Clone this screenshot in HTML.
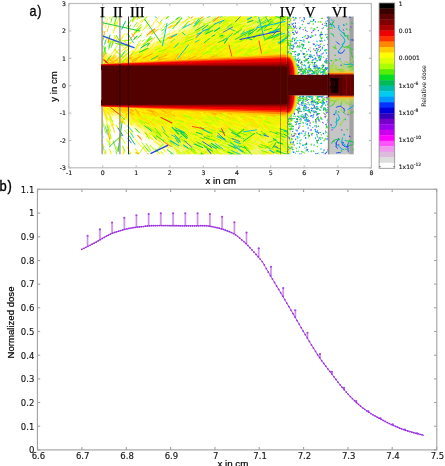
<!DOCTYPE html><html><head><meta charset="utf-8"><title>Dose figure</title><style>html,body{margin:0;padding:0;background:#fff;width:445px;height:466px;overflow:hidden}</style></head><body><svg width="445" height="466" viewBox="0 0 445 466" style="display:block">
<rect width="445" height="466" fill="#fff"/>
<defs>
<clipPath id="cA"><rect x="101.6" y="16.5" width="185.79999999999998" height="137.8"/></clipPath>
<clipPath id="cV"><rect x="287.4" y="16.5" width="40.5" height="137.8"/></clipPath>
<clipPath id="cVI"><rect x="327.9" y="16.5" width="25.80000000000001" height="137.8"/></clipPath>
<linearGradient id="gUp" gradientUnits="userSpaceOnUse" x1="0" y1="66" x2="0" y2="16.5"><stop offset="0" stop-color="#ffdc00"/><stop offset="0.25" stop-color="#ffea00"/><stop offset="0.55" stop-color="#f8f010" stop-opacity="0.9"/><stop offset="1" stop-color="#e4f040" stop-opacity="0.65"/></linearGradient><linearGradient id="gDn" gradientUnits="userSpaceOnUse" x1="0" y1="105.4" x2="0" y2="154.3"><stop offset="0" stop-color="#ffdc00"/><stop offset="0.25" stop-color="#ffea00"/><stop offset="0.55" stop-color="#f8f010" stop-opacity="0.9"/><stop offset="1" stop-color="#e4f040" stop-opacity="0.65"/></linearGradient>
<linearGradient id="g6t" x1="0" y1="0" x2="0" y2="1"><stop offset="0" stop-color="#99dd44" stop-opacity="0"/><stop offset="0.55" stop-color="#bbdd44" stop-opacity="0.6"/><stop offset="0.8" stop-color="#eecc22" stop-opacity="0.9"/><stop offset="0.9" stop-color="#ff6600"/><stop offset="1" stop-color="#dd1100"/></linearGradient><linearGradient id="g6b" x1="0" y1="1" x2="0" y2="0"><stop offset="0" stop-color="#99dd44" stop-opacity="0"/><stop offset="0.55" stop-color="#bbdd44" stop-opacity="0.6"/><stop offset="0.8" stop-color="#eecc22" stop-opacity="0.9"/><stop offset="0.9" stop-color="#ff6600"/><stop offset="1" stop-color="#dd1100"/></linearGradient>
<filter id="blur5" x="-20%" y="-20%" width="140%" height="140%"><feGaussianBlur stdDeviation="4"/></filter>
</defs>
<g clip-path="url(#cA)">
<polygon points="91.6,70.0 91.6,59.0 128,58.0 229,6.5 297.4,6.5 297.4,70.0" fill="url(#gUp)" filter="url(#blur5)"/>
<polygon points="91.6,101.4 91.6,112.4 118,113.4 194,164.3 297.4,164.3 297.4,101.4" fill="url(#gDn)" filter="url(#blur5)"/>
</g>
<g clip-path="url(#cA)">
<path d="M121.8 50.9L129.9 44.5M277.8 65.6L281.0 63.8M205.2 52.0L207.4 50.0M275.2 121.7L279.0 123.4M137.3 125.1L140.5 127.2M235.2 112.5L241.2 116.4M225.5 121.8L230.2 124.3M268.5 56.6L277.0 52.9M220.0 109.2L226.2 112.6M172.0 106.4L182.3 110.3M221.6 54.7L224.6 53.5M182.4 58.0L185.9 56.7M256.3 66.5L262.5 65.4M205.3 121.3L209.4 117.1M227.4 47.0L233.2 44.9M223.4 124.6L229.7 127.7M114.4 104.6L121.6 106.7M240.1 113.1L243.5 116.3M279.0 43.9L283.5 42.6M267.6 108.5L276.3 111.0M195.1 117.1L201.1 119.1M104.4 60.3L105.5 56.2M212.0 123.9L216.7 131.1M191.6 64.7L197.7 61.6M222.2 104.8L227.6 106.2M279.2 108.5L287.1 111.9M222.8 123.9L229.9 127.0M206.4 59.6L209.9 58.6M224.4 58.3L233.3 53.9M275.1 63.6L278.0 62.8M204.0 125.3L209.2 128.7M249.3 124.3L254.0 125.6M115.9 52.9L119.3 49.1M252.0 109.4L255.7 112.8M214.8 64.7L216.9 62.1M267.5 63.0L272.0 61.5M252.6 47.6L259.3 42.2M274.6 106.4L277.7 109.6M214.0 62.9L217.6 59.5M226.8 116.5L231.3 118.3M277.0 108.5L284.3 111.4M275.1 112.4L280.4 115.3M210.9 59.6L219.7 55.5M129.1 111.4L138.6 116.2M246.9 60.5L255.1 56.1M239.8 108.3L245.1 110.2M243.5 120.0L251.8 126.4M199.1 45.0L208.0 41.7" stroke="#ffdd00" stroke-width="0.9" fill="none" stroke-linecap="round"/>
<path d="M170.7 153.5L176.2 158.6M191.4 133.0L198.6 136.1M254.0 38.1L256.6 34.2M231.2 27.2L233.6 24.8M219.3 23.9L225.8 19.1M264.0 146.6L272.0 149.1M228.2 149.1L231.2 150.1M239.1 38.6L244.2 30.7M288.0 148.1L291.8 153.6M207.7 17.4L215.2 13.5M258.1 133.7L261.8 136.2M265.1 17.6L270.9 13.5" stroke="#33dd11" stroke-width="0.9" fill="none" stroke-linecap="round"/>
<path d="M203.4 25.0L211.2 21.7M223.1 136.4L229.0 142.1M179.8 133.1L188.0 136.1M229.3 140.0L234.2 142.3M222.1 25.7L229.6 20.5M190.1 145.1L193.0 146.8M219.3 27.8L228.9 23.3M228.7 35.6L232.1 32.0M207.5 39.1L210.7 37.7M237.6 23.4L243.2 20.9M259.8 30.6L268.9 24.6M243.2 151.3L245.8 154.8M239.1 128.2L245.0 131.8M284.8 142.4L294.2 145.1M283.4 134.7L289.8 136.6M269.9 152.9L277.3 150.8M213.1 139.4L218.9 142.4M230.0 142.1L236.9 148.6M261.9 153.8L264.3 156.5M225.2 136.8L229.4 138.5M245.1 129.1L251.5 131.4M276.1 133.5L280.7 135.7" stroke="#bbff00" stroke-width="1.1" fill="none" stroke-linecap="round"/>
<path d="M184.2 150.6L189.5 156.1M263.6 64.2L267.2 62.7M286.3 105.8L292.4 108.9M191.2 47.4L197.1 45.7M208.9 145.9L215.1 148.5M246.7 105.4L250.4 108.1M128.0 118.8L132.9 124.1M144.0 55.2L148.9 49.4M216.9 64.6L225.1 60.5M139.8 58.2L143.3 55.1M192.1 114.1L196.8 120.3M226.5 16.1L234.2 12.2M271.4 45.9L280.5 51.9M133.9 34.5L138.5 29.7M269.4 106.1L273.8 107.4M141.0 111.5L143.8 113.9M141.6 107.2L149.6 113.9M119.1 105.7L124.0 107.4M280.7 24.9L290.1 21.3M136.2 108.0L145.3 112.3M198.5 137.7L201.1 139.4M222.8 150.1L231.5 155.1M284.2 132.5L294.6 136.1M247.8 45.3L254.8 41.0M157.8 116.8L160.9 118.8M245.0 46.7L250.9 48.4M287.0 40.1L292.4 31.8M204.0 51.8L209.2 47.5M190.1 133.7L198.2 138.9M183.6 66.6L193.1 62.9M100.3 65.8L101.6 60.9M222.7 51.2L225.9 50.3M241.3 109.6L251.4 112.9M160.8 49.5L164.6 46.2M133.9 57.8L142.1 52.4M261.4 113.4L269.8 117.8M280.0 51.9L290.0 47.8M240.9 66.1L248.0 63.3M217.4 151.8L226.2 157.9M169.4 126.0L178.5 122.2M285.9 115.8L293.5 118.1M242.3 28.4L251.8 24.1M191.0 61.8L199.8 56.2M180.3 46.1L184.9 44.3M259.6 105.1L268.0 109.3M132.0 50.7L134.6 52.5M157.1 43.6L161.9 40.5M206.0 133.8L213.5 131.7M254.3 44.3L256.7 42.1M157.8 27.5L161.7 22.4M206.1 114.0L214.8 116.5M231.4 149.5L234.2 150.8M228.6 153.4L236.8 157.6M119.5 123.8L122.8 119.1M274.7 16.8L278.6 13.7M181.3 65.9L189.9 60.6M185.7 50.4L194.9 46.3M260.9 62.1L265.7 55.0M206.6 29.1L214.2 25.8M160.5 103.7L166.0 111.5M185.5 110.2L188.6 111.7M118.6 42.2L124.6 33.7M105.7 108.6L110.2 114.9M225.3 48.0L230.7 43.1M208.7 136.0L212.2 140.4M194.2 34.1L197.7 32.9M104.8 110.2L108.1 106.4M207.1 38.0L211.8 36.5M207.8 145.7L215.2 148.8M138.9 57.2L143.2 55.2M215.4 134.8L219.3 136.7M173.8 129.2L176.1 131.4M281.8 109.6L285.5 110.7M240.0 27.6L247.1 22.7M269.8 36.7L278.3 33.5M109.3 139.6L110.3 143.4M100.7 68.1L103.3 58.5M283.7 118.6L288.8 120.2M253.7 65.6L256.9 64.6M170.1 43.9L173.4 41.6M255.7 123.4L265.0 126.5M165.4 40.4L171.3 36.4M195.8 117.9L204.7 123.2M250.2 113.4L255.0 115.0M166.1 18.4L172.7 11.8M137.9 32.6L141.7 26.8M104.1 64.8L109.6 58.1M124.4 107.6L128.4 109.5M202.2 142.8L208.7 148.2M172.0 46.7L177.6 42.7" stroke="#ffff00" stroke-width="1.1" fill="none" stroke-linecap="round"/>
<path d="M235.4 119.1L240.5 121.6M113.3 33.0L116.2 22.4M154.3 58.2L159.9 54.3M145.0 51.8L148.9 48.7M262.6 36.2L272.6 32.4M186.1 113.6L192.9 119.9M121.5 119.5L124.6 122.5M204.4 150.0L211.6 157.7M256.6 143.8L260.7 149.3M144.5 65.6L153.9 61.9M217.2 21.7L219.9 19.8M280.1 120.8L285.7 124.2M120.3 119.9L125.3 124.2M215.5 147.4L219.0 149.0M148.4 56.5L156.4 51.2M141.0 68.0L146.3 61.0M260.3 140.9L262.9 144.1M261.7 141.2L266.8 146.1M238.0 32.1L244.5 23.3M229.7 32.0L233.1 33.5M128.1 113.7L131.5 112.6M208.0 150.2L212.6 152.4M262.3 125.2L269.5 128.1M152.3 129.7L160.2 134.5M176.2 37.1L185.0 30.7M219.4 137.9L225.1 141.0M185.8 109.4L189.2 110.6M191.6 139.6L197.6 142.8M264.6 109.9L267.2 112.7M207.1 107.9L213.0 113.6M222.9 37.0L229.9 33.2M269.5 62.8L275.6 65.9M228.5 56.1L231.7 55.1M204.7 67.0L208.6 61.7M109.7 18.0L110.8 13.8M231.8 60.4L240.4 54.6M238.0 107.8L243.5 113.9M203.0 63.2L207.3 61.4M128.5 60.5L135.6 58.4M266.0 55.1L271.0 53.4M140.1 59.0L148.4 56.7M174.5 109.9L181.5 114.4M248.7 136.2L256.3 138.3M202.9 59.3L207.6 52.9M285.2 121.8L288.0 124.6M178.6 131.0L182.1 133.0M234.1 41.2L237.7 37.9M99.0 51.2L100.3 56.0M208.6 131.2L215.3 134.7M173.8 64.3L179.7 62.2M276.4 146.3L283.8 149.8M274.2 104.7L282.5 109.9M169.8 131.2L180.0 135.2M99.3 62.9L102.0 52.8M203.1 153.4L209.9 157.2M224.0 143.0L228.0 144.4M112.8 107.9L118.2 110.0M183.0 65.5L190.3 63.4M169.8 28.0L178.5 22.4M275.6 44.2L281.4 42.6M168.9 137.0L172.6 142.8M265.9 108.1L269.5 112.0M125.9 60.9L133.9 57.4M213.6 24.5L222.4 21.1M224.1 62.5L228.4 58.2M275.8 150.9L282.5 155.3M259.1 27.2L267.4 24.2M213.6 111.6L217.7 113.0M218.1 38.1L225.9 35.4M135.3 148.9L141.6 157.5M100.8 61.7L103.0 53.4M262.5 132.9L267.8 135.6M269.2 153.4L274.3 151.7M268.7 62.1L274.0 58.8M235.1 54.4L240.6 50.1M255.2 154.8L261.7 157.1M180.0 139.6L183.3 141.7M278.4 62.1L283.4 58.8M206.4 105.0L214.5 111.3M280.7 64.0L285.0 61.2M231.6 152.2L238.4 155.2M168.8 104.7L174.3 108.5M233.7 28.7L239.8 23.0M162.8 63.7L168.1 61.3M188.9 42.8L193.9 41.2M231.7 107.8L238.4 113.1M236.7 51.9L240.0 55.5M154.1 141.1L160.0 145.3M222.8 31.1L226.6 28.2M133.6 51.8L140.5 43.5M142.6 147.2L146.3 152.0M162.8 103.0L168.5 110.4M198.2 49.3L202.6 47.5M262.1 12.4L267.5 15.5M266.7 152.3L272.2 155.6M266.4 143.8L271.2 145.7M278.5 17.8L287.0 15.3M173.6 108.3L178.8 111.4M215.4 147.4L220.1 153.8M145.1 132.2L152.7 139.5M183.4 40.5L192.7 35.7M277.2 108.8L280.3 110.0M164.8 57.0L171.6 54.0M162.9 148.2L165.2 151.7M275.8 31.6L279.6 30.5M206.4 134.8L211.1 136.3M131.9 59.2L140.3 53.4M238.8 22.8L245.0 14.1M222.1 108.9L231.0 113.0M174.6 147.2L179.9 155.2M219.9 35.4L227.4 33.3M245.0 51.3L247.3 48.7M258.5 105.5L261.3 107.6M109.8 149.3L111.5 155.4M266.7 145.1L276.7 148.1M197.9 40.4L207.2 35.8M186.5 150.7L190.9 153.3M159.7 105.6L163.9 112.4M280.9 33.6L284.3 29.4M122.6 155.4L124.1 150.3M207.9 118.6L210.8 120.4M261.8 145.0L265.9 148.9M233.2 134.7L237.3 137.4M178.4 46.7L186.7 43.5M248.4 141.5L256.6 144.7M197.7 64.9L205.8 62.6M284.1 115.6L288.7 116.9" stroke="#ffee00" stroke-width="1.1" fill="none" stroke-linecap="round"/>
<path d="M279.8 18.8L286.3 16.3M108.8 141.3L110.0 146.0M273.0 54.0L279.3 50.5M223.0 24.0L229.2 17.7M281.4 44.2L285.0 42.9M179.8 137.6L184.9 142.5M239.9 28.0L245.3 25.6M134.4 32.7L141.1 24.5M175.9 132.5L182.7 137.6M144.3 20.1L146.9 15.9M235.8 52.9L245.3 49.2M149.5 54.9L152.9 53.2M121.4 55.3L124.5 52.7M263.3 114.2L269.3 118.5M250.0 50.4L256.7 46.5M263.7 53.6L269.2 49.5M271.5 21.9L277.6 16.1M199.3 155.3L208.8 150.8M165.7 52.3L170.6 50.8M214.6 116.7L220.2 118.5M227.9 36.3L235.5 34.2M213.0 117.1L219.8 119.0M275.2 138.3L278.5 136.8M267.7 26.2L272.9 22.6M100.1 43.2L101.0 39.8M255.3 116.6L265.2 120.0M156.5 150.8L163.1 144.0M285.5 19.2L288.3 15.6M235.4 139.3L239.6 141.3M202.7 151.5L205.2 153.2M109.8 117.3L112.7 121.6M281.0 130.9L288.3 134.7M194.6 138.3L197.6 140.1M227.4 46.9L231.2 45.7M137.9 119.9L145.4 124.0M271.2 154.6L279.8 158.3M199.1 139.7L205.6 146.4M108.7 129.6L111.1 138.5M287.1 18.3L291.7 13.1M155.4 49.9L159.9 47.9M193.7 26.2L200.5 22.7M252.6 22.9L262.1 19.2M211.1 53.3L219.2 58.6M281.3 144.6L289.8 151.0M267.6 46.6L270.6 48.3M253.6 115.6L256.3 117.6M255.7 49.2L264.5 44.5M210.2 129.3L215.5 131.0M115.2 50.1L123.1 57.6M242.1 142.5L246.9 148.4M197.4 41.7L203.4 38.2M208.2 54.4L215.3 51.9M247.5 30.4L254.3 28.4M275.0 135.4L284.1 140.0M146.2 143.8L150.9 151.0" stroke="#aaff00" stroke-width="1.1" fill="none" stroke-linecap="round"/>
<path d="M168.1 49.9L174.6 47.3M149.3 125.1L151.8 128.8M96.9 116.5L98.3 121.7M238.4 131.5L246.6 138.3M268.1 129.9L272.6 131.3M268.1 31.1L272.6 24.8M271.0 126.6L278.3 130.6M260.6 116.1L265.3 117.4M252.4 124.7L257.0 117.7M170.0 120.8L177.8 126.9M99.6 23.3L101.7 15.3M102.4 35.5L103.5 31.4M283.5 127.1L289.7 129.1M126.6 35.2L130.6 29.6M186.7 133.1L190.6 134.5M218.8 129.6L227.7 134.4M277.7 47.0L286.2 43.4M187.2 131.1L192.3 134.7M154.3 132.5L160.2 137.3M242.1 138.4L249.7 140.8M218.7 38.9L224.3 33.7M215.7 48.8L220.6 44.6M165.7 145.7L168.7 147.9M208.8 116.6L216.3 119.2M271.3 38.0L279.3 35.1M262.2 46.3L267.7 37.7M216.9 116.5L221.3 119.0M248.3 53.7L252.7 52.1M160.2 38.9L169.2 33.6M232.1 140.9L240.7 147.2M175.0 125.4L183.4 129.1M266.1 145.3L269.9 146.7M237.2 42.5L245.0 38.8M232.8 119.7L238.9 126.5M275.6 52.7L281.5 49.7M196.8 51.9L202.5 49.6M245.4 123.5L252.4 125.7M146.2 27.8L148.9 23.8M242.5 134.3L250.9 141.2M145.8 36.9L152.1 31.9M182.5 48.1L190.9 44.5M209.8 53.9L215.6 52.3M131.1 115.5L134.1 118.4M251.2 53.9L254.2 52.9M157.4 154.2L161.3 159.4M212.4 44.3L218.8 40.0M243.8 131.8L249.2 139.7M267.9 154.8L277.6 157.7M235.0 138.5L241.8 143.7M252.0 49.9L255.3 48.4M177.6 149.2L183.3 156.7M112.9 42.2L114.5 37.6M121.3 46.1L125.8 39.9M272.8 123.8L277.5 126.2M210.2 133.6L216.0 136.7M226.4 40.3L232.5 37.2M212.9 117.4L221.8 120.1M244.4 132.7L247.7 137.7M186.6 118.3L189.5 120.1M204.7 40.7L210.2 33.2M221.2 148.2L228.0 152.6M272.8 146.9L277.2 149.0M151.7 122.2L155.4 123.5M244.9 49.8L249.0 46.9M235.5 21.7L242.8 18.7M207.4 52.5L216.6 48.8M259.9 17.6L264.9 10.0" stroke="#ddff00" stroke-width="0.9" fill="none" stroke-linecap="round"/>
<path d="M196.9 47.7L203.5 43.3M162.2 114.9L172.3 118.8M272.1 49.0L277.7 45.8M238.9 126.1L243.1 133.0M128.5 105.5L131.1 108.7M240.3 63.0L247.4 59.6M280.5 141.0L290.6 144.9M266.9 144.9L272.8 147.8M224.5 38.9L227.2 36.2M175.5 117.5L185.2 120.4M163.9 116.9L171.9 119.4M155.2 124.1L158.5 127.2M159.9 123.0L165.7 125.5M224.9 21.0L231.5 18.1M184.4 55.6L191.1 52.0M262.4 129.3L269.4 131.4M96.0 64.1L98.3 55.4M156.3 60.2L160.4 58.8M277.1 145.7L282.6 142.0M238.0 19.3L247.7 15.5M264.2 48.8L271.2 44.8M148.2 117.4L151.9 119.5M213.2 110.5L220.8 118.3M111.4 26.4L112.3 23.2M163.9 132.0L167.3 136.3M167.0 111.4L175.4 108.8M244.0 39.6L248.6 38.1M260.8 56.8L267.3 54.7M173.3 39.6L175.3 36.9M286.1 18.9L291.3 17.3M268.4 151.3L272.9 152.6M170.5 135.6L175.6 139.2M283.4 62.8L290.5 55.8M191.1 107.4L197.6 109.2M182.9 146.1L189.2 149.6M234.5 57.4L239.1 54.9M269.9 62.6L276.4 59.3M161.0 125.2L169.8 128.6M268.4 64.1L272.7 61.4M253.8 133.1L262.1 137.1M247.1 123.1L252.7 126.1M225.7 121.2L232.9 125.8M268.8 60.1L273.6 64.2M122.2 146.4L124.8 153.4M228.6 134.0L234.3 136.6M234.4 20.5L240.8 16.9M210.0 116.0L216.6 118.2M142.1 106.2L149.7 109.3M103.8 110.8L106.5 117.2M260.1 24.9L262.9 21.5M229.7 140.6L235.1 142.8M136.2 105.6L139.6 109.4M222.6 153.2L231.5 159.2M108.0 134.0L109.5 139.4M186.0 113.9L189.9 119.4M267.1 124.3L276.6 127.3M272.0 113.9L277.7 112.1M210.9 104.2L218.8 109.1M241.0 119.5L250.7 122.9M266.0 107.9L275.0 113.0M201.3 38.9L209.5 32.8M242.4 120.1L248.7 122.0M143.2 115.6L151.9 118.1M213.0 123.5L218.6 126.6M177.9 43.7L185.0 41.2M180.1 125.4L186.9 132.4M258.7 64.8L261.9 63.8M252.5 104.1L259.0 107.2M252.8 47.6L259.7 39.3M238.5 153.9L246.0 156.8M251.4 141.5L256.3 143.7M258.7 128.9L265.2 131.0M102.8 64.1L108.0 55.7M124.5 116.0L128.8 118.2M108.4 131.3L110.3 138.5M285.5 31.2L293.7 36.5M142.2 59.8L147.3 65.0M259.5 50.4L268.0 47.9M204.0 67.2L212.9 62.5M275.9 150.3L282.9 154.7M154.0 54.6L162.9 51.3M253.3 118.6L257.1 124.2M287.4 25.1L292.5 22.8M204.5 113.4L209.7 115.4M261.3 63.6L269.8 61.2M204.2 117.8L208.2 119.1M271.3 134.0L277.5 141.8M262.6 53.3L269.9 59.4M262.2 47.1L265.0 45.5M183.5 59.1L189.1 56.5M236.1 62.0L239.9 60.2M245.4 62.7L249.3 59.4M281.9 141.9L290.8 145.1M271.9 17.4L276.3 15.6M161.0 68.0L169.4 61.1M145.2 112.3L151.1 114.8" stroke="#ffff00" stroke-width="0.8" fill="none" stroke-linecap="round"/>
<path d="M264.0 48.5L268.1 43.0M197.5 41.4L203.7 39.6M215.8 118.8L222.3 121.0M207.0 44.1L217.3 48.0M219.2 114.4L226.6 117.5M222.3 25.2L225.9 22.3M254.9 55.9L257.2 53.6M162.2 117.2L167.1 119.1M220.8 33.4L223.3 31.0M232.6 38.4L235.7 34.9M244.8 37.7L248.4 35.4M198.2 42.3L203.9 39.3M241.8 47.0L245.6 42.1M253.2 57.1L259.8 52.2M102.4 118.6L104.4 126.0M263.9 52.5L267.7 53.6M261.1 114.5L266.4 117.4M149.4 132.8L156.0 137.6M276.7 142.6L286.9 145.5M235.8 139.0L238.9 140.9M163.9 40.7L170.6 37.8M152.4 116.3L156.3 119.2M223.6 149.3L231.8 153.1M194.4 51.0L202.7 48.5M231.4 39.5L240.9 36.7M233.4 115.2L243.3 119.8M283.8 44.7L293.0 40.5M277.1 141.6L286.9 146.1M208.3 160.2L216.0 154.1M166.8 57.2L172.6 51.3M162.1 42.1L169.3 36.6M262.0 54.4L265.8 52.8M160.1 122.7L164.8 117.7M281.6 23.2L286.6 27.8M202.7 144.8L210.8 149.0M229.5 129.1L236.3 126.5M256.2 57.1L264.8 54.4M237.0 121.2L244.5 124.8M212.8 50.8L221.2 47.4M212.0 155.8L217.3 158.7M277.7 145.6L287.3 150.5M232.6 131.3L236.5 137.3M193.4 52.5L198.9 48.8M232.0 56.0L240.1 53.1M256.9 39.5L263.7 35.6M134.2 115.8L138.4 121.4M222.5 53.4L226.9 51.3M219.8 141.9L224.5 144.4M191.5 143.0L194.3 144.9M239.7 142.8L243.0 146.1M209.7 42.5L215.4 40.5M193.7 39.8L199.5 38.0M215.6 25.2L224.5 19.1M179.1 49.6L184.6 45.1" stroke="#eeff00" stroke-width="0.8" fill="none" stroke-linecap="round"/>
<path d="M286.3 127.6L291.8 131.6M241.1 119.2L246.0 122.5M161.9 132.0L167.1 135.8M238.3 28.8L242.0 25.0M279.8 30.9L287.7 28.6M217.8 107.4L224.6 111.5M233.1 122.0L238.5 126.4M270.0 144.6L277.3 150.8M262.9 154.4L272.7 159.0M186.7 57.0L190.5 56.0M259.7 136.7L265.6 138.6M210.2 131.4L216.2 133.1M181.6 61.6L190.7 58.4M286.7 153.1L291.8 157.5M208.8 32.9L215.9 30.3M141.7 22.8L143.9 19.2M277.0 117.4L282.0 123.1M180.7 108.5L185.9 111.2M206.3 49.5L208.6 46.7M160.4 61.5L162.9 59.4M242.6 147.0L248.8 143.7M269.3 142.2L276.0 144.0M237.9 108.8L244.3 116.0M248.9 58.1L253.8 56.8M228.0 129.2L231.0 131.0M260.3 34.2L265.1 27.0M200.3 149.4L205.1 153.2M163.6 139.8L169.8 144.3M196.9 146.5L202.9 153.1M208.4 126.6L212.1 127.9M267.7 117.5L274.6 120.7M249.5 61.1L256.7 57.5M252.8 104.7L261.9 106.3M169.7 129.2L174.9 136.0M246.8 143.6L252.4 149.4M258.8 63.3L264.6 59.5M218.7 20.7L227.6 14.7M162.2 63.1L169.0 61.1M247.4 120.8L255.3 124.9M242.3 43.4L245.2 42.2M218.6 57.2L221.4 55.7M275.2 111.7L283.2 114.5M184.5 51.4L188.2 49.9M234.7 142.0L238.7 143.4M202.3 129.3L209.2 137.0M137.2 110.4L141.5 111.7M248.4 108.7L257.6 114.0M181.2 23.0L188.9 18.8M240.5 124.1L242.5 126.5M139.2 55.4L144.1 53.8M265.3 47.9L269.1 46.5M273.4 31.6L276.3 27.8M213.9 29.6L222.2 24.2M122.2 61.3L130.1 58.0M157.2 153.5L164.3 160.3M185.0 37.7L188.8 36.3M165.0 119.6L171.9 121.7M231.2 105.8L237.7 108.6M174.7 133.7L181.2 138.3M234.3 146.9L241.6 150.7M190.8 58.5L193.9 57.5M286.4 57.7L289.4 59.3M233.5 19.3L236.6 16.8M140.7 58.2L149.6 53.8M120.2 41.1L122.9 36.8M260.9 149.2L264.2 154.3M187.8 38.8L191.7 36.6M141.0 109.3L147.8 117.5M151.1 64.6L156.5 62.7M147.1 120.2L155.1 123.0M179.5 107.2L189.4 110.9M257.1 117.3L260.9 119.3M230.2 64.0L239.0 60.7M205.7 109.4L210.1 111.1M128.8 58.2L135.9 55.1M160.1 109.1L168.8 114.9M209.3 27.1L215.3 22.5M189.8 63.7L193.0 62.7M215.4 63.3L220.6 61.6M201.5 36.1L205.7 31.3M149.3 28.7L155.7 20.6M228.2 124.0L235.8 121.5M252.1 67.0L261.4 62.9M143.5 107.2L145.6 110.6M104.9 110.0L108.2 120.2M224.9 118.2L228.4 120.5M148.5 116.9L153.7 118.3M187.5 50.0L190.4 48.4M237.2 35.8L240.3 35.0M256.6 143.4L264.8 147.0M267.3 19.7L274.6 16.0M193.5 53.4L202.5 50.5M286.7 53.5L290.8 50.4M96.9 113.3L99.7 102.9M152.7 120.7L160.2 118.6M242.8 57.6L248.4 56.1M220.6 112.4L226.9 114.4M186.2 59.0L194.9 56.2M100.0 26.9L102.4 18.0M201.1 128.4L209.5 131.1M279.4 22.4L286.7 16.5M234.1 47.7L239.3 40.3M164.7 52.3L167.2 50.6M95.2 103.5L98.2 109.2M202.1 46.7L207.5 41.5M109.4 109.9L112.9 115.4M254.4 108.4L262.6 112.2M170.8 137.5L178.8 143.9M166.4 63.5L171.0 61.2M233.2 107.5L237.1 110.7M286.3 110.1L289.2 112.4M156.2 19.7L159.2 23.5M138.4 62.8L145.5 56.5M279.5 104.9L285.5 111.5M125.2 108.8L130.4 111.1M136.4 65.8L140.3 64.4M203.7 60.7L210.8 63.0M274.1 113.6L276.6 116.5M100.8 104.4L108.9 110.6M284.2 145.1L287.5 150.5" stroke="#ffee00" stroke-width="0.9" fill="none" stroke-linecap="round"/>
<path d="M246.5 142.7L252.3 146.9M146.1 63.8L152.5 58.3M239.9 59.1L244.3 56.1M149.6 107.1L154.6 108.8M153.3 63.5L156.3 62.5M213.0 36.4L222.6 33.1M172.2 64.2L178.0 61.7M154.1 104.9L160.3 106.1M121.1 44.2L125.7 50.4M212.5 137.6L218.6 139.4M280.9 21.0L286.9 18.2M202.4 112.3L205.3 113.5M148.1 51.0L154.3 43.1M187.3 142.7L195.2 149.5M169.0 109.1L177.8 113.6M272.0 27.7L277.0 21.1M244.2 17.0L248.6 12.8M279.9 54.0L284.0 52.7M269.2 106.5L274.3 111.6M205.2 128.3L208.3 130.4M138.6 11.9L141.2 15.9M193.4 114.9L201.3 119.9M219.7 122.5L227.9 120.0M181.1 125.4L191.2 128.9M227.0 61.1L231.2 59.6M208.7 60.4L216.7 58.1M114.3 35.4L118.8 44.3M280.5 19.3L285.5 17.3M234.4 58.1L238.7 55.6M97.9 66.3L99.1 62.8M166.6 116.2L175.0 121.3M286.7 66.2L291.4 64.8M258.1 113.3L262.0 115.3M269.0 49.2L272.7 44.7M177.3 138.6L181.4 140.5M154.9 119.7L161.3 122.3M235.3 56.7L243.4 53.7M228.9 118.4L237.2 121.6M239.9 140.7L248.5 146.3M147.2 114.2L152.9 116.0M255.2 153.7L259.5 157.3M268.0 60.5L274.4 54.1M284.4 115.0L294.9 118.2M198.0 108.6L201.6 114.2M270.8 151.6L275.0 152.9M131.6 106.8L138.1 110.7M143.2 109.2L152.3 113.8M151.8 106.1L158.2 111.0M106.0 63.6L109.5 59.2M155.5 135.4L162.0 143.2M287.0 23.6L291.4 20.8M250.8 66.1L259.7 60.1M214.4 150.1L218.2 152.0M158.9 55.4L166.3 49.9M226.4 57.0L229.4 55.5M190.3 57.6L192.9 55.8M173.9 59.5L180.6 53.8M253.2 109.3L262.3 114.2M229.4 109.7L234.1 116.3M226.7 23.1L231.4 18.7M162.8 67.3L171.3 62.1M230.2 138.1L234.2 139.3M269.1 105.3L273.8 107.7M215.3 21.6L218.8 19.4M234.1 16.8L243.1 12.4M191.0 44.7L200.3 40.9M165.9 57.6L170.0 55.9M223.7 32.8L227.5 31.4M193.4 131.4L197.9 134.2M215.4 128.7L222.8 135.2M182.6 65.4L191.2 62.2M189.9 141.6L193.7 144.0M160.2 129.0L163.5 130.8M163.6 131.0L167.3 135.5M234.6 148.0L239.8 155.9M246.1 40.6L248.9 37.3M279.9 29.6L289.9 26.3M213.0 121.2L218.5 130.0M264.2 35.8L266.8 37.3M111.0 110.7L113.8 112.3M228.2 153.7L234.2 157.7M241.5 61.6L246.4 59.0M206.0 140.4L210.3 143.8M192.6 40.2L198.7 38.3M213.2 52.4L220.7 48.5M245.0 105.2L250.8 108.1M193.5 39.7L199.6 36.7M268.0 60.1L274.3 58.0M134.3 111.6L139.4 119.2M243.8 21.5L249.3 19.6M274.5 110.9L278.9 112.8M219.5 120.1L225.6 122.3M191.4 110.1L196.4 107.5M224.0 156.0L230.9 152.9M236.1 132.2L241.3 127.1M200.0 132.1L210.1 136.2M248.6 36.0L256.1 33.7M214.3 31.7L216.8 29.2M239.6 21.3L244.7 19.3M195.6 117.1L202.1 121.7M283.0 67.6L291.2 61.1M273.2 149.1L278.0 152.3M136.8 56.0L145.1 50.9M181.2 106.6L189.6 113.0M256.7 112.6L259.5 115.5M255.4 16.9L262.3 11.9M210.3 134.0L213.8 136.5M228.7 33.8L233.3 30.6M271.2 143.2L275.4 146.2M117.7 111.6L120.9 114.4M214.8 107.2L219.0 109.3M244.6 149.8L246.7 152.8M270.7 149.0L280.1 154.5M163.7 108.5L172.0 111.3M276.3 128.2L282.0 130.9M220.2 30.2L226.5 23.0M168.7 51.6L176.1 46.0M248.0 20.6L251.8 19.2M264.3 59.8L272.8 56.7M197.1 127.5L199.8 129.2M214.4 145.4L220.9 149.6M247.7 65.9L258.2 62.8M229.1 46.2L233.7 40.7M126.9 146.9L131.0 153.7M241.6 128.6L246.1 132.2M246.3 129.9L251.5 131.7M284.4 52.1L289.6 47.5M269.6 18.0L273.6 16.9M243.4 22.9L245.8 19.6M229.8 43.0L232.9 41.3M268.8 133.9L271.4 135.6M283.2 107.7L293.4 111.0M173.1 65.3L177.5 63.5M244.0 29.9L252.6 27.3M107.2 111.8L111.3 117.7M263.0 109.6L270.7 112.1M118.3 140.8L120.4 133.4M228.8 60.5L235.4 54.9M98.3 151.9L100.4 159.7M99.9 47.1L102.4 37.7M252.3 117.9L261.6 122.8M165.9 121.2L169.7 124.2M199.4 20.3L202.8 16.6M216.4 64.0L223.5 60.0M278.2 120.6L284.9 122.5" stroke="#ffee00" stroke-width="1.0" fill="none" stroke-linecap="round"/>
<path d="M285.3 142.2L291.5 150.6M173.3 125.7L179.9 128.1M203.5 122.4L213.5 125.8M160.7 29.5L165.0 23.9M220.3 113.3L225.0 118.3M156.7 19.6L162.8 11.7M161.3 152.4L165.3 156.4M118.9 118.4L121.7 114.5M206.0 48.9L209.2 46.2M194.4 32.4L198.9 30.3M156.0 149.9L163.6 157.2M194.1 20.2L198.5 17.8M165.4 55.1L168.2 51.8M276.0 29.2L285.9 25.3M170.9 37.8L178.6 33.0M285.7 49.4L292.8 46.7M280.7 118.8L285.5 121.1M127.6 129.7L130.4 132.6M252.7 119.7L260.0 125.3M227.4 47.9L234.7 45.7M237.4 130.2L243.0 125.4M233.1 48.6L236.6 44.0M254.5 39.7L261.5 35.1M267.2 55.5L276.2 52.8M282.9 26.1L290.9 23.7M187.3 133.6L191.0 139.0M196.5 136.0L201.5 138.4M165.8 122.1L169.1 123.3M181.7 133.1L186.8 137.7M263.2 136.3L266.0 134.0M142.6 30.7L147.1 25.1M280.9 20.3L289.6 14.1M211.7 152.6L219.4 157.1M230.8 129.1L241.1 132.9M268.9 15.1L273.9 13.4M220.1 120.2L226.2 122.1M199.3 46.5L206.7 42.2M231.7 51.0L239.8 54.7M176.3 51.2L185.6 45.6M279.2 128.0L285.0 130.3M232.8 38.7L241.3 33.9M197.2 146.3L200.8 150.8M245.4 34.7L250.6 32.4M127.6 160.0L130.8 152.7M209.7 135.0L213.4 137.9M282.1 55.5L286.8 54.1M251.2 144.2L254.4 147.6M162.3 52.8L165.2 49.8M280.3 26.8L283.7 25.8" stroke="#ddff00" stroke-width="1.0" fill="none" stroke-linecap="round"/>
<path d="M219.0 56.8L227.3 54.2M284.5 17.4L288.0 15.6M230.3 47.3L237.2 41.4M225.3 149.8L228.3 152.7M179.2 126.5L185.5 128.4M213.5 21.6L218.3 17.2M146.0 122.9L149.4 124.7M135.6 48.1L140.5 40.3M192.7 152.2L200.3 159.6M247.2 18.9L256.1 15.2M267.4 128.0L274.2 131.5M274.2 24.9L279.3 22.9M139.5 122.0L146.0 128.4M244.7 52.0L249.9 48.0M117.2 113.6L121.9 119.0M229.2 156.0L231.6 158.5M283.7 26.8L288.3 25.4M158.7 50.4L164.1 44.5M195.6 121.9L202.1 124.7M158.4 116.2L162.5 119.7M149.2 128.3L154.8 135.9M222.8 122.5L227.7 124.6M126.1 54.3L129.4 52.2M278.2 142.9L281.7 144.2M274.7 22.3L280.4 19.1M226.9 122.4L232.1 124.7M142.6 116.2L149.3 119.5M273.8 54.6L280.1 48.4M231.4 37.1L235.1 34.9M189.7 48.3L194.4 46.7M215.6 48.6L221.9 46.2M270.4 135.8L276.7 140.8M119.8 134.8L125.2 143.7M272.5 129.4L277.6 134.6M163.0 137.7L166.6 141.7M271.2 135.4L274.6 136.4M182.9 42.3L185.4 44.2M255.4 52.8L259.0 50.6M99.7 134.7L102.3 144.4M268.1 46.8L277.4 40.9M241.3 54.8L248.6 52.3M176.3 120.0L184.4 123.6M199.1 120.0L203.3 118.4M190.6 43.1L197.8 37.2M178.8 114.9L187.3 117.5M167.9 142.0L171.4 136.7M136.1 115.8L139.7 117.3M268.5 127.0L275.9 129.1M181.8 152.5L186.6 157.5" stroke="#ccff00" stroke-width="0.9" fill="none" stroke-linecap="round"/>
<path d="M129.3 57.7L133.1 52.2M105.3 18.8L107.6 10.1M203.5 53.9L211.7 51.5M224.8 112.6L230.6 119.6M212.3 53.5L215.8 51.0M236.5 142.4L244.7 148.7M171.4 48.6L179.7 42.6M185.3 152.3L190.8 148.8M212.9 120.5L218.8 122.8M271.5 41.6L274.5 43.3M209.4 128.9L213.2 131.0M178.8 123.6L187.4 129.4M114.5 49.6L118.8 43.4M141.7 41.9L144.6 39.6M161.8 34.7L166.0 28.7M124.5 130.2L130.2 136.5M156.7 56.7L162.3 53.7M223.8 153.8L228.9 156.5M273.1 53.7L277.0 56.4M277.4 114.8L283.7 121.4M172.3 122.1L179.1 124.4M192.0 141.4L200.2 146.5M162.2 42.4L168.7 37.7M267.1 118.9L270.0 120.2M265.3 53.9L272.1 50.6M275.5 150.4L280.8 153.2M193.6 150.1L199.9 154.7M167.4 138.3L173.0 147.4M239.3 42.3L248.8 38.3M282.6 43.1L286.5 37.0M208.8 118.7L211.8 120.7M188.7 138.8L195.3 143.3M220.2 48.7L224.4 46.6M108.6 49.6L111.3 39.6M193.8 127.7L200.7 129.8M230.0 121.2L232.0 124.4M210.8 49.0L217.3 44.8M249.1 121.1L255.9 126.9M267.6 25.4L275.6 22.8M204.0 129.0L211.9 134.9M219.6 30.9L229.2 27.9M280.2 33.9L288.0 27.4M205.1 46.9L212.8 43.8M141.7 142.2L147.7 151.0M167.0 119.4L171.6 121.3M134.9 152.1L137.8 156.5M152.1 118.9L154.9 120.1M180.2 135.5L185.8 139.5M269.1 55.5L272.6 53.3" stroke="#aaff00" stroke-width="0.8" fill="none" stroke-linecap="round"/>
<path d="M125.9 108.9L133.2 115.1M279.3 105.8L284.4 107.7M147.9 108.7L154.3 111.5M201.1 64.6L210.5 60.6M132.8 113.7L141.2 116.5M151.5 34.2L158.2 29.4M227.2 105.5L232.2 108.6M232.1 58.7L234.3 56.5M167.1 62.8L173.3 61.0M212.6 112.7L216.9 113.9M152.2 60.3L158.2 57.8M199.5 65.3L203.1 63.5M109.8 60.0L113.3 57.3M258.6 108.5L266.1 110.6M190.6 24.7L195.3 21.0M204.7 104.1L210.1 110.5M279.6 58.9L283.9 56.9M264.0 106.9L270.7 109.0M285.9 65.6L291.5 64.0M191.6 65.3L196.0 63.3M222.8 109.9L231.9 113.8M201.5 104.9L204.1 107.9M216.9 58.0L221.7 55.2M282.4 109.1L291.4 112.0M168.0 28.1L171.9 25.4M275.3 106.6L283.5 108.9M219.2 62.7L222.2 61.2M206.4 111.5L215.6 114.4M163.4 15.7L168.3 11.5M278.4 65.7L282.1 63.4M236.3 104.9L245.6 107.6M101.1 68.8L103.8 58.4M192.1 110.8L200.7 113.2M108.6 67.5L113.1 60.9M247.0 106.4L255.4 109.5" stroke="#ffcc00" stroke-width="1.1" fill="none" stroke-linecap="round"/>
<path d="M134.8 116.0L140.2 120.9M236.8 62.0L243.2 59.3M204.0 34.0L208.9 32.2M274.2 61.1L278.9 59.8M186.5 66.4L196.6 63.0M209.5 119.9L216.7 122.9M271.4 56.5L276.0 55.1M196.1 107.0L204.2 111.2M203.2 139.6L211.0 145.9M220.8 119.1L223.4 116.9M167.0 57.2L173.8 50.1M203.1 40.7L205.4 38.0M247.1 116.6L250.7 118.4M232.2 34.5L235.5 32.5M202.7 107.5L213.3 104.4M269.6 113.3L273.7 114.7M268.1 133.0L273.0 135.9M129.0 105.0L137.2 107.9M255.5 138.3L260.8 142.2M182.4 143.7L190.7 148.7M220.5 118.0L225.3 120.1M221.9 112.0L230.8 116.4M170.9 45.1L178.6 42.7M276.9 125.7L284.6 129.5M201.5 61.1L204.8 59.5M152.8 104.8L158.1 113.0M281.2 114.3L291.1 118.0M262.8 129.2L265.5 131.2M248.1 120.2L250.5 124.1M270.5 116.0L277.2 118.8M279.3 21.5L284.6 23.3M171.4 33.8L174.9 31.1M186.7 58.1L193.3 55.4M220.6 135.6L228.6 140.5M265.1 44.2L268.6 41.6M204.4 64.1L207.2 62.1M183.9 113.6L191.7 119.4M179.4 137.8L184.8 141.6M162.2 111.7L171.1 114.7M172.1 63.7L174.5 60.6M251.5 49.4L254.7 47.9M226.1 63.7L233.9 60.4M286.1 109.9L294.1 113.4M238.3 130.4L240.0 133.2M179.4 146.3L188.9 141.3M276.8 112.9L282.1 114.5M222.1 131.9L229.0 134.6M286.5 124.6L293.9 128.5M262.4 24.3L271.9 20.3M265.8 107.0L274.4 109.5M225.2 19.3L234.8 15.0M226.4 109.9L229.3 113.5M173.9 142.8L176.7 139.4M196.5 110.9L205.5 114.3M205.5 31.6L208.2 30.0M269.1 120.4L275.7 123.4M145.5 63.2L151.8 60.6M207.8 146.3L212.2 150.3M196.1 123.6L203.2 126.9M108.3 40.8L109.2 37.4M279.2 136.3L287.7 138.9M136.2 26.8L142.3 19.4M287.2 45.6L293.2 43.6M247.6 45.2L251.6 44.1M220.1 47.4L224.4 45.5M279.7 122.4L284.1 120.4M162.1 107.5L168.7 110.7M141.9 120.3L147.2 125.1M269.4 29.5L273.5 26.9M230.0 129.2L232.9 130.7M234.9 120.7L240.9 128.3M204.0 140.1L209.2 144.9M282.3 111.7L285.4 112.6M202.0 114.2L205.9 115.8M209.4 37.3L213.0 36.1M191.9 148.8L197.5 151.7M255.0 108.0L260.1 109.9M223.2 146.9L226.8 148.4M163.3 18.9L169.0 11.0M160.2 126.9L165.3 130.9M212.9 105.9L221.3 112.5M173.8 123.1L176.8 127.1M179.3 107.1L182.8 108.9M239.2 119.8L245.8 117.8M156.8 104.7L165.2 107.2" stroke="#ffff00" stroke-width="0.9" fill="none" stroke-linecap="round"/>
<path d="M99.2 124.4L101.3 132.1M112.3 45.2L113.8 39.9M97.5 114.9L98.9 120.1M102.4 41.1L105.0 31.4M154.2 16.1L156.8 12.2M125.1 41.7L129.3 46.2M167.6 38.1L176.5 33.9" stroke="#ff9900" stroke-width="0.8" fill="none" stroke-linecap="round"/>
<path d="M158.4 134.1L161.2 130.5M272.0 46.8L276.0 45.4M276.0 55.1L281.0 52.5M204.1 119.0L208.8 122.2M258.5 33.8L264.1 32.2M215.5 34.3L217.5 31.9M216.0 43.6L221.4 46.8M106.9 124.5L108.7 131.3M206.9 32.8L210.3 31.3M108.7 125.1L111.0 132.0M265.6 56.4L273.7 54.0M234.8 27.7L240.0 26.2M247.8 21.9L254.2 18.2M181.3 133.5L190.7 137.0M248.0 150.6L251.3 154.8M200.4 16.1L204.1 13.6M258.9 42.3L264.2 40.8M161.1 121.0L165.5 123.6M225.9 122.0L230.5 123.7M106.7 138.5L107.5 141.5M288.9 49.4L291.6 46.5M262.2 122.6L271.5 118.7M168.4 140.5L172.5 144.1M202.4 32.2L205.5 29.9M283.0 30.3L286.5 28.2M264.5 22.5L272.7 19.8M152.3 54.3L156.8 52.7M176.0 126.8L180.4 130.1M210.8 28.0L218.7 25.1M204.5 145.7L210.8 149.3M271.2 33.6L280.1 29.4M160.5 121.0L163.5 121.8M183.7 130.8L187.8 134.1M150.8 115.9L160.1 119.0M249.1 45.5L256.5 39.5M199.4 124.3L206.3 126.3M276.1 33.3L278.4 30.4M231.3 43.5L239.8 39.8M101.2 18.2L103.2 10.8M232.1 151.6L241.7 156.3M222.4 145.2L225.6 147.4M243.8 37.8L250.5 35.1M268.7 118.4L274.3 127.0M174.6 148.5L181.8 153.3M273.1 20.5L277.8 13.3M143.8 16.1L147.5 11.1M185.6 130.0L192.6 134.3M282.9 143.2L288.1 147.6M169.2 115.2L174.3 116.7M212.4 138.4L218.8 140.3M159.0 116.7L168.7 119.5M164.8 127.2L171.3 130.0M241.5 145.7L249.4 148.6M262.7 16.3L271.0 12.5M176.7 130.3L184.3 135.4M252.5 51.8L258.9 49.7M231.6 149.8L234.0 151.7M258.4 32.7L266.9 28.5M233.0 31.8L242.0 28.0M166.8 116.9L174.6 124.4M238.6 39.3L244.4 33.3M161.0 42.2L170.6 46.8" stroke="#ccff00" stroke-width="0.8" fill="none" stroke-linecap="round"/>
<path d="M179.7 130.5L188.8 135.7M182.5 32.6L185.0 34.9M118.6 65.3L121.9 63.6M100.4 31.0L101.5 27.2M281.1 130.8L286.4 132.5M257.5 22.6L260.6 21.3M204.1 136.8L208.4 138.1M273.8 30.5L280.8 28.0M101.3 45.6L103.2 38.4M197.0 141.9L200.5 143.8M245.0 35.0L252.4 32.2M247.3 37.4L253.1 32.8M228.4 137.8L234.6 140.1M269.7 131.3L278.1 134.2M256.5 132.9L265.4 135.9M235.8 136.2L243.9 138.8M180.8 131.7L187.7 137.5" stroke="#00cc55" stroke-width="0.9" fill="none" stroke-linecap="round"/>
<path d="M121.2 110.4L125.1 113.0M103.6 109.9L107.1 120.1M260.3 56.7L267.5 53.9M282.5 45.2L291.1 42.2M148.5 113.2L150.5 116.0M258.0 110.6L265.2 112.7M198.4 105.0L203.0 108.9M182.0 120.5L190.0 126.5M233.6 107.6L241.2 110.0M207.7 63.8L211.1 59.3M265.1 56.2L271.6 52.6M192.2 48.8L198.4 50.5M255.7 43.8L259.7 41.7M272.5 113.4L278.6 118.3M103.1 62.9L106.7 53.7M244.8 110.5L251.8 114.9M143.6 112.2L151.7 114.6M188.1 122.0L192.2 124.7M136.9 113.5L140.1 110.7M235.7 112.2L239.2 108.2M225.8 116.6L229.3 119.2M249.1 59.9L252.5 58.9M167.9 63.0L172.9 60.2M244.1 67.2L252.1 63.3M153.5 104.2L157.9 107.9M228.9 117.2L234.7 119.7M153.1 111.1L156.6 112.3M255.2 126.4L260.1 127.8M257.7 122.2L261.4 123.4M201.8 121.5L207.6 124.2M258.3 115.3L261.1 116.5M233.6 53.4L241.2 45.8M235.8 53.1L240.6 51.4M136.8 59.6L140.3 54.0M159.5 56.1L168.0 52.9M189.7 53.8L194.4 52.1M170.0 42.1L174.1 44.2M110.5 63.9L113.4 62.3M243.0 119.4L251.9 123.1M112.6 52.9L115.8 48.9M101.9 61.9L106.9 66.8M107.8 112.1L111.1 117.5M280.8 111.7L285.2 109.8M153.4 109.1L156.4 110.0M229.7 123.1L237.4 128.0M276.1 58.0L283.0 55.0M193.7 111.6L197.8 113.4M221.9 45.8L225.2 41.4M250.6 51.5L257.5 48.7M153.3 113.7L156.8 114.8M132.3 118.4L138.2 121.8M264.4 119.2L270.8 122.8" stroke="#ffdd00" stroke-width="1.0" fill="none" stroke-linecap="round"/>
<path d="M268.5 112.7L272.3 114.2M278.6 61.1L285.7 55.4M199.3 108.1L205.9 105.7M118.7 60.4L125.0 63.4M204.3 65.8L207.1 64.7M128.8 63.7L132.4 62.5M247.5 102.8L255.6 109.0M209.0 110.0L215.7 115.1M112.0 66.7L119.0 59.8M218.1 106.7L221.1 108.2M150.9 110.0L155.7 115.9M194.4 59.2L201.4 56.8M155.0 61.4L162.1 58.5M273.8 60.4L278.0 58.9M157.8 107.7L165.0 111.7M214.9 68.5L219.5 61.8M259.0 111.6L262.7 113.3M231.2 109.0L238.3 111.2M284.6 113.0L291.2 115.7M285.2 109.6L293.9 114.5M127.9 64.3L136.6 59.7M135.1 108.8L139.5 115.1M170.9 111.7L174.3 112.9M108.3 58.0L115.6 64.8" stroke="#ffaa00" stroke-width="1.1" fill="none" stroke-linecap="round"/>
<path d="M277.8 35.5L284.6 33.3M241.3 38.6L248.2 33.1M217.5 135.6L225.5 139.2M219.3 147.7L224.9 151.4" stroke="#00ccbb" stroke-width="1.0" fill="none" stroke-linecap="round"/>
<path d="M230.6 34.4L235.2 33.0M140.3 113.2L147.5 115.7M220.6 43.3L225.5 38.8M170.5 67.3L176.2 63.9M249.1 43.6L252.4 40.9M170.8 107.9L177.6 109.9M217.7 147.2L223.3 149.6M258.7 113.9L265.6 116.2M160.9 115.0L165.9 116.9M264.5 151.5L273.7 154.1M166.2 103.1L173.6 110.6M198.4 105.1L203.1 107.8M261.0 53.0L269.3 49.3M207.0 112.3L210.6 113.5M216.3 112.0L219.7 113.5M244.4 18.6L249.7 14.5M183.2 67.0L188.1 63.5M230.6 111.6L237.7 113.9M161.5 53.8L166.6 52.0M213.9 134.5L219.6 138.0M198.1 110.1L201.3 111.5M229.7 120.4L232.9 122.0M254.7 125.8L263.6 128.9M177.2 135.9L180.3 137.4M270.6 133.4L277.2 135.6M273.1 39.7L280.6 37.1M143.1 49.6L146.3 46.8M205.8 46.0L214.5 41.4M190.5 59.1L198.0 55.8M208.4 131.2L211.5 134.7M273.6 34.5L278.4 32.5M200.5 66.0L206.3 63.8M180.1 144.9L185.8 148.2M198.6 34.9L204.8 31.5M246.1 132.2L251.2 133.7M210.4 126.3L217.7 131.9M214.0 41.1L219.2 46.2M276.2 145.5L279.2 147.9M148.0 114.0L153.1 117.3M277.4 25.9L285.1 22.9M255.0 62.3L262.5 59.5M274.5 54.2L278.0 52.8M251.3 58.3L256.8 56.3M183.9 48.2L190.0 43.8M215.2 44.0L220.2 39.0M265.6 129.0L274.2 131.4M288.4 134.3L291.7 135.4M227.5 113.6L235.0 116.0M174.0 107.1L179.6 110.5M236.3 147.8L246.3 151.0M122.8 111.3L126.8 116.0M228.0 143.9L233.2 150.8M284.9 126.9L291.8 129.3M182.0 59.2L185.9 57.9M147.2 103.4L152.6 108.7M203.5 135.0L210.2 137.7M260.0 107.6L268.0 110.8M242.6 57.5L248.5 55.5M126.0 115.9L131.7 124.6M189.4 60.6L198.0 56.5M206.3 36.1L211.2 34.0M206.9 119.8L212.8 123.2M144.8 105.0L148.3 106.8M221.4 29.3L228.6 23.6M283.2 136.8L288.8 140.0M211.3 103.6L221.0 108.1M229.7 32.7L232.9 29.4M231.7 63.0L240.1 59.9M237.7 42.7L242.6 39.7M260.4 34.6L266.8 26.8M193.7 44.5L198.9 42.9M198.5 56.9L202.7 58.4M211.2 140.9L215.0 142.4M100.8 47.3L102.9 39.7M104.8 58.9L107.0 53.2M283.1 24.2L288.0 22.0M268.4 25.3L275.3 23.0M230.0 109.9L238.8 107.4M214.3 33.9L223.6 30.9M235.2 41.2L243.0 38.5M133.2 105.2L142.6 108.0M276.9 109.0L286.9 111.9M183.1 44.5L186.5 42.7M266.5 110.0L271.1 111.4M247.8 49.7L255.0 44.9M234.3 110.6L239.0 112.5M173.2 129.8L180.9 133.5M235.0 66.7L243.7 60.9M266.9 27.0L272.1 23.4M280.6 141.3L289.1 147.2M222.2 123.6L231.2 126.7M218.4 103.8L226.9 107.4M273.1 114.1L278.6 116.0M232.8 53.8L238.0 52.2M283.9 142.5L289.5 147.0M185.0 56.1L190.5 60.5M163.8 62.3L167.3 61.2M113.4 55.2L117.0 51.7M182.0 106.6L185.9 108.4M288.2 19.6L291.9 15.1M139.3 117.3L144.6 119.0M265.7 108.8L273.5 114.6M272.5 121.1L280.1 123.8M254.2 153.4L261.0 156.0M203.4 44.6L209.9 42.7M276.9 60.9L282.0 59.5M283.3 115.9L293.1 119.8M250.7 136.3L258.1 138.6M249.7 55.5L254.2 58.1M264.9 29.1L272.1 26.8M252.1 28.7L257.9 25.2M192.2 61.2L198.1 58.6M256.4 155.4L266.6 159.1M258.9 30.7L263.1 24.4M268.7 67.3L273.9 63.0M166.8 116.8L174.9 113.7M214.6 26.8L220.2 19.2M246.6 22.9L255.9 20.0M276.5 29.0L281.7 26.8M136.0 115.9L142.7 118.2M241.8 13.4L250.6 16.9M270.4 54.8L276.7 52.3M248.6 64.7L254.9 58.0M234.6 39.9L240.8 37.8M189.6 111.7L197.0 116.2M265.4 64.4L268.5 62.9M105.1 27.7L107.4 19.1M262.2 59.1L271.0 54.3M241.8 107.1L245.1 109.7M236.5 136.0L241.1 138.3M145.0 62.7L148.4 61.3M233.2 130.9L235.0 134.0M185.4 40.3L192.5 35.7M139.5 65.9L144.7 64.4M114.5 63.6L119.8 57.7M230.2 36.8L236.1 34.9M214.0 140.1L219.7 143.7M182.2 130.8L190.1 133.6M201.4 112.0L204.7 113.2M228.6 133.1L234.7 138.3M248.7 111.2L259.0 114.7" stroke="#ffee00" stroke-width="0.8" fill="none" stroke-linecap="round"/>
<path d="M275.2 47.3L279.3 45.7M239.1 20.8L245.0 11.9M186.2 133.3L191.7 138.6M275.4 57.6L282.6 51.0M184.4 44.3L189.6 38.7M155.7 65.7L160.8 64.0M255.0 133.6L258.1 135.2M216.3 135.3L222.2 141.4M219.3 118.0L223.0 123.7M142.9 113.6L149.8 121.9M121.7 54.3L123.9 51.8M109.3 118.4L112.2 127.4M184.5 109.6L191.9 112.9M256.1 156.1L261.5 157.9M259.5 110.1L266.3 112.1M226.7 25.3L235.7 19.4M238.7 130.0L242.6 133.1M236.3 108.0L240.4 106.6M135.4 63.3L142.0 57.5M200.3 152.3L203.1 153.9M238.4 143.1L242.5 149.1M190.8 132.7L194.1 134.1M261.1 48.1L267.3 45.3M255.1 30.6L261.4 27.8M169.9 111.7L173.9 112.9M255.5 122.0L258.7 123.5M175.2 52.1L180.9 50.0M260.8 141.3L268.0 144.3M248.4 59.5L255.4 57.2M263.5 153.5L268.5 155.3M157.3 107.7L162.1 111.4M238.8 61.0L242.0 55.8M280.9 66.3L286.0 63.7M278.7 126.1L288.2 129.1M174.3 63.1L180.4 66.3M107.2 65.0L113.7 61.1M186.7 45.9L193.5 43.0M176.6 47.3L182.1 44.9M103.0 64.2L106.3 54.0M202.4 52.7L212.3 49.4M280.6 116.5L283.4 120.3M196.8 22.5L199.1 18.5M281.4 45.5L288.2 43.5M137.8 108.2L143.9 111.5M227.0 61.6L236.3 58.3M236.9 117.1L240.5 118.1M204.4 130.5L213.5 133.4M102.9 143.7L103.9 147.1M114.5 64.5L119.7 58.8M182.6 49.6L192.1 45.9M284.3 21.1L288.2 18.3M221.0 136.0L230.7 139.2M150.4 56.5L158.5 49.4M199.5 134.2L205.4 140.9M286.2 119.5L289.9 122.4M174.5 122.7L177.5 125.2M250.8 17.1L254.5 11.2M195.1 151.4L204.0 156.1M214.0 61.7L217.7 58.4M239.1 126.0L245.4 131.2M223.7 128.0L233.3 130.8M278.9 127.8L288.0 132.7M146.1 137.3L151.9 131.5M211.5 124.6L217.5 127.3M200.7 104.7L207.2 108.3M242.8 151.0L247.3 149.2M220.5 149.4L227.3 153.8M283.0 45.3L286.6 40.6M281.5 134.5L290.6 137.9M152.5 60.8L158.3 59.0M234.9 31.0L236.5 28.4M134.6 138.6L141.4 146.5M286.6 145.6L290.2 146.7M259.4 113.5L264.1 118.6M286.8 45.5L292.5 43.8M172.5 122.7L179.5 126.4M226.1 149.3L229.8 151.1M163.2 127.1L168.6 129.2M158.7 62.6L164.9 59.5M187.0 45.2L195.4 42.3M248.4 109.3L251.4 111.3M136.4 66.2L141.4 62.4M159.6 125.1L162.0 127.3M132.4 111.7L137.5 115.7M197.7 108.6L203.3 111.8M282.4 55.8L287.8 52.0" stroke="#ffff00" stroke-width="1.0" fill="none" stroke-linecap="round"/>
<path d="M255.3 54.7L260.5 46.5M219.5 26.2L222.3 28.7M215.6 43.4L222.0 49.9M195.6 140.0L198.1 141.9M264.3 152.2L269.9 158.7M265.8 130.8L274.5 133.4M270.8 19.6L273.5 17.7M184.0 129.4L190.9 137.7M274.5 144.4L282.0 147.2M138.4 55.2L143.7 53.6M179.3 26.0L186.5 19.9M185.8 50.6L190.6 48.4M227.2 151.9L235.0 159.3M218.6 148.3L222.8 150.2M202.1 153.0L208.3 161.4M241.7 114.1L246.1 119.2M265.4 26.6L274.3 23.8M247.0 144.5L255.2 148.7M287.6 56.6L291.3 53.2M271.9 52.6L280.1 46.9M228.5 123.5L234.5 127.2M228.6 44.0L232.9 42.5M212.4 52.9L217.2 51.3M253.9 49.3L261.1 45.0M242.2 152.4L248.8 160.2M240.0 49.6L248.7 52.4M284.2 30.7L294.3 27.8M154.5 131.4L159.1 133.9M238.8 38.0L244.7 36.0M109.9 46.2L111.4 40.8M155.1 53.0L163.6 48.0M273.5 130.9L279.8 132.8M202.3 38.7L211.3 33.8M272.3 29.2L280.1 25.9M272.1 51.3L279.5 47.5M160.7 58.3L163.6 56.4M107.8 46.9L110.2 38.7M273.9 127.1L279.4 135.3M146.3 25.3L149.2 20.6M168.7 120.8L172.3 126.0M271.4 146.6L279.5 149.7M101.5 43.1L103.7 34.8M210.8 122.0L219.0 124.6M184.2 130.4L187.3 133.2M214.0 56.5L219.0 55.0M284.0 27.5L292.3 23.7M254.0 16.0L257.1 19.5M197.1 22.7L200.2 21.3M128.5 122.4L131.6 125.6M172.9 53.8L179.8 51.0M227.8 18.8L233.3 14.2M156.8 133.5L160.7 131.6M208.3 49.2L212.6 47.1M244.5 139.4L248.9 143.6M227.0 139.3L234.8 144.1M178.2 138.6L184.5 143.2M192.7 135.2L195.4 137.8M185.6 52.2L191.4 50.2M124.8 117.1L134.2 122.5M222.9 26.9L226.9 25.3M178.9 113.6L186.5 117.9M179.4 53.6L186.8 47.9M212.0 44.3L217.3 41.2M161.2 116.2L167.4 119.6" stroke="#ddff00" stroke-width="0.8" fill="none" stroke-linecap="round"/>
<path d="M234.3 49.1L239.6 45.4M283.5 19.6L286.4 18.8M157.5 120.5L162.8 123.5M171.1 51.8L176.6 49.9M245.2 56.7L251.5 54.5M222.2 132.3L229.9 138.5M139.7 121.6L142.4 124.2M188.6 51.9L193.5 49.8M201.3 53.1L205.3 50.9M201.1 22.2L204.3 18.3M241.0 57.6L249.3 50.6M207.1 30.4L213.2 25.5M264.6 120.9L270.1 122.8M246.2 143.2L250.3 138.2M221.1 112.1L227.1 119.0M139.1 153.5L145.0 145.4M236.8 143.6L244.9 146.6M250.2 51.7L253.8 47.4M273.1 52.1L279.7 50.2M216.9 36.4L222.2 32.9M264.5 121.0L270.9 124.7M196.6 120.5L201.9 123.1M199.7 117.0L208.7 119.6M263.9 41.0L268.6 34.2M208.0 46.7L216.0 41.2M217.7 32.6L225.9 36.4M229.1 128.1L236.2 131.2M286.2 126.6L291.5 128.4M196.2 55.1L201.3 46.9M247.6 37.1L253.8 35.2M169.1 141.6L178.2 147.2M246.0 131.2L255.0 134.0M213.9 39.5L216.9 38.4M193.4 28.4L198.8 22.8M150.1 154.0L153.0 157.6M230.0 27.9L234.1 24.0M248.0 153.8L258.0 157.2M209.4 115.6L217.8 120.5M213.9 47.4L217.3 46.4M102.0 120.6L103.4 125.7M103.6 125.4L105.8 133.4M199.3 129.9L208.8 126.4M185.6 38.1L188.6 36.9M96.1 46.1L97.4 51.0M216.2 54.6L223.7 50.1M258.1 55.7L265.1 52.8M262.3 54.8L268.7 51.7M261.9 138.4L266.5 132.2M237.3 57.4L247.4 54.2M215.4 117.9L223.0 120.3M272.7 20.3L278.0 17.3" stroke="#aaff00" stroke-width="0.9" fill="none" stroke-linecap="round"/>
<path d="M266.5 25.2L273.1 22.7M211.2 136.0L220.8 140.9M176.3 24.9L181.9 17.9M143.7 44.7L150.7 36.6M236.7 42.3L246.6 39.5M145.5 42.7L152.2 38.0M284.1 39.0L288.8 37.0M103.8 46.2L105.9 53.8M114.4 24.1L117.3 14.1M225.0 140.8L230.4 143.1" stroke="#66ee00" stroke-width="1.1" fill="none" stroke-linecap="round"/>
<path d="M167.3 149.8L175.8 156.1M183.6 10.3L189.7 18.0M104.2 52.3L105.5 47.5M172.8 28.7L178.4 22.0M135.9 32.3L140.5 27.8" stroke="#22dd11" stroke-width="0.9" fill="none" stroke-linecap="round"/>
<path d="M278.1 50.1L283.3 48.5M173.3 48.1L181.4 44.0M171.1 118.5L176.3 120.4M251.9 53.0L255.6 57.5M237.8 51.2L245.9 48.8M233.8 117.7L237.2 119.5M187.5 51.7L192.8 49.4M271.7 115.3L279.2 117.5M253.8 143.1L259.4 136.6M216.1 53.2L221.1 51.8M196.3 148.3L199.8 145.7M211.1 147.0L215.1 152.0M258.6 151.4L266.8 158.5M184.3 53.5L187.9 52.1M234.8 55.3L240.4 51.5M178.1 43.2L186.7 46.0M189.1 120.0L196.8 117.7M231.3 145.9L237.6 151.5M230.4 26.5L238.5 23.1M152.5 120.8L158.2 122.9M230.7 19.1L235.6 14.9M239.3 140.3L243.1 141.8M285.4 133.0L289.2 131.1M156.9 42.9L161.9 40.4M261.5 128.9L269.7 132.6M268.1 47.7L272.3 43.6M271.4 125.9L273.8 127.9M217.7 55.6L223.3 46.3M268.5 117.9L275.8 121.0M207.6 27.1L210.1 25.5M197.4 122.0L201.7 123.9M243.6 53.5L251.2 51.4M282.5 52.0L288.5 45.0M143.2 115.1L148.5 118.0M223.7 17.1L228.5 15.2M269.0 16.5L277.1 11.6M283.1 141.4L292.8 145.6M267.4 55.7L274.2 53.7M251.1 37.2L260.4 33.5M237.2 138.1L245.2 135.2M138.2 52.1L144.3 44.4M237.7 39.5L246.3 36.1M215.0 34.1L222.1 28.4" stroke="#ccff00" stroke-width="1.0" fill="none" stroke-linecap="round"/>
<path d="M170.1 60.7L174.3 57.6M147.0 104.7L156.0 106.3M284.7 111.6L287.8 114.2M119.3 67.0L128.0 61.9M109.8 64.1L112.9 62.4M132.7 60.0L139.2 57.3M251.7 107.9L254.9 109.1M162.8 110.3L170.4 112.9M215.1 63.9L222.2 59.8M248.5 105.3L255.0 108.2M163.4 113.9L169.9 111.6M171.2 66.5L176.2 61.1M199.4 104.3L207.0 107.4M107.2 31.5L109.4 23.2M155.7 138.9L159.4 141.3M214.6 108.4L220.0 111.1M256.2 65.7L262.0 63.4M151.1 113.2L160.0 116.1M159.6 108.9L166.7 106.4M181.8 27.7L188.0 22.6M157.3 113.6L160.0 116.0M231.2 68.5L236.3 60.5M119.4 60.7L126.8 54.8M188.4 38.0L195.4 35.3M108.0 62.3L109.7 59.5M169.3 142.3L172.3 144.4M152.1 33.0L155.5 29.4M146.1 64.6L149.6 60.4M195.8 61.0L199.3 59.7M225.1 104.5L235.3 106.5M258.3 107.6L263.7 110.0M129.5 55.5L135.0 53.4M197.6 27.5L202.0 20.5M159.8 113.1L169.4 117.0M224.8 61.0L232.8 57.5M103.9 150.7L105.4 156.1" stroke="#ffcc00" stroke-width="0.8" fill="none" stroke-linecap="round"/>
<path d="M216.0 151.6L221.8 154.0M246.7 37.2L248.6 34.5M192.9 146.6L200.7 150.8M178.2 143.5L181.9 145.9M202.7 144.5L208.0 149.4M220.8 130.3L223.4 132.2M226.4 140.7L229.3 142.5M245.3 19.1L249.8 16.8M248.3 132.8L251.3 135.3M271.8 136.6L278.9 143.6M222.9 129.5L228.4 131.4M168.7 128.5L172.5 133.0M266.9 36.9L274.0 32.3M257.8 22.9L263.3 19.5M286.2 140.8L293.4 148.0M169.5 137.1L171.8 139.3M207.7 130.6L217.3 133.5M204.3 136.3L211.5 139.2M279.3 19.5L286.8 17.4M207.4 133.7L211.4 138.0M225.8 134.6L235.6 137.6M222.5 21.6L226.1 20.0M217.7 130.9L226.4 128.0M262.1 154.8L269.8 157.9M171.7 128.8L180.2 131.8M203.5 34.2L213.0 29.8" stroke="#bbff00" stroke-width="0.9" fill="none" stroke-linecap="round"/>
<path d="M284.0 118.1L287.6 119.7M260.4 127.4L269.2 130.2M214.3 121.6L221.2 124.3M276.9 128.2L285.6 132.5M271.7 147.1L278.8 150.7M136.3 39.9L142.1 33.2M249.1 141.3L253.1 142.8M141.7 45.1L146.8 41.5M238.0 24.9L241.3 20.0M232.0 22.6L241.3 19.0M253.0 117.9L257.6 120.5M235.3 43.2L239.3 41.7M222.2 17.2L232.2 21.7M184.2 120.0L193.3 125.1M283.7 24.6L290.3 22.1M278.8 33.7L282.9 37.4M269.4 143.4L276.6 146.0M196.4 128.4L201.9 130.0M261.8 119.3L271.0 122.0M233.4 48.9L236.1 47.2M271.9 16.0L281.5 12.9M131.8 119.9L137.8 123.9M155.8 117.2L164.9 120.6M144.6 119.7L153.9 116.9M233.1 39.5L236.6 45.1M233.9 132.2L242.5 134.9M224.5 37.0L229.8 32.4M249.4 34.9L255.6 30.6M280.1 133.7L283.5 135.5M248.2 39.8L252.6 34.0M253.6 153.1L257.0 154.5M245.1 141.9L249.6 146.3M258.6 45.3L262.6 44.0M161.7 133.2L167.0 140.4M204.6 147.5L210.8 156.1M132.9 54.3L139.0 51.2M240.7 45.5L247.6 43.2M186.3 45.8L194.4 38.3M188.0 32.6L192.1 29.4M269.4 119.5L278.9 122.9M221.5 50.9L226.2 43.5M236.3 50.2L238.4 47.9M150.7 119.9L154.8 123.2M234.7 141.2L243.7 145.4M185.3 137.3L192.8 143.1M117.1 58.1L123.2 54.9M284.7 132.1L289.5 139.4M194.4 36.1L198.1 34.7M266.7 32.2L273.9 29.9M253.5 122.9L257.7 127.7M203.6 154.3L206.3 156.2M140.0 112.7L144.7 119.5M266.0 40.6L271.6 38.9M284.8 142.5L294.1 146.0M206.0 118.6L210.3 125.6M193.8 126.4L199.6 129.9M239.7 46.6L246.6 42.0M246.6 47.4L257.0 44.1M240.4 21.8L243.8 18.9M171.4 128.1L177.8 131.3M193.9 144.6L203.4 149.3M184.9 125.7L189.4 129.9M203.4 129.3L206.9 132.6M214.3 54.0L218.4 52.5M192.6 130.5L201.9 133.6M181.3 123.6L187.1 125.3M211.1 123.5L220.6 127.9M227.2 13.1L236.6 18.2M225.9 139.5L233.5 142.8M252.9 51.8L256.5 50.6M196.8 139.9L204.2 142.7M202.1 114.5L209.6 119.7M108.0 125.6L108.9 128.7" stroke="#eeff00" stroke-width="0.9" fill="none" stroke-linecap="round"/>
<path d="M191.4 58.6L195.8 53.6M171.4 63.8L173.6 60.6M100.0 66.5L102.8 64.9M173.7 26.3L176.3 24.8M184.1 58.3L190.1 56.3M162.3 58.8L166.4 54.0M262.1 109.1L266.2 114.6M111.0 62.0L116.2 56.1M182.6 65.7L191.6 60.7M119.6 107.2L124.1 108.9M101.2 31.8L103.9 21.6M181.4 103.8L186.9 108.1M262.9 63.0L271.8 57.8M232.0 110.1L234.9 111.4M117.0 106.6L122.7 112.9M185.6 104.5L194.8 108.0M207.8 111.3L215.5 117.7M132.5 22.2L135.7 17.3M139.4 60.6L145.6 56.9M227.8 109.7L238.1 113.4M112.0 123.0L114.5 132.3M114.1 111.3L123.5 115.9M246.8 65.8L254.0 63.7M147.1 112.8L157.5 116.0M236.0 106.2L240.3 112.4" stroke="#ffcc00" stroke-width="0.9" fill="none" stroke-linecap="round"/>
<path d="M133.0 54.8L137.9 52.6M143.3 115.2L152.4 119.9M125.6 48.0L131.4 42.0M152.1 134.3L156.9 137.9M202.2 140.8L204.0 143.3M116.2 63.3L121.3 61.8M253.8 156.0L257.7 157.7M183.6 138.6L186.7 140.0M181.8 153.8L187.2 159.6M279.7 143.4L285.2 145.8M176.1 53.3L182.5 47.9M240.0 126.8L246.5 134.1M264.8 51.6L273.8 45.8M223.9 31.6L228.4 29.6M96.7 36.3L98.0 31.4M229.7 21.4L233.2 19.6M266.4 35.4L270.7 32.5M212.2 32.3L219.4 29.2M116.2 125.2L122.1 134.4M270.0 116.8L277.3 118.9M225.6 123.7L236.1 126.9M242.0 146.4L251.9 149.4M216.8 55.8L220.6 54.4M227.9 149.4L233.0 154.8M173.1 123.9L178.4 126.1M259.6 46.4L269.6 42.5M281.6 127.3L287.6 129.7M161.0 151.5L164.9 156.7M210.6 32.4L213.4 31.5M245.0 131.8L250.6 134.0M230.6 21.6L237.2 17.7M270.0 19.5L275.4 10.9M211.6 154.6L215.1 151.5M186.2 116.6L189.8 117.9M208.9 54.3L211.6 52.6M262.1 130.1L265.9 131.5M184.0 154.9L187.2 158.7M132.4 21.4L136.2 15.7M105.2 43.3L107.0 36.7M140.8 54.2L145.1 49.0M261.9 122.0L269.6 126.5M236.5 142.2L242.1 140.2M244.7 140.4L253.2 143.1M229.1 142.1L235.2 146.5M277.0 149.2L286.9 152.0M186.4 56.1L195.5 50.0M199.5 44.3L208.4 38.6M259.6 122.4L269.6 126.7M203.5 119.7L211.9 123.4M263.5 121.2L267.1 126.6M193.1 13.8L195.2 16.1M199.8 116.4L206.9 119.2M238.2 16.6L247.0 11.6M267.5 33.6L272.4 28.0" stroke="#ddff00" stroke-width="1.1" fill="none" stroke-linecap="round"/>
<path d="M230.1 26.4L238.3 19.9M202.5 54.4L208.7 52.1M286.0 56.7L293.3 50.1M183.3 115.1L190.3 117.1M273.2 149.6L275.6 151.6M264.1 38.9L266.7 35.7M247.9 49.5L254.3 47.2M185.7 115.3L192.2 118.5M144.4 19.7L147.2 16.7M248.7 51.5L258.9 48.3M122.9 56.8L129.3 52.5M245.7 152.1L249.5 157.5M269.0 146.4L273.4 143.1M183.3 151.7L188.3 159.4M178.6 120.3L188.2 123.9M256.7 32.2L265.4 26.9M240.7 116.9L244.6 118.2M102.8 55.8L104.0 51.2M272.6 50.1L276.9 48.9M259.0 20.6L268.4 16.0M192.5 133.8L196.5 135.1M178.9 31.4L185.6 25.8M137.3 19.4L142.7 11.2M284.6 151.1L293.9 154.0M248.9 132.9L253.3 134.3M232.4 43.7L236.8 42.1M273.4 24.9L278.5 23.2M264.2 120.8L270.5 123.3M280.3 25.9L288.5 22.7M216.4 49.1L223.0 46.6M260.4 125.1L262.2 128.0M285.3 46.9L290.4 49.6M158.7 59.3L163.9 51.1M186.9 35.7L189.6 34.1M206.8 115.1L213.3 121.8M235.7 52.4L242.8 48.6M187.7 152.7L196.5 159.2M281.4 139.5L289.5 146.7M185.5 39.9L193.3 36.2M211.4 144.0L220.1 149.1M217.3 49.3L226.2 45.2M234.0 26.7L240.8 24.4M258.1 145.7L265.3 148.3M250.3 11.6L255.4 16.5M205.6 52.4L213.1 49.0M181.3 44.4L185.9 42.7M203.7 121.6L211.5 124.1M152.9 131.7L159.7 136.0M100.1 126.6L101.9 133.3M138.6 119.6L148.5 123.6" stroke="#aaff00" stroke-width="1.0" fill="none" stroke-linecap="round"/>
<path d="M147.1 34.9L154.6 29.0M163.8 141.9L171.2 146.5M103.6 56.8L104.4 53.8M136.7 152.6L139.5 156.4M169.7 38.4L174.7 35.5M147.6 153.6L154.4 160.7M137.6 135.5L140.8 138.4M213.3 21.4L220.0 15.8M191.3 17.9L197.0 12.2M108.1 42.5L109.7 36.6" stroke="#ff9900" stroke-width="1.1" fill="none" stroke-linecap="round"/>
<path d="M231.8 24.4L234.8 23.1M154.9 117.7L157.8 119.0M236.9 120.0L245.5 124.8M227.4 155.1L232.3 157.7M216.2 150.2L225.0 156.3M284.7 148.2L292.3 154.8M124.1 53.1L129.5 48.0M235.8 18.0L241.7 15.8M172.9 23.8L179.2 18.2M193.9 119.5L201.8 122.7M223.5 56.6L230.0 49.5M212.2 136.8L219.7 141.1M238.9 37.0L247.6 33.3M215.8 131.1L222.2 133.3M243.4 149.7L246.8 150.8M225.1 151.9L233.9 147.8M199.5 121.1L204.1 127.0M199.0 124.2L207.8 126.7M126.5 58.2L134.8 53.0M276.1 55.0L281.8 53.2M266.7 57.0L273.9 54.3M165.3 130.1L169.7 136.6M176.7 153.9L179.9 158.8M171.6 50.9L176.5 49.4M269.9 138.1L276.9 142.7M251.4 19.0L260.9 14.9M210.6 45.9L215.8 42.6M276.1 46.1L279.8 47.6M235.8 28.0L241.6 25.5M196.2 155.8L201.4 158.5M263.6 132.9L266.6 133.9M227.7 25.1L231.9 23.6M130.6 114.8L138.1 118.4M231.6 122.3L237.3 127.5M155.0 48.1L160.0 45.9M285.5 49.1L291.6 45.7M188.5 134.2L191.3 135.2M283.9 29.6L290.9 31.9M203.8 138.4L212.2 141.7M257.6 46.0L263.0 41.3M253.0 137.2L255.8 139.9M124.1 114.5L129.5 117.2M251.9 50.1L257.4 46.6M281.6 130.0L290.3 132.8M239.7 43.5L245.7 39.2M266.8 123.5L273.5 125.9M190.8 44.9L194.7 39.0M283.0 127.1L288.4 128.8M287.8 55.5L291.0 52.2M220.9 18.0L223.6 15.6M281.6 51.9L285.0 46.5M197.6 146.1L205.9 141.8M212.2 53.7L215.0 52.5M258.9 27.7L265.3 25.8M219.4 44.2L227.4 41.5M268.0 30.9L275.8 28.2M214.7 37.6L221.3 35.1M228.5 45.3L233.6 43.5M191.5 138.6L199.7 134.9M263.3 14.8L266.8 12.8M232.6 26.3L239.7 23.5M217.2 148.6L225.3 152.0" stroke="#eeff00" stroke-width="1.1" fill="none" stroke-linecap="round"/>
<path d="M159.4 65.1L163.7 62.1M99.3 62.6L101.5 54.6M176.3 64.5L179.2 63.3M128.8 111.0L132.3 114.0M258.9 105.7L262.9 110.7M251.7 65.4L255.2 64.2M127.6 60.0L132.4 53.3M209.5 58.2L217.3 55.8M210.6 108.5L220.0 111.3M104.8 65.3L108.7 63.9M167.9 107.8L171.6 110.9M169.9 114.0L175.2 116.1M164.9 61.2L168.6 60.1M217.8 108.0L227.4 111.2M210.8 57.2L214.6 56.0M148.5 109.2L158.1 113.5M158.5 60.9L166.2 58.4M111.6 63.0L120.3 56.6M242.7 112.2L248.7 114.5M213.8 61.0L217.7 58.8M126.0 114.8L132.0 111.7M106.7 61.8L108.7 59.2M135.8 63.8L142.8 61.2M161.1 110.2L169.1 114.7M193.3 62.0L200.9 59.1M254.0 109.5L262.3 112.0M167.7 66.1L176.8 62.0M117.7 108.0L127.9 111.0M141.9 112.1L144.5 113.7M199.8 105.4L209.7 108.8M248.4 64.4L256.2 61.6" stroke="#ffaa00" stroke-width="0.8" fill="none" stroke-linecap="round"/>
<path d="M255.3 113.7L258.8 117.3M278.6 63.1L282.5 59.6M148.8 112.5L152.0 115.1M205.3 124.2L214.6 128.1M245.2 59.0L253.0 61.4M223.4 56.3L231.7 50.1M231.2 118.6L237.5 120.5M177.3 110.2L182.1 117.8M194.5 117.1L199.3 119.5M264.5 55.6L274.5 51.7M221.8 127.0L226.0 128.5M227.1 110.4L234.1 112.9M260.3 53.7L265.7 55.3M142.0 117.9L148.1 121.1M254.6 63.6L258.2 61.9M233.0 60.3L236.9 58.8M162.2 116.7L167.3 118.2M225.5 45.0L229.1 43.4M243.7 48.5L247.2 44.4M268.8 51.4L272.7 49.6M146.9 123.4L153.5 120.3M208.4 106.0L210.5 108.5M233.0 123.2L240.2 125.6M191.7 58.6L196.4 65.3M244.3 115.7L249.8 120.6M117.0 109.8L123.6 111.9M262.1 49.3L267.0 41.6M160.6 121.8L167.2 128.5M158.0 104.5L168.6 106.5M171.8 106.2L179.8 109.5M186.4 44.7L194.3 42.3M155.6 120.8L159.8 123.6M151.3 105.0L156.5 105.9M189.8 110.5L195.6 119.4M106.6 60.6L111.3 53.8M174.0 61.9L177.8 57.8M259.2 45.5L262.4 44.2M280.5 59.0L283.8 57.3M189.0 122.9L196.3 125.0M111.7 66.7L119.6 61.5M135.3 63.0L141.1 59.3M277.8 106.5L280.6 107.7M98.9 61.1L101.0 53.5M285.1 63.4L293.5 59.7M284.3 117.9L290.1 120.0M152.7 58.6L160.1 55.1M267.1 120.5L276.2 123.1M248.1 47.5L256.8 44.5M161.2 125.7L165.4 128.5M196.6 104.9L205.2 111.7M272.9 116.8L279.1 118.9" stroke="#ffdd00" stroke-width="0.8" fill="none" stroke-linecap="round"/>
<path d="M148.3 44.3L154.7 37.4M164.9 59.4L168.5 58.3M136.3 65.3L144.6 62.6M267.3 109.5L274.2 114.9M283.3 59.0L290.2 63.5M195.9 63.5L203.5 61.1M112.2 59.5L114.7 56.9M260.9 108.3L267.9 110.6M255.0 63.7L261.3 61.9M190.0 106.6L193.1 107.6M244.5 61.0L248.2 56.6M124.4 108.9L133.6 111.7M199.1 105.3L204.2 110.1M209.9 107.2L217.0 115.0M281.9 113.7L288.5 115.8M125.9 63.0L131.8 58.0M283.7 106.0L291.9 109.6M278.0 108.1L283.4 111.1M163.6 65.7L167.2 62.5M235.0 62.7L243.9 58.9M162.7 108.3L171.3 112.4M261.9 111.7L270.9 115.6M276.6 113.5L281.8 111.8M212.5 60.4L216.2 54.6M287.6 57.8L292.0 54.9M162.9 107.4L170.3 112.5M255.7 58.4L258.5 56.9M286.7 114.7L289.9 112.9M197.2 58.8L200.6 57.3M182.6 63.5L186.3 62.0M117.6 108.4L125.6 111.8M137.2 107.3L143.9 111.1M246.5 113.9L254.9 116.4M205.9 68.0L214.6 63.5M103.1 64.9L108.2 60.1" stroke="#ffcc00" stroke-width="1.0" fill="none" stroke-linecap="round"/>
<path d="M266.2 117.2L274.0 111.1M193.9 116.2L201.5 118.5M150.1 122.2L154.8 125.2M197.8 52.0L205.2 48.1M144.2 117.9L148.1 120.4M214.5 59.9L221.0 55.9M175.4 105.9L180.9 108.0M157.8 114.2L165.2 116.5M138.1 114.3L142.0 118.4M126.7 107.7L129.3 110.7M181.1 65.3L186.6 60.0M178.8 126.3L183.5 128.6M241.1 63.7L247.4 60.5M193.7 64.1L199.3 60.9M168.8 58.6L177.1 55.1M282.4 62.6L289.2 58.3M217.6 114.2L225.0 117.2M221.9 129.6L227.7 127.9M225.7 111.2L228.8 116.3M201.3 44.4L206.6 42.8M263.7 123.9L266.7 127.7M243.8 116.0L251.5 119.7M180.1 115.4L185.8 117.4M252.5 119.4L258.6 126.4M257.8 65.1L267.8 62.1M126.5 113.6L132.9 116.3M249.4 125.0L259.5 127.8M252.2 121.3L255.9 125.0M154.4 62.5L158.1 59.9M203.5 46.5L213.4 43.4M242.7 126.0L247.1 128.2M170.0 66.0L172.4 63.8M119.1 123.6L126.7 116.3M196.1 60.3L199.3 58.8M163.4 50.6L171.9 45.2M178.5 47.8L183.1 46.4M178.3 58.5L185.6 51.8M275.9 55.3L282.6 59.4M243.0 116.6L245.8 119.5M154.9 57.8L164.0 54.4M223.4 108.3L229.8 113.0M165.0 113.9L173.2 118.0M203.6 113.6L211.4 116.2M136.7 105.8L142.8 107.8M273.0 64.1L276.0 63.2M111.6 57.9L115.1 55.0M219.8 53.1L226.1 47.8M264.8 114.8L274.4 117.8" stroke="#ffdd00" stroke-width="1.1" fill="none" stroke-linecap="round"/>
<path d="M207.1 148.9L210.9 153.5M204.4 136.7L208.1 138.9" stroke="#2266ee" stroke-width="1.1" fill="none" stroke-linecap="round"/>
<path d="M119.5 114.8L124.8 119.6M229.6 140.7L234.3 145.7M187.1 147.6L196.4 153.3M275.2 24.5L279.6 21.9M183.7 27.5L188.3 21.3M228.7 128.9L237.7 133.6M238.8 132.3L247.0 135.1M223.6 39.3L227.5 37.9M111.1 47.6L113.2 40.6M102.1 52.2L103.0 48.8M116.0 151.7L118.4 160.6M260.7 144.6L269.9 147.2M209.0 144.2L211.9 148.4M164.8 27.0L174.0 21.4M259.0 146.6L262.7 147.7M218.8 136.8L222.6 138.0M170.1 140.9L174.2 143.8M269.6 32.7L278.8 29.1M181.8 139.5L186.8 141.7M113.3 141.0L116.4 150.8" stroke="#66ee00" stroke-width="0.9" fill="none" stroke-linecap="round"/>
<path d="M269.5 20.2L277.0 17.8M120.3 63.2L127.4 57.3M195.9 31.2L202.1 28.5M247.5 30.4L251.0 27.9M246.9 125.4L252.1 122.5M216.6 38.4L222.7 35.4M176.4 151.4L182.4 156.3M258.9 23.7L262.1 21.9M232.1 119.7L239.7 122.3M280.1 133.5L285.4 130.8M174.7 50.5L178.1 49.0M149.9 145.2L156.6 151.9M278.0 136.1L283.0 137.7M207.9 132.2L211.8 133.4M264.9 37.6L273.6 33.6M250.5 156.0L252.9 158.0M227.4 18.1L233.6 14.6M286.4 48.6L292.1 42.9M287.5 123.3L291.0 125.2M150.3 133.4L156.2 138.3M215.7 148.9L217.9 151.9M139.1 18.4L144.8 10.4M211.8 120.6L218.1 125.5M209.3 39.3L212.5 37.5M188.0 53.3L192.1 52.0M198.0 128.5L202.9 135.5M206.6 116.6L216.7 119.4M281.0 56.6L286.9 50.0M204.6 43.5L212.5 41.1M223.3 141.7L231.8 147.7M265.7 17.1L273.5 10.6M263.4 24.8L267.6 22.7M267.2 37.4L272.4 32.6M252.4 35.7L260.6 33.2M216.5 50.6L224.9 45.6M231.9 133.4L239.3 135.7M231.9 49.3L235.0 47.2M252.5 39.8L262.2 36.7M274.1 115.4L278.8 122.1M263.5 38.0L270.5 33.7" stroke="#ccff00" stroke-width="1.1" fill="none" stroke-linecap="round"/>
<path d="M197.7 15.4L201.2 12.3M228.5 37.5L232.5 33.4M230.4 143.0L240.1 147.5" stroke="#00ccbb" stroke-width="0.8" fill="none" stroke-linecap="round"/>
<path d="M280.2 43.4L283.0 39.7M175.5 20.0L177.6 17.8M281.2 135.8L285.4 137.4M109.2 38.1L110.0 34.8M204.3 42.6L209.6 38.5M263.0 23.6L271.3 19.1M231.6 130.7L239.4 137.0M264.2 15.1L268.6 21.6M252.0 38.2L256.1 35.9M274.2 146.8L280.4 149.0M263.5 15.8L272.7 11.5M151.1 59.6L158.0 55.9M154.1 136.7L156.3 139.3M238.2 145.6L245.6 148.3M128.1 34.1L133.4 42.7M285.8 131.2L294.8 135.0M261.5 131.6L266.3 134.7M278.6 43.9L287.2 37.4M281.9 20.5L285.2 19.2M257.5 26.5L261.0 24.1M275.5 30.1L282.1 21.3M275.4 16.9L284.0 11.5M130.8 133.0L133.7 137.6M228.6 28.0L238.2 32.6M178.4 139.2L181.6 136.3" stroke="#00cc55" stroke-width="0.8" fill="none" stroke-linecap="round"/>
<path d="M247.8 46.4L252.4 48.4M216.6 44.8L223.6 51.5M270.8 24.3L280.6 19.7M215.7 115.4L220.5 118.7M183.8 122.2L186.8 123.4M256.5 134.5L266.2 131.1M235.8 143.8L239.6 145.4M134.2 53.0L138.2 50.4M188.8 142.1L191.5 144.6M216.1 139.8L223.3 143.0M231.4 22.5L238.2 15.1M234.7 31.9L237.9 30.2M248.2 57.0L254.7 53.8M276.3 125.8L279.0 130.2M234.8 153.7L238.2 156.2M186.9 23.1L195.9 17.8M115.9 28.0L118.8 18.2M226.2 56.3L230.7 52.9M140.4 53.6L147.0 56.5M168.9 128.3L173.8 130.6M198.8 40.4L208.5 37.6M275.3 23.2L281.5 19.7M178.8 43.2L182.2 42.2M231.0 43.6L235.9 45.7M264.5 28.3L270.3 25.9M166.4 124.2L173.8 131.6M226.3 134.9L235.5 139.9M222.5 116.0L231.3 121.9M235.8 23.3L241.3 17.0M254.1 45.2L263.9 40.4M248.1 146.8L253.2 148.9M190.9 121.5L194.7 122.7M163.5 50.7L171.9 48.2M285.0 143.6L286.6 146.2M234.9 31.9L241.4 24.7M182.9 138.7L185.7 140.9M190.3 150.7L198.0 158.0M286.6 150.6L290.7 152.8M247.4 145.2L252.3 147.2M199.5 36.9L205.2 34.7M256.5 130.7L263.1 135.3M177.6 138.0L180.1 135.4M247.6 20.6L255.4 23.5M257.8 112.9L263.5 118.5M267.9 34.7L271.9 33.4M104.8 115.1L107.4 124.1M243.8 42.1L252.8 38.4M216.5 37.9L219.7 35.9M227.7 138.4L236.8 141.8M110.1 119.0L113.9 125.3M199.8 123.8L205.4 126.6M130.3 129.6L132.6 133.4M242.8 55.5L248.5 46.2M265.3 57.0L270.9 54.6M183.2 22.9L189.7 16.7M198.3 154.7L207.2 159.3M275.4 114.7L284.2 119.0" stroke="#eeff00" stroke-width="1.0" fill="none" stroke-linecap="round"/>
<path d="M170.6 60.9L175.5 59.5M158.3 58.4L166.6 55.1M218.2 112.9L221.8 114.0M134.7 65.2L143.7 62.6M278.6 105.7L281.7 106.6M98.8 66.5L102.2 65.0M157.1 103.8L162.7 107.9M213.7 114.3L219.2 111.0M189.8 61.7L195.4 59.6M220.5 61.5L229.9 58.8M185.4 62.6L192.4 58.6M192.8 60.7L198.9 58.1M204.3 112.5L208.1 110.6M255.3 59.2L263.4 56.4M121.0 105.1L126.8 106.9M175.6 66.5L179.6 65.2M238.3 111.3L241.7 112.4M249.5 65.0L257.3 58.8M108.7 63.5L117.4 60.1M271.6 108.9L276.2 105.6M204.2 63.2L209.5 65.4M174.4 60.0L178.8 53.3M129.0 57.2L133.4 62.1M284.4 66.9L288.0 62.4M204.5 105.8L212.9 110.8M147.3 103.7L156.4 107.5M126.8 60.4L131.9 57.1" stroke="#ffaa00" stroke-width="0.9" fill="none" stroke-linecap="round"/>
<path d="M265.6 27.5L270.2 24.0M235.0 26.1L239.0 24.1M153.2 127.6L160.6 132.6M212.1 132.8L214.4 136.0M205.0 137.0L209.3 139.5M271.9 40.8L279.6 38.6M190.9 151.0L199.5 155.6M190.3 34.4L195.8 31.7M223.8 22.4L229.0 20.4M239.3 134.4L245.8 142.6M216.3 152.8L224.2 156.5M210.8 149.2L215.5 155.9M232.9 132.7L235.9 134.9M273.7 18.3L279.3 14.2M262.3 150.8L266.3 157.1M276.1 39.1L285.7 35.0M232.4 151.9L240.5 156.0M271.0 26.6L279.2 24.1M214.5 147.9L223.4 143.6M220.5 144.8L229.7 148.0M243.1 33.1L251.7 36.4" stroke="#bbff00" stroke-width="1.0" fill="none" stroke-linecap="round"/>
<path d="M264.8 40.1L271.5 35.6M266.4 39.3L272.3 37.5M219.7 131.0L224.8 132.7M257.1 31.6L265.6 25.3M283.8 17.6L291.9 12.2M204.4 146.6L212.5 150.9M156.5 135.9L163.8 141.1M276.6 151.3L286.9 154.2M272.6 147.9L275.9 142.8M237.2 134.5L243.9 129.3" stroke="#33dd11" stroke-width="1.1" fill="none" stroke-linecap="round"/>
<path d="M122.7 146.1L124.9 151.0M170.8 42.2L174.8 39.2M195.2 23.7L199.8 18.6M275.1 152.2L282.7 157.5M101.4 140.4L104.0 149.9M276.6 141.7L278.9 143.9M142.8 46.7L145.2 43.6M279.1 39.4L285.9 34.6M229.7 129.1L233.5 131.9M245.9 146.4L251.7 154.4M261.8 150.6L267.6 152.6M212.6 20.2L215.6 18.2M261.9 132.9L264.5 134.6M273.5 37.8L278.1 36.4M126.5 27.6L131.1 20.1M185.0 41.8L193.2 39.0" stroke="#66ee00" stroke-width="0.8" fill="none" stroke-linecap="round"/>
<path d="M220.1 144.8L228.1 147.9M279.2 131.0L286.3 133.3M281.2 144.0L283.9 147.3M280.5 21.5L285.0 15.2M202.6 22.7L211.6 27.7M224.9 150.2L233.5 156.8M239.2 153.2L243.3 156.4M204.1 136.3L207.1 137.7M239.0 13.0L245.6 15.6M192.8 26.6L200.5 22.8M247.2 144.1L251.3 146.0M282.9 133.9L287.1 135.6M246.6 26.8L255.9 22.1M246.1 131.6L251.6 139.4M279.7 141.0L285.9 146.0M249.0 155.0L258.4 159.3M200.1 130.7L203.3 132.3M254.6 33.9L259.5 28.6M284.3 146.8L287.1 149.5M229.4 151.4L235.3 144.2M285.2 43.9L289.5 38.9M263.0 16.9L269.7 24.8M258.1 139.1L264.6 144.0" stroke="#bbff00" stroke-width="0.8" fill="none" stroke-linecap="round"/>
<path d="M194.7 23.9L198.9 18.7M223.2 40.8L226.6 38.0M195.2 42.2L199.1 40.1M215.2 143.6L222.8 148.7M282.0 39.9L289.7 37.1" stroke="#00bbdd" stroke-width="0.8" fill="none" stroke-linecap="round"/>
<path d="M245.2 147.9L250.0 153.0M273.2 39.4L278.1 33.7M227.0 27.4L231.9 23.9M242.3 150.0L244.9 153.4M267.6 155.9L271.9 158.7M207.0 32.8L211.0 27.1M284.2 154.9L288.7 157.1M260.4 24.1L266.2 19.9M204.7 32.7L209.8 27.8M205.4 137.7L215.0 140.8M276.4 132.1L282.8 134.4" stroke="#33dd11" stroke-width="0.8" fill="none" stroke-linecap="round"/>
<path d="M228.4 12.9L232.5 14.5M248.5 34.9L257.0 28.8M276.8 150.5L280.3 151.5M196.4 132.4L202.4 134.4M211.9 36.4L214.8 35.0M205.5 34.1L212.6 30.6M202.0 29.7L207.9 25.1M121.8 29.1L125.4 21.4M129.6 136.4L134.8 144.3M280.0 128.8L287.9 131.4M100.7 128.8L102.9 137.2M283.9 134.1L291.7 139.3M278.7 17.1L285.8 14.8M231.5 132.4L240.2 136.5M140.9 47.9L148.3 43.2M175.1 138.1L180.1 142.1M274.4 15.3L282.5 19.2M144.8 125.9L151.7 131.2M277.2 142.1L282.8 144.0M264.6 28.3L271.6 21.8M228.7 144.9L235.7 148.3M99.2 25.5L101.8 15.6" stroke="#00cc55" stroke-width="1.0" fill="none" stroke-linecap="round"/>
<path d="M249.1 112.2L256.1 115.1M163.3 65.5L172.5 62.5M97.5 66.9L99.2 60.5M263.7 110.1L268.0 103.4M256.9 64.7L266.6 60.8M228.5 113.4L231.6 114.3M109.6 67.8L118.5 62.5M279.4 111.7L283.5 113.4M253.8 60.4L256.8 59.5M263.8 111.4L272.4 113.9M187.4 59.2L195.8 56.5M156.9 61.2L160.5 57.7M142.7 58.2L152.2 54.0M189.0 64.1L191.9 63.1M269.9 114.7L274.5 116.1M175.5 61.2L181.1 58.5M125.9 108.1L133.3 110.8M146.7 110.2L153.0 112.1M133.1 59.9L141.7 55.8" stroke="#ffaa00" stroke-width="1.0" fill="none" stroke-linecap="round"/>
<path d="M264.0 135.1L268.4 136.5M202.7 141.6L211.4 147.4" stroke="#2266ee" stroke-width="1.0" fill="none" stroke-linecap="round"/>
<path d="M216.5 146.9L220.2 149.0M259.4 155.4L266.5 158.0M256.7 35.4L262.4 33.3M190.0 147.7L192.0 150.0M116.0 35.3L121.4 43.7M236.1 146.9L243.8 152.0M161.7 30.7L164.2 28.9M206.8 135.8L209.7 136.8M199.9 137.4L204.4 139.2M138.2 37.5L141.1 35.1M155.3 128.5L161.4 136.6M269.0 22.3L273.1 21.0M132.1 20.6L135.0 15.8M281.6 42.7L287.1 40.1M268.4 142.5L275.6 139.9M191.8 148.4L195.0 150.7M197.8 143.0L207.0 146.8M220.9 38.2L224.1 36.4M145.0 146.8L149.4 151.9" stroke="#66ee00" stroke-width="1.0" fill="none" stroke-linecap="round"/>
<path d="M217.9 133.1L225.2 140.0M235.2 21.7L242.7 14.5M223.2 32.2L232.7 27.1M232.1 138.4L239.5 141.5M274.6 145.8L277.6 147.5M184.4 140.8L191.8 147.3M196.0 37.3L201.7 32.4" stroke="#2266ee" stroke-width="0.8" fill="none" stroke-linecap="round"/>
<path d="M284.1 130.9L294.1 134.9M217.2 136.8L224.8 139.9M175.2 127.8L184.5 132.4M231.8 150.7L241.2 154.9M240.9 34.2L248.9 31.1M176.1 140.5L178.8 142.7M183.8 145.8L188.0 148.1M171.5 135.0L178.0 138.5M235.8 155.4L238.7 156.8" stroke="#00ccbb" stroke-width="0.9" fill="none" stroke-linecap="round"/>
<path d="M108.9 48.0L110.4 42.3M105.4 126.8L107.4 134.2M104.5 44.4L105.6 40.4M161.9 126.5L165.0 131.7M127.4 125.7L133.0 131.7M120.8 57.2L125.1 51.0" stroke="#00ccdd" stroke-width="0.8" fill="none" stroke-linecap="round"/>
<path d="M207.0 29.9L215.7 23.7M218.2 42.4L223.8 40.1M210.5 145.1L214.5 147.8M284.7 38.1L289.0 33.6M202.3 129.5L212.1 133.4M264.4 30.5L271.7 28.3M200.8 155.0L206.7 158.4M233.9 34.5L241.5 29.4M254.8 16.8L259.2 14.6M244.2 146.0L247.3 150.7M163.4 132.3L168.8 137.3" stroke="#33dd11" stroke-width="1.0" fill="none" stroke-linecap="round"/>
<path d="M149.7 32.0L153.0 29.7M200.5 18.5L203.9 16.0" stroke="#ff9900" stroke-width="1.0" fill="none" stroke-linecap="round"/>
<path d="M170.6 140.7L178.8 145.6M233.9 145.9L242.3 151.8M269.7 150.0L274.0 152.7M202.3 31.3L208.0 29.0M247.6 19.6L251.7 17.3" stroke="#00bbdd" stroke-width="1.1" fill="none" stroke-linecap="round"/>
<path d="M251.4 154.5L257.9 158.6M268.9 32.6L279.4 29.4M278.2 42.6L283.8 40.6M234.3 141.4L240.3 143.6" stroke="#00ccbb" stroke-width="1.1" fill="none" stroke-linecap="round"/>
<path d="M110.9 22.2L112.6 15.7M128.5 28.3L130.7 25.1M145.4 132.9L149.2 138.9M107.2 125.3L108.6 130.5" stroke="#88ee00" stroke-width="1.0" fill="none" stroke-linecap="round"/>
<path d="M195.6 25.2L203.1 18.9M116.7 147.0L118.3 151.3M147.4 126.7L154.7 131.2M133.7 27.0L137.1 22.5M159.0 51.7L165.9 49.5" stroke="#88ee00" stroke-width="0.9" fill="none" stroke-linecap="round"/>
<path d="M174.6 47.4L178.3 43.1M155.6 149.2L157.9 151.5M209.2 16.8L211.7 14.0" stroke="#00ccdd" stroke-width="0.9" fill="none" stroke-linecap="round"/>
<path d="M159.7 23.0L162.1 19.6M173.4 16.5L179.9 11.5M196.8 32.6L200.0 30.1M119.3 66.4L125.9 58.4" stroke="#88ee00" stroke-width="0.8" fill="none" stroke-linecap="round"/>
<path d="M105.2 63.0L111.0 55.8M166.0 18.7L173.2 13.3" stroke="#22dd11" stroke-width="0.8" fill="none" stroke-linecap="round"/>
<path d="M107.2 129.5L109.9 139.6M131.9 33.9L135.0 37.7M129.8 39.7L134.7 33.2M138.9 137.2L141.9 140.2" stroke="#ff9900" stroke-width="0.9" fill="none" stroke-linecap="round"/>
<path d="M129.5 153.7L131.6 160.1M153.9 14.8L156.2 17.7M220.1 17.3L226.5 13.5M182.9 27.9L190.2 24.3M166.0 155.1L168.0 157.8M193.9 26.3L199.9 20.3" stroke="#00ccdd" stroke-width="1.0" fill="none" stroke-linecap="round"/>
<path d="M230.3 154.5L236.0 157.7M247.4 38.1L251.7 39.8M172.2 127.4L178.7 134.2M224.6 43.1L227.4 38.8M271.1 37.4L281.0 32.9M211.4 143.4L217.6 147.5M180.6 132.9L186.8 138.4M201.0 153.0L204.4 156.1M174.8 129.7L183.7 132.7M249.3 31.2L252.2 30.0M214.6 31.3L219.8 27.8M247.7 22.3L253.0 20.6M273.3 138.8L276.2 140.2M257.8 12.0L267.3 15.1M98.9 32.6L100.5 38.4M194.3 144.1L202.6 147.5M227.9 151.9L236.0 155.3M219.8 36.2L222.8 35.2M133.9 39.5L137.0 36.1" stroke="#00cc55" stroke-width="1.1" fill="none" stroke-linecap="round"/>
<path d="M272.5 35.7L276.9 30.9M127.9 138.5L131.2 142.9M118.0 128.1L122.9 135.8" stroke="#2266ee" stroke-width="0.9" fill="none" stroke-linecap="round"/>
<path d="M183.6 144.9L187.9 148.0M214.5 24.0L223.8 20.4M213.2 147.0L216.3 148.7" stroke="#00bbdd" stroke-width="1.0" fill="none" stroke-linecap="round"/>
<path d="M135.4 128.6L139.1 132.5M176.8 19.1L182.9 14.5" stroke="#22dd11" stroke-width="1.0" fill="none" stroke-linecap="round"/>
<path d="M147.5 45.9L149.3 43.2M139.5 52.3L147.9 48.3M167.8 16.7L170.2 14.2" stroke="#22dd11" stroke-width="1.1" fill="none" stroke-linecap="round"/>
<path d="M200.4 127.5L209.3 132.9M174.9 134.9L180.3 141.2" stroke="#00bbdd" stroke-width="0.9" fill="none" stroke-linecap="round"/>
<path d="M156.1 131.9L160.6 134.2M99.8 66.7L103.8 64.8" stroke="#88ee00" stroke-width="1.1" fill="none" stroke-linecap="round"/>
<path d="M197.1 34.3L200.8 32.8M171.7 36.8L176.8 34.4" stroke="#00ccdd" stroke-width="1.1" fill="none" stroke-linecap="round"/>
<path d="M121.6 135.3L109.5 146.7M254.2 29.2L235.2 39.4M122.1 122.0L118.0 151.3M204.3 25.6L195.6 30.5M144.7 19.3L160.8 42.4" stroke="#33cc33" stroke-width="1" fill="none" stroke-linecap="round"/>
<path d="M105.7 150.4L106.4 160.5M130.3 40.2L108.8 42.2" stroke="#aaff00" stroke-width="1" fill="none" stroke-linecap="round"/>
<path d="M256.4 129.9L243.5 131.8M237.7 153.8L246.7 158.3M258.7 17.2L264.5 38.8M167.0 23.4L162.4 45.9M188.5 44.8L177.6 58.5" stroke="#00ccdd" stroke-width="1" fill="none" stroke-linecap="round"/>
<path d="M115.5 43.3L130.8 46.7" stroke="#66ee00" stroke-width="1" fill="none" stroke-linecap="round"/>
<path d="M254.6 133.4L243.4 141.2" stroke="#00dd22" stroke-width="1" fill="none" stroke-linecap="round"/>
<path d="M101.6 35.6L134.0 47.7" stroke="#2255ee" stroke-width="1.3" fill="none" stroke-linecap="round"/>
<path d="M101.6 22.5L140.0 31.0" stroke="#22cc44" stroke-width="1.1" fill="none" stroke-linecap="round"/>
<path d="M240.0 39.5L280.0 31.0" stroke="#2244dd" stroke-width="1.2" fill="none" stroke-linecap="round"/>
<path d="M256.0 28.0L285.0 21.5" stroke="#00bbdd" stroke-width="1.1" fill="none" stroke-linecap="round"/>
<path d="M151.0 153.4L167.7 145.3" stroke="#2244dd" stroke-width="1.3" fill="none" stroke-linecap="round"/>
<path d="M161.0 117.5L172.0 123.0" stroke="#ee3300" stroke-width="1.1" fill="none" stroke-linecap="round"/>
<path d="M192.4 126.5L203.6 128.7M229.0 45.0L232.0 57.0M259.0 41.0L261.5 53.0" stroke="#ff5500" stroke-width="1.0" fill="none" stroke-linecap="round"/>
<path d="M221.6 128.7L224.7 135.5" stroke="#ee3300" stroke-width="1.0" fill="none" stroke-linecap="round"/>
<path d="M110.6 107.6L120.5 115.2" stroke="#ff4400" stroke-width="1.0" fill="none" stroke-linecap="round"/>
<path d="M104.0 60.0L108.0 63.5" stroke="#ee2200" stroke-width="1.2" fill="none" stroke-linecap="round"/>
</g>
<polygon points="101.3,63.9 287.4,53.5 287.4,70 101.3,70" fill="#ffcc00"/>
<polygon points="101.3,64.1 287.4,55.0 287.4,70 101.3,70" fill="#ff8800"/>
<polygon points="101.3,64.3 287.4,57.0 287.4,70 101.3,70" fill="#ff3300"/>
<polygon points="101.3,64.5 287.4,58.5 287.4,70 101.3,70" fill="#ee0000"/>
<polygon points="101.3,65.0 287.4,62.0 287.4,70 101.3,70" fill="#bb0000"/>
<polygon points="101.3,65.4 287.4,64.5 287.4,70 101.3,70" fill="#8a0000"/>
<polygon points="101.3,65.7 287.4,66.3 287.4,70 101.3,70" fill="#600000"/>
<polygon points="101.3,106.8 287.4,116.5 287.4,100 101.3,100" fill="#ffcc00"/>
<polygon points="101.3,106.6 287.4,114.5 287.4,100 101.3,100" fill="#ff8800"/>
<polygon points="101.3,106.4 287.4,112.3 287.4,100 101.3,100" fill="#ff3300"/>
<polygon points="101.3,106.2 287.4,110.5 287.4,100 101.3,100" fill="#ee0000"/>
<polygon points="101.3,105.7 287.4,107.8 287.4,100 101.3,100" fill="#bb0000"/>
<polygon points="101.3,105.3 287.4,105.8 287.4,100 101.3,100" fill="#8a0000"/>
<polygon points="101.3,105.1 287.4,104.4 287.4,100 101.3,100" fill="#600000"/>
<polygon points="101.3,65.9 287.4,67.3 287.4,103.6 101.3,104.9" fill="#520000"/>
<g clip-path="url(#cV)">
<rect x="287.4" y="16.5" width="4" height="137.8" fill="#bbee44" opacity="0.5"/>
<path d="M322.8 96.3L323.2 96.8M312.7 100.7L311.9 101.0M288.8 67.0L288.6 67.5M289.5 98.0L289.1 98.0M288.0 114.8L287.7 115.4M311.8 99.2L311.4 100.3M291.8 128.7L292.4 129.2M290.4 106.9L290.0 107.0M316.0 69.7L315.9 70.1M288.3 104.8L288.1 105.0M289.6 36.4L290.0 36.4M290.9 118.7L290.3 119.1M291.3 63.9L291.6 63.9M288.3 133.1L288.1 133.2M324.1 70.0L323.5 70.5M291.0 100.6L290.8 100.8M292.1 28.6L292.6 29.1M290.7 107.9L290.5 108.9M320.0 101.3L320.5 101.7M290.0 119.7L290.8 120.0M317.5 101.2L318.0 101.6M288.6 65.0L288.3 65.1M303.0 96.8L302.9 97.0M324.3 99.1L323.8 99.5M326.0 72.7L327.2 73.0M287.4 33.6L287.5 33.8M292.3 96.9L292.6 97.8M315.7 96.0L315.9 96.8M289.2 64.9L289.6 65.2M292.0 72.1L292.4 72.5M298.6 73.8L298.2 73.9M290.4 141.6L290.1 141.6M287.6 136.0L287.9 136.1M319.3 70.4L318.3 70.9M287.9 17.2L287.0 17.8M312.1 72.4L312.0 72.7M299.7 72.4L300.2 73.0M288.6 18.0L288.4 18.1M295.9 99.4L296.1 100.1M288.2 126.1L288.0 127.0M322.6 96.3L322.8 97.2M292.0 120.0L291.6 121.0M290.0 96.3L289.2 96.9M291.7 139.1L291.5 140.2M287.8 116.9L287.1 117.8M289.5 98.0L289.3 98.6" stroke="#aaff00" stroke-width="1.05" fill="none" stroke-linecap="round"/>
<path d="M317.2 142.5L317.8 143.1M306.3 118.1L306.2 119.0M293.5 58.0L293.4 58.5M325.2 74.3L325.7 74.4M298.3 111.9L298.1 112.0M289.5 67.8L289.2 67.8M293.3 149.3L292.3 149.6M301.9 111.3L301.2 111.4M290.4 74.0L290.9 74.2M291.2 72.0L290.5 72.5M315.0 70.9L315.3 71.0M298.0 72.5L298.2 72.5M296.6 151.2L297.1 151.7M303.6 122.9L303.4 123.0M313.8 107.8L313.6 108.2M307.6 59.8L307.1 60.5M310.7 56.5L310.9 57.4M308.1 62.9L308.4 63.1M292.6 142.9L292.7 144.0M318.5 139.8L318.3 140.5M308.9 42.1L309.1 42.4M305.1 48.5L305.6 48.5M301.6 40.6L302.2 40.9M325.7 104.9L326.0 105.4M300.0 59.7L300.2 60.0M321.4 118.1L320.7 118.8M309.1 22.9L309.8 23.1M316.7 134.2L317.0 134.5M325.4 109.5L326.2 109.7M320.3 58.6L320.9 58.8M326.6 127.1L327.3 127.7M305.1 135.3L304.8 135.4M292.1 100.7L293.0 101.2M327.3 60.7L327.5 60.8M323.3 152.0L323.7 152.3M297.0 59.0L296.9 59.5M301.2 66.8L301.8 67.3M299.9 27.0L300.8 27.4M327.7 61.1L326.9 61.3M297.7 110.3L297.3 110.3M290.1 110.0L289.9 110.1M295.6 56.8L295.2 56.9M316.6 140.2L317.2 140.6M316.7 103.5L317.4 104.0M325.4 69.1L325.1 69.5M309.9 36.7L310.5 37.5M302.9 98.6L303.8 99.4M320.0 137.6L320.6 138.0M299.0 66.2L299.1 66.9M297.9 102.1L297.8 102.4M298.5 108.1L299.3 108.7M324.9 50.7L325.4 50.9M308.5 61.8L309.1 62.7M314.4 63.5L314.9 64.4M298.1 101.7L297.7 102.5M321.7 106.1L322.0 106.6M319.7 110.3L320.7 110.3M303.7 57.0L304.8 57.1M309.7 111.1L309.7 111.8M293.8 100.2L294.0 100.3M326.4 126.5L327.1 127.4M290.2 128.4L291.0 128.8M290.6 60.8L291.3 61.2M294.0 74.0L294.2 74.3M300.7 116.1L301.1 116.2M295.1 99.5L294.6 99.6M317.6 136.7L317.4 136.9M291.6 53.6L290.9 54.5M315.5 72.1L316.4 72.6M294.4 118.6L293.3 118.7M295.4 96.8L295.1 96.8M326.0 34.3L325.7 34.9M322.3 69.0L322.5 69.1M301.6 61.5L301.9 62.5M306.6 117.3L307.1 117.3M327.2 98.5L327.0 99.3" stroke="#00cc44" stroke-width="1.05" fill="none" stroke-linecap="round"/>
<path d="M303.3 115.7L302.7 116.7M293.9 110.8L293.7 111.3M327.4 55.9L328.5 56.0M295.2 104.8L295.3 105.2M299.3 109.0L300.4 109.1M304.0 109.3L303.3 109.3M289.9 100.5L290.1 101.1M305.0 133.3L305.4 134.2M296.3 63.8L296.4 64.9M327.7 98.3L328.1 99.0M322.1 119.3L321.9 119.6M293.7 69.7L294.3 69.8M317.2 141.1L317.0 142.1M327.5 119.2L328.3 119.4M300.5 50.8L301.4 51.1M327.0 36.8L326.6 37.6M305.4 27.7L304.7 27.9M311.3 110.2L311.9 111.0M299.5 54.4L299.2 54.4M308.8 99.5L308.3 99.5M288.9 153.9L290.0 154.4M322.6 47.0L322.1 48.0M292.3 48.8L292.8 49.2M326.8 25.3L326.9 25.8M303.6 71.2L303.4 71.6M297.3 65.5L297.8 66.3M317.5 113.4L317.7 114.5M321.6 143.1L321.3 143.6M312.3 101.5L313.2 101.5M327.1 26.0L326.4 26.4M293.0 125.9L293.5 126.8M303.4 54.1L303.8 54.2M297.1 60.8L296.3 61.1M316.7 98.0L317.5 98.8M288.9 118.5L288.4 119.5M322.6 100.0L322.2 100.5M324.0 71.4L323.8 71.9M295.9 129.7L296.1 130.4M306.8 144.1L306.2 144.6M302.1 24.5L302.5 24.8M288.3 120.8L288.8 121.9M324.4 40.2L324.9 40.2M308.6 42.1L308.4 42.1M327.9 112.1L328.0 112.6M288.3 42.5L287.5 42.6M297.0 143.2L297.3 143.6M326.4 132.4L325.6 132.9M321.8 40.2L320.9 40.2M320.2 71.9L320.5 72.2M320.1 132.3L320.7 132.6M317.0 52.3L316.5 52.5M324.9 68.8L324.4 69.9M310.0 104.4L309.6 105.0M293.8 115.9L293.8 116.2M295.2 42.3L295.1 42.9M324.4 99.8L323.4 100.2M299.6 143.0L300.3 143.9M303.8 110.9L304.3 111.1M302.1 47.0L302.6 47.9M288.1 124.6L288.7 124.6M304.9 109.7L305.7 110.4M304.1 103.7L303.9 103.9M316.7 153.7L316.5 154.3M290.4 118.4L290.0 119.3M310.5 51.1L310.3 51.8M323.5 27.7L323.1 28.3M296.4 37.6L296.0 38.1M295.9 63.7L295.5 64.7M302.1 44.1L302.1 45.3M300.9 139.8L301.3 139.8M310.2 64.7L309.3 65.4M310.6 21.1L311.3 21.5M325.9 67.4L325.4 67.6M311.9 35.1L312.0 35.5M293.3 111.2L293.0 111.6M315.9 45.5L315.7 46.2M327.9 111.5L328.3 112.2M305.7 66.0L305.4 66.0M288.3 147.5L288.4 147.9M292.6 104.9L292.3 105.4" stroke="#00cc66" stroke-width="1.05" fill="none" stroke-linecap="round"/>
<path d="M296.3 65.6L297.2 65.7M320.8 34.6L320.0 34.8M291.4 134.8L291.7 134.9M317.4 132.4L317.0 132.5M310.3 96.4L309.5 96.9M297.4 32.0L296.6 32.9M319.6 40.9L320.6 41.4M289.0 67.1L288.6 67.7M293.4 152.4L293.8 152.5M319.0 120.6L318.9 121.0M294.0 144.7L294.1 145.2M291.3 118.7L291.1 118.9M314.7 108.0L315.0 108.1M316.9 53.2L316.7 53.4M306.8 114.4L307.2 115.1M292.9 32.3L293.3 32.4M327.3 112.2L326.6 113.0M288.7 24.5L289.3 25.0M290.5 73.9L289.5 74.5M293.0 136.1L292.2 136.3M319.2 55.7L319.7 55.9M307.9 58.4L308.5 58.4M293.8 113.0L294.7 113.5M303.9 53.5L304.7 53.8M315.9 119.5L315.5 119.7M316.3 48.4L316.8 49.0M289.3 138.0L289.3 139.0M312.5 101.7L312.2 101.8M309.4 67.0L308.9 67.5M292.8 131.4L292.7 131.7M299.0 127.5L298.6 128.4M298.4 69.4L299.3 69.5M297.9 65.2L298.0 65.6M327.5 44.5L328.4 44.8M306.5 100.0L307.5 100.2M298.1 107.9L297.8 108.3M302.3 64.4L301.9 64.9M297.5 60.1L298.5 60.7M298.4 111.2L299.2 111.3M301.1 118.1L300.5 118.2M313.5 104.9L313.2 105.2M288.9 137.1L289.0 137.7M295.2 27.4L294.3 27.9M288.7 71.2L288.5 71.4M327.6 34.2L328.1 34.2M314.5 105.8L314.3 106.9M327.9 122.2L328.3 122.6M326.4 61.7L325.7 62.0M299.7 96.4L299.6 97.1M311.8 62.5L312.2 63.0M301.6 62.3L301.3 62.8M306.8 119.8L305.8 120.0M317.1 108.0L318.1 108.2M311.2 129.5L310.9 130.5M309.7 71.0L310.6 71.0M309.4 135.5L309.1 135.7M293.9 47.0L293.4 47.1M287.5 29.2L287.6 30.3M317.9 96.8L318.1 97.2M325.7 68.6L325.9 68.8M317.4 102.5L317.3 102.8M323.9 150.1L324.3 150.1M295.6 71.8L296.0 72.3M295.4 54.5L295.2 54.6M318.9 132.5L318.6 133.4M296.9 98.1L297.4 98.9M309.0 56.3L309.9 56.6M313.9 30.4L313.0 30.9M313.1 43.9L314.2 44.1M326.4 152.2L326.5 152.5M311.4 101.8L311.0 101.9M303.8 53.7L303.3 54.4M291.9 147.0L292.0 148.1M300.6 98.8L301.2 98.9M314.5 62.6L314.5 62.8M290.9 72.5L291.2 73.1M287.4 122.8L287.1 123.1M294.8 74.2L295.0 74.8M323.5 102.5L323.9 103.2M326.6 23.2L326.5 24.1M314.0 66.5L315.2 66.6M316.1 121.4L315.9 122.0" stroke="#3344ee" stroke-width="1.05" fill="none" stroke-linecap="round"/>
<path d="M317.7 130.7L317.6 131.2M303.2 96.2L303.7 96.5M295.2 26.3L295.3 26.8M317.6 50.4L317.6 51.0M313.2 20.0L313.7 20.7M322.7 67.4L322.4 67.7M327.8 138.6L327.4 139.2M293.6 25.8L293.4 26.9M294.1 63.6L294.0 64.4M298.8 67.6L298.5 67.8M313.4 19.5L314.1 19.7M307.6 23.3L308.2 23.4M306.8 96.2L307.1 96.4M304.3 18.4L304.3 19.5M309.2 74.1L309.5 75.1M311.9 101.4L312.0 102.1M299.2 154.0L299.7 154.1M304.3 65.0L303.9 65.7M306.0 113.4L305.3 113.7M316.3 70.6L316.5 71.0M310.6 115.9L311.0 116.3M294.7 40.3L294.4 40.6M295.1 105.7L294.9 105.8M318.4 117.0L317.5 117.6M293.0 142.1L293.0 143.2M320.9 107.2L321.3 107.7M287.9 51.8L288.7 52.0M307.8 149.5L307.4 150.3M305.8 116.8L305.9 117.1M299.4 28.6L300.2 28.9M318.1 153.1L317.7 153.5M305.0 115.5L305.4 115.6M303.0 53.1L303.2 53.7M291.0 142.1L290.7 143.1M325.7 138.9L326.3 139.1M327.8 109.5L327.4 110.0M289.8 111.8L289.2 111.9M291.3 118.4L292.2 118.8M303.6 108.9L303.4 109.0M322.0 41.1L322.2 41.2M307.9 107.7L308.5 107.7M297.1 130.0L297.0 131.1M299.2 53.5L298.9 54.0M318.4 30.4L318.2 30.6M326.0 21.1L326.1 21.3M314.2 44.5L313.7 44.6M291.4 107.6L291.0 108.7M292.0 23.7L292.4 24.7M289.6 96.5L289.4 96.7M305.5 137.6L305.9 138.5M291.1 114.8L291.7 115.0M326.5 101.3L327.1 101.6M322.5 34.4L322.1 34.7M292.6 32.4L292.9 32.7M306.3 59.6L306.2 60.7M319.4 68.4L318.2 68.4M310.2 37.1L311.0 37.5M323.2 74.1L322.5 74.5M297.3 121.1L296.7 121.4M327.2 68.3L326.5 69.2M308.7 96.3L309.2 97.4M322.3 101.1L323.4 101.4M326.1 62.2L326.0 63.1M304.4 105.1L305.2 105.8M308.2 127.8L308.0 128.3M308.4 132.8L308.5 133.5M293.3 23.3L293.5 23.5M323.4 53.1L322.7 53.2M304.7 57.1L304.4 57.1M321.0 96.4L320.9 96.8M305.7 107.7L306.5 108.1M287.8 18.5L287.6 19.5M288.1 150.9L287.5 151.7M294.7 43.7L295.3 43.8M323.2 66.0L323.3 66.7M310.9 69.8L310.3 70.2M299.7 67.8L299.5 67.9M327.1 58.3L326.8 58.6M309.3 109.6L308.8 110.3M287.6 100.5L288.0 101.0M319.0 59.9L319.7 60.1M318.9 138.0L319.6 138.1M294.3 114.4L294.5 114.5M320.1 59.3L320.4 59.9M303.0 116.9L303.1 117.5M311.7 98.5L312.4 99.0M293.0 37.8L292.9 38.3M303.7 45.1L303.6 46.2M324.0 45.2L324.1 45.5M300.9 153.9L301.6 153.9M318.4 99.5L318.9 100.1" stroke="#1166ff" stroke-width="1.05" fill="none" stroke-linecap="round"/>
<path d="M293.3 129.0L292.9 129.1M305.2 68.0L305.4 68.4M297.7 136.9L297.2 137.0M323.5 70.9L323.4 72.0M306.8 149.2L307.4 149.8M322.2 152.5L322.0 152.8M297.5 119.4L296.5 119.4M288.4 32.1L288.8 32.2M291.5 102.8L291.8 102.9M323.2 133.4L323.8 133.9M318.6 119.3L319.3 120.2M313.5 114.8L313.1 115.3M319.1 45.1L318.6 45.8M321.2 33.8L321.5 34.7M314.8 65.5L315.4 66.5M287.6 36.6L287.2 37.1M290.2 43.4L290.0 43.5M315.6 120.7L315.7 121.0M303.2 97.9L302.4 98.0M288.0 56.2L287.8 56.5M315.1 129.3L315.4 129.9M298.4 133.4L298.5 134.5M326.9 69.3L326.8 69.5M327.1 96.8L326.6 97.8M305.8 106.8L306.8 106.9M299.4 108.5L298.9 109.1M312.5 108.4L312.5 108.8M314.0 112.0L314.3 112.4M311.3 134.8L312.0 135.0M295.9 71.0L295.6 71.1M298.5 62.0L298.9 62.1M310.1 122.5L310.1 123.3M327.7 107.6L328.4 107.7M311.6 107.9L311.1 108.5M325.7 153.1L325.6 154.2M308.7 134.7L308.9 135.3M301.5 102.6L301.4 103.1M315.8 34.9L315.1 35.0M287.5 96.0L288.1 96.1M307.6 123.9L307.1 124.3M298.0 73.1L297.4 73.5M307.9 35.4L308.4 36.4M320.2 46.3L320.4 46.7M289.6 24.8L289.8 25.0M320.7 49.9L320.5 50.4M295.2 69.8L295.0 70.5M294.2 66.0L293.1 66.4M294.4 34.1L293.7 34.5M300.6 40.4L300.8 40.5M303.8 17.5L304.3 17.8M311.3 115.6L312.0 115.7M326.4 124.1L325.7 124.4M327.3 16.8L327.4 17.9M305.2 117.2L304.3 117.9M308.3 37.6L307.4 38.4M302.6 101.7L303.1 102.7M289.6 65.8L290.3 66.3M296.0 73.5L296.2 74.4M309.5 120.8L309.7 120.9M297.8 103.2L298.5 103.9M317.4 108.5L316.4 109.2M316.8 114.0L317.9 114.1M294.4 135.0L294.0 136.2M305.5 30.0L305.8 30.4M322.9 65.2L324.0 65.5M316.4 126.8L316.1 127.2M317.7 67.9L318.4 68.6M295.7 17.4L295.5 17.9M325.8 130.9L325.8 131.2M311.6 110.3L312.1 111.0M294.0 66.0L294.2 66.1M298.7 61.6L298.6 62.5M292.1 101.5L292.6 101.6M310.1 54.6L309.9 55.0M298.6 65.2L297.8 65.5M292.9 102.6L292.8 103.3M306.4 143.0L306.7 143.9M316.8 73.9L316.3 74.0M290.2 112.2L291.2 112.8M309.0 67.1L308.9 67.7M303.8 131.0L303.3 131.0M299.4 123.4L298.7 123.5M310.6 56.0L311.2 56.4M317.0 114.5L316.9 115.5M291.9 119.6L291.4 120.5M289.4 148.1L289.5 148.8M319.5 55.9L320.1 56.0M316.3 102.0L315.3 102.6M290.4 109.6L290.5 110.7M297.5 45.8L297.9 45.8M296.9 97.3L297.4 98.4M295.1 22.9L295.5 23.5" stroke="#2255ee" stroke-width="1.05" fill="none" stroke-linecap="round"/>
<path d="M299.1 126.0L300.1 126.0M310.7 68.5L310.1 69.0M302.5 131.1L303.4 131.6M308.5 49.4L309.0 50.1M315.6 50.7L316.2 50.9M325.7 116.3L325.0 116.6M311.2 74.2L310.5 74.6M294.8 65.8L293.9 66.0M327.1 97.5L327.4 97.6M307.2 31.6L306.7 31.7M322.0 28.6L322.2 28.8M312.1 36.4L311.9 36.4M327.6 149.6L327.6 149.9M301.6 71.0L300.5 71.1M306.5 97.8L307.1 98.2M295.5 25.8L295.4 26.0M295.2 70.4L295.0 70.8M317.2 66.1L317.2 67.0M322.5 122.3L323.3 123.1M313.4 59.4L312.6 60.2M314.1 71.5L314.6 72.1M293.2 135.4L293.2 135.9M293.6 19.9L294.7 19.9M303.5 117.7L303.5 118.3M294.4 100.6L294.5 100.8M317.1 55.0L318.2 55.3M324.6 116.7L325.5 117.3M313.8 48.7L313.5 49.1M297.0 33.1L296.7 33.1M311.6 70.4L311.4 70.8M326.0 59.1L326.3 60.1M302.7 68.4L302.1 69.1M301.1 104.4L301.1 105.3M327.1 101.6L326.2 101.9M289.1 118.0L290.0 118.3M300.8 74.0L301.8 74.3M321.6 96.5L322.1 97.3M303.0 29.5L303.4 29.8M315.6 111.9L316.3 112.6M322.5 24.0L322.3 24.7M300.2 17.6L299.7 18.0M317.3 140.6L316.8 140.7M299.7 111.1L300.6 111.3M312.0 32.2L311.4 32.7M308.8 23.3L308.9 23.9M322.1 96.4L321.8 97.5M288.5 149.2L288.4 149.5M299.7 104.8L299.4 104.8M296.6 28.2L296.3 28.3M307.0 104.3L306.8 104.5M317.6 54.9L316.7 55.0M292.9 17.3L293.6 17.7M301.2 70.3L301.4 70.8M315.5 58.0L316.1 58.8M295.7 133.5L295.9 134.1M296.4 42.6L296.7 43.4M295.0 69.3L295.6 69.4M295.5 31.6L295.4 32.3M326.3 112.7L326.1 112.8M307.3 121.0L308.3 121.5M322.5 71.8L322.8 72.7M325.0 114.2L325.3 114.7M288.8 18.2L288.8 18.8M301.4 73.9L301.7 74.4M296.6 66.7L296.2 66.8M324.6 153.9L323.7 154.2M306.2 38.2L307.3 38.7M322.0 53.6L322.0 54.2M298.4 112.0L298.5 112.8M327.5 37.0L328.7 37.3M290.8 113.6L290.9 113.9M293.2 48.7L292.0 48.8M325.3 97.7L324.6 97.8M295.6 122.5L296.6 122.9M308.5 120.5L309.0 120.9M319.5 47.2L318.8 47.7M303.5 21.4L303.7 21.6" stroke="#9955cc" stroke-width="1.05" fill="none" stroke-linecap="round"/>
<path d="M289.0 69.4L288.8 69.8M288.1 25.5L287.2 25.5M288.1 30.2L288.4 30.5M290.3 70.3L290.3 70.6M292.2 135.0L292.5 135.4M289.8 128.3L289.5 128.8M290.0 67.3L289.0 67.4M288.5 148.6L289.2 149.1M288.3 144.3L288.7 144.8M288.4 132.3L287.4 132.5M288.3 22.0L287.4 22.7M288.3 103.4L287.7 103.6M288.6 42.5L289.0 43.3M292.2 145.8L292.4 146.4M288.3 68.3L288.5 68.7M291.7 63.7L291.1 64.1M288.1 96.3L288.9 96.3M288.3 144.8L288.3 145.3M287.5 108.7L287.2 109.2M288.0 131.0L288.2 131.4M287.6 106.0L286.5 106.1M289.5 41.0L289.1 41.0M291.0 119.8L291.7 119.9M290.6 35.0L289.8 35.5M287.7 102.6L288.4 103.0M289.6 67.3L290.4 67.4M289.4 54.4L290.1 54.9M290.4 149.7L289.9 150.2M288.2 106.1L288.8 106.3M289.2 110.2L290.2 110.4M287.6 123.5L288.7 123.6M290.5 112.8L291.6 113.1M290.3 120.6L290.3 121.5M287.7 19.2L286.6 19.5M287.7 56.0L287.6 56.3M289.1 96.9L288.9 97.3M291.0 71.5L290.5 72.0M288.2 59.1L287.7 59.2M290.4 121.1L291.4 121.4" stroke="#ddff00" stroke-width="1.05" fill="none" stroke-linecap="round"/>
<path d="M327.2 67.5L326.5 67.9M292.7 108.0L292.5 109.1M302.3 20.1L301.7 20.8M315.5 21.6L315.1 22.1M315.8 153.5L315.6 154.0M325.5 25.3L324.9 25.4M289.4 100.5L290.0 100.7M296.3 71.9L296.8 72.3M294.7 133.4L294.6 133.6M290.3 123.9L289.7 124.2M296.7 103.3L296.3 103.8M302.2 103.4L301.9 103.9M313.8 111.9L314.2 112.1M288.8 96.3L289.2 96.6M316.9 44.8L317.4 44.9M296.1 17.9L295.8 18.9M306.2 119.2L307.1 119.6M313.0 66.0L313.5 66.2M317.4 60.6L317.3 60.8M327.5 68.2L327.2 68.5M305.6 116.2L304.9 116.2M292.9 151.8L293.9 151.9M324.9 109.2L324.7 109.5M322.8 104.1L323.2 104.3M317.2 135.0L316.9 135.0M305.0 71.3L305.5 72.3M312.8 127.3L312.8 127.5M305.0 105.3L305.7 105.5M311.8 104.4L312.2 105.1M301.1 119.2L301.0 120.1M316.4 131.4L315.4 131.5M318.6 103.6L317.4 103.7M319.4 67.5L319.1 67.5M314.2 55.2L314.0 55.5M322.3 105.6L321.7 105.8M314.0 68.0L314.0 68.7M322.4 48.8L322.2 48.9M321.9 103.2L322.6 104.2M320.0 57.6L319.7 57.6M306.7 147.2L306.4 147.3M318.1 68.1L318.6 68.4M305.7 144.5L304.9 145.0M306.7 110.1L306.5 110.3M291.5 110.4L292.2 111.3M294.6 103.6L294.4 104.2M327.6 38.8L327.9 39.3M302.9 37.5L302.4 37.6M316.6 64.9L316.7 66.0M319.3 96.6L320.4 96.6M312.4 56.9L312.8 57.4M327.6 20.5L327.8 21.1M289.3 60.7L289.8 61.2M291.5 74.2L291.7 74.7M293.1 66.0L293.3 66.3M303.1 105.3L302.5 105.4M315.6 58.2L315.0 59.2M314.3 67.7L314.9 68.1M313.1 116.5L312.9 117.7M289.6 55.6L290.1 56.2M294.0 46.2L293.3 47.0M303.2 145.0L302.4 145.2M295.8 138.9L295.5 139.8M306.0 123.1L305.7 123.2M303.4 44.7L302.9 45.0M326.3 52.6L326.4 53.5M296.5 124.1L295.9 124.6M324.6 102.6L323.7 102.8M293.2 45.3L293.0 45.7M307.6 71.8L308.6 72.5M291.6 45.2L292.0 45.9M320.2 35.7L320.8 36.0M325.5 108.6L325.7 109.1M291.6 48.3L291.6 48.6M287.9 52.5L287.0 52.6M300.0 133.0L299.2 133.5M307.8 110.6L308.3 111.1M310.7 56.8L310.3 56.8M293.7 141.5L293.3 142.5M294.4 51.7L294.6 52.3M309.3 66.2L308.8 67.1M315.7 108.2L315.8 108.4" stroke="#0099ff" stroke-width="1.05" fill="none" stroke-linecap="round"/>
<path d="M322.5 64.2L322.9 64.3M297.8 66.4L298.4 66.8M288.4 100.8L289.0 101.4M290.9 105.4L291.1 105.6M294.0 102.2L294.2 102.5M290.2 144.1L290.2 144.3M290.3 99.1L290.5 99.6M318.1 99.5L317.0 99.5M318.3 99.0L318.8 99.6M303.4 73.1L302.7 73.2M291.5 72.7L291.1 73.0M288.7 21.2L289.5 21.7M295.6 108.1L295.9 108.1M291.4 139.2L292.5 139.4M294.1 101.4L294.6 101.4M320.5 21.5L320.9 22.5M292.9 97.0L292.9 97.7M290.6 99.2L290.1 99.6M289.0 40.4L288.1 40.8M310.1 47.6L310.1 48.1M303.1 98.0L303.0 98.6M296.4 97.1L296.2 97.4M307.2 59.2L306.9 59.8M294.5 98.6L293.8 98.8M321.0 43.9L320.3 44.5M305.5 73.6L305.6 73.8M303.5 107.6L303.8 108.1M317.7 70.3L316.9 70.7M293.8 133.2L294.5 133.4M293.4 51.6L294.4 51.7M305.9 120.1L306.1 120.2M304.1 70.4L304.4 70.4M302.1 64.1L302.9 64.8M298.3 102.7L297.3 102.9M304.0 36.4L305.1 37.0M305.0 99.3L305.6 99.7M308.4 69.1L308.6 70.1M309.1 67.7L309.2 68.7M313.8 121.8L313.1 122.2M296.4 104.9L296.3 105.3M307.0 54.2L307.0 54.8M325.7 109.9L325.9 110.9M288.5 70.6L288.7 70.6M293.1 29.8L292.7 30.8M292.1 126.0L292.2 126.9M293.5 72.7L294.2 73.5M299.1 115.9L298.4 116.4M308.6 134.9L308.1 135.4M321.3 72.6L320.5 73.1M318.8 21.6L318.1 22.2M327.5 98.7L327.1 98.7M317.3 146.4L317.8 147.0M302.1 71.5L301.5 71.5M318.1 71.3L317.6 71.9M325.9 100.1L325.9 100.3M287.7 64.7L287.8 64.9M299.7 42.3L299.6 42.8M288.9 133.6L288.6 134.2M289.9 104.0L289.9 104.4M303.4 126.3L302.8 126.4M290.6 19.6L290.5 20.7M318.3 101.4L317.5 102.2M288.0 64.8L287.6 65.5M288.6 28.0L288.9 28.3M325.2 107.8L325.1 108.9M294.0 69.7L294.3 69.7M313.4 64.6L313.2 64.6M293.7 74.1L293.5 74.7M308.7 116.1L308.5 116.2M327.0 135.8L327.2 135.9M306.3 72.9L305.2 73.1M325.0 72.6L325.7 73.2M303.2 126.1L303.3 126.3M293.1 96.2L292.8 97.3M300.9 98.3L301.5 98.5M317.8 72.7L318.1 73.8M298.5 151.0L298.9 151.5M299.9 96.8L299.8 97.0M325.0 138.6L325.1 139.3M287.8 100.6L287.2 101.6M310.1 69.2L310.1 70.4M304.0 152.5L304.5 153.2M320.0 121.7L320.2 122.0M310.0 55.5L310.4 55.9M304.4 97.7L305.4 98.0M300.1 120.8L300.4 121.9M303.8 70.9L303.6 72.0M296.1 147.8L296.5 148.7M291.6 104.5L291.1 105.0M291.9 27.6L291.1 28.5M326.8 49.9L326.9 50.5M320.6 68.3L321.4 68.5M323.5 69.6L323.1 70.1M292.5 144.0L291.9 144.4M295.4 97.8L294.6 98.1M288.3 53.4L288.0 53.6M287.5 133.7L287.9 133.9M315.6 69.8L315.2 70.2M314.1 72.2L313.7 73.1M293.3 44.8L292.8 45.0M308.5 137.8L308.0 137.9M289.6 96.4L288.9 96.7M320.3 56.5L320.6 56.7M287.8 110.6L287.1 111.2M291.7 147.0L291.5 147.2M308.4 72.1L308.2 72.3M300.0 97.9L299.4 98.6M287.6 35.4L287.3 36.1M320.4 107.1L321.4 107.2M297.2 138.2L298.0 138.3M299.2 100.2L299.1 100.5M304.7 106.9L305.2 107.5M292.6 97.4L292.0 98.3M322.1 102.1L321.4 103.0M298.1 68.9L298.7 69.0M326.0 127.8L326.0 128.1M316.1 120.0L316.2 120.2M322.0 101.6L322.3 101.8M290.5 69.9L290.3 70.2M313.2 35.5L312.7 36.5M292.6 39.7L291.5 40.2M316.2 60.3L316.8 61.2M297.8 121.0L297.4 121.8M291.0 119.9L291.6 119.9M303.0 69.8L302.7 69.9M297.2 140.7L297.2 141.0M294.4 28.3L293.8 28.5M287.7 132.4L287.7 133.3M299.9 44.9L299.5 45.3M307.7 72.3L306.7 72.9M305.8 59.6L306.1 59.9M292.1 62.2L291.8 62.8M326.4 115.9L326.6 116.0M294.8 18.2L295.6 18.4M288.0 137.1L288.1 137.2M302.9 48.4L302.5 48.9M293.8 33.7L293.3 34.1M311.3 62.1L311.8 62.5M292.0 106.9L293.1 106.9" stroke="#66ee00" stroke-width="1.05" fill="none" stroke-linecap="round"/>
<path d="M287.8 18.8L288.3 19.1M287.6 69.2L288.3 69.7M291.6 18.5L291.7 18.7M288.5 140.0L289.4 140.2M290.5 66.9L290.4 67.4M287.8 129.1L288.7 129.5M288.9 43.9L289.0 44.2M290.2 54.0L289.4 54.5M291.7 69.3L291.9 69.5M289.5 44.1L289.6 44.7M287.7 70.2L288.3 71.1M289.8 60.9L289.7 61.7M289.4 152.3L289.5 153.1M287.7 66.4L287.7 67.1M288.0 34.2L288.2 34.4M291.8 39.6L291.1 39.8M288.4 55.1L287.8 55.1M289.3 99.3L289.9 99.5M290.9 144.0L290.6 144.2M290.5 18.1L291.4 18.5M291.6 102.5L291.3 103.0M292.2 142.9L292.3 143.8M291.7 116.8L291.5 117.3M289.7 151.6L289.2 151.6M291.5 30.9L291.4 31.1M288.2 71.2L288.4 71.4M290.0 148.5L290.1 148.8M291.2 63.9L290.6 64.5M291.9 25.9L292.3 25.9M288.8 48.9L288.5 49.8M287.8 58.9L286.8 59.1M289.2 62.8L288.0 63.1M288.0 151.7L288.6 152.3M287.8 55.9L288.7 56.1M290.4 69.9L290.3 70.6M288.7 103.5L288.7 103.8" stroke="#ffee00" stroke-width="1.05" fill="none" stroke-linecap="round"/>
<path d="M324.1 107.8L323.6 108.7M323.4 96.0L322.6 96.6M298.8 46.6L299.2 47.5M320.9 54.8L321.1 55.0M292.3 38.2L292.4 39.1M303.7 41.6L304.3 41.9M291.7 63.0L292.6 63.5M327.1 120.6L327.4 120.7M327.8 133.1L328.6 133.6M307.9 72.0L307.8 72.7M327.8 104.4L328.1 104.9M303.0 72.5L302.7 72.9M299.3 146.8L299.4 147.6M297.1 67.2L296.9 67.4M296.8 109.4L295.7 109.4M298.2 53.9L298.1 54.9M306.6 51.2L306.8 51.7M300.9 96.2L300.4 97.0M320.3 70.0L319.5 70.9M309.9 96.2L309.8 96.5M302.7 73.8L302.7 73.9M303.4 39.9L304.3 40.2M297.6 121.6L297.3 121.8M305.9 120.1L306.2 121.3M319.8 59.7L320.1 60.8M304.4 135.6L304.0 136.0M304.2 71.9L304.1 72.6M325.3 49.9L324.4 50.3M288.5 153.6L288.6 154.1M323.5 109.6L323.7 110.4M302.8 145.2L303.6 145.3M316.6 67.1L316.5 67.3M310.0 70.2L308.8 70.3M302.0 105.0L302.4 105.5M305.5 131.9L306.0 132.0M294.0 96.6L293.8 96.8M312.1 60.5L312.9 60.8M304.4 106.7L304.9 106.7M312.8 96.7L313.1 97.0M314.6 58.7L315.7 59.0M317.3 106.5L316.2 106.9M297.7 115.9L297.7 116.5M313.9 110.2L313.9 111.1M313.2 72.0L314.0 72.8M295.9 106.3L295.6 106.6M315.4 137.7L315.8 138.4M312.7 73.5L311.5 73.8M301.2 132.9L301.9 133.2M295.0 51.3L295.9 51.9M327.3 103.8L327.7 104.8M302.5 102.8L302.6 103.4M305.7 35.5L305.6 35.8M309.4 125.2L310.3 125.9M307.9 120.6L307.3 121.4M315.4 62.4L315.7 62.5M298.2 58.1L298.2 58.4M297.2 64.3L297.3 65.2M314.4 144.7L313.8 145.3M312.5 100.5L313.4 101.0M299.2 99.0L298.5 99.7M298.4 117.1L299.1 117.5M318.1 56.2L318.2 56.4M293.3 16.7L293.1 17.4M304.2 70.3L304.3 70.9M302.3 114.7L301.7 115.2M326.3 60.5L325.5 60.8M305.9 68.3L306.1 69.5" stroke="#00bbcc" stroke-width="1.05" fill="none" stroke-linecap="round"/>
<path d="M312.8 133.4L311.7 133.5M299.0 53.7L298.2 54.2M317.6 102.3L318.1 103.1M327.5 136.3L328.2 136.8M288.8 35.2L288.6 36.0M321.6 32.1L321.0 32.8M318.7 113.4L318.3 113.9M298.3 112.9L298.2 113.3M300.8 62.6L300.6 63.5M318.2 108.6L317.4 109.3M309.2 111.3L309.1 111.6M303.8 44.5L303.2 44.9M305.0 147.7L305.0 148.1M294.6 62.4L294.8 62.5M309.7 135.9L308.7 136.3M327.6 29.1L327.9 29.2M318.6 57.4L319.0 57.9M316.1 122.8L316.1 123.2M290.8 26.7L289.8 26.9M323.7 113.0L324.3 113.7M297.9 109.3L297.4 110.2M311.2 150.8L311.2 151.7M318.8 126.0L317.9 126.7M303.3 117.3L303.8 117.9M319.0 99.7L320.1 99.9M301.7 43.9L301.7 44.6M320.0 68.0L319.9 68.1M290.3 65.9L289.3 65.9M295.6 103.0L295.4 103.9M315.9 66.9L315.8 68.0M309.0 112.1L309.6 112.3M292.7 67.1L293.2 68.1M293.8 62.0L294.8 62.7M317.6 27.5L316.9 27.7M324.9 61.2L324.3 62.0M295.5 100.6L295.9 100.8M308.1 102.4L307.8 102.6M316.7 118.3L316.7 118.7M294.3 38.7L295.3 39.2M303.9 107.1L303.4 107.2M310.3 112.4L310.4 113.1M291.6 126.7L291.9 126.7M300.4 123.6L300.0 123.8M294.9 121.8L295.7 122.3M320.8 37.7L321.3 38.7M290.1 147.8L290.8 148.5M299.1 110.8L298.2 110.9M314.5 125.9L314.9 126.2M287.6 104.9L287.6 105.4M301.6 116.4L301.6 116.8M312.2 96.7L312.2 97.1M321.9 137.8L322.8 138.0M326.2 110.4L326.0 111.4M292.7 61.7L292.3 62.2M292.0 96.8L291.1 97.4M299.3 59.8L299.4 60.4M294.0 97.9L294.2 98.1M288.6 108.3L288.9 108.5M312.4 62.3L313.0 62.5M314.7 28.7L315.0 29.1M302.8 122.7L303.0 122.8M315.6 68.1L315.7 68.2M307.6 62.8L307.9 62.9M313.9 102.6L313.1 103.0M325.7 108.8L324.9 109.5M289.1 123.4L289.0 124.4M294.3 74.2L293.5 74.4M299.6 46.2L300.2 46.6M315.0 111.3L315.6 111.5M297.4 118.5L296.3 118.9M300.4 69.3L300.6 69.7M302.0 152.0L303.1 152.0M293.3 106.2L292.7 106.3M305.9 58.7L306.4 59.3M308.9 109.2L308.9 109.7M298.2 97.3L298.4 97.7M306.2 150.1L306.1 151.1M301.7 151.4L302.0 151.7M326.1 125.8L327.0 126.2M305.0 114.4L305.8 114.9M294.2 56.2L294.0 56.4M325.4 22.8L324.9 23.3M305.5 103.7L305.7 103.9M317.7 48.7L318.3 49.6M312.0 97.1L312.2 98.0" stroke="#22cc22" stroke-width="1.05" fill="none" stroke-linecap="round"/>
<path d="M326.3 62.2L327.1 62.9M311.0 98.1L311.3 98.6M292.5 41.4L291.7 41.7M292.4 69.7L292.4 70.3M304.0 48.0L304.2 48.9M289.3 114.1L289.3 114.4M316.4 106.3L316.8 106.7M295.5 153.1L295.3 153.2M298.9 123.9L298.8 124.1M305.2 60.8L304.7 61.8M310.4 57.6L310.1 57.9M322.4 102.6L322.6 102.7M299.5 70.8L300.0 70.8M321.4 148.9L320.3 148.9M316.2 131.7L316.2 132.2M309.2 16.6L309.8 17.5M311.9 102.8L311.6 103.1M296.5 64.1L297.0 64.8M322.1 71.5L322.7 72.1M322.9 73.8L322.6 74.4M289.2 17.9L289.3 18.7M325.7 49.5L326.7 49.7M304.4 64.8L305.2 65.5M296.9 136.3L297.5 137.0M304.4 106.2L304.5 106.8M323.3 71.8L323.5 72.5M315.2 130.2L315.7 130.3M297.4 55.6L298.5 55.6M299.7 140.7L300.4 140.9M307.1 67.5L307.1 67.8M307.1 124.4L307.3 125.1M308.4 151.7L308.3 151.8M324.1 107.5L324.1 108.1M320.6 143.4L321.2 143.6M299.2 40.1L299.3 40.3M299.3 106.7L299.7 107.3M306.2 96.6L306.4 97.2M295.0 58.1L295.5 59.1M297.9 59.7L297.9 60.1M316.8 41.0L317.3 41.7M316.3 125.4L315.9 125.5M304.5 119.7L304.9 120.5M295.6 17.7L295.8 18.0M324.2 103.5L323.5 103.8M311.5 96.4L310.6 97.1M292.5 107.1L292.8 107.8M297.9 40.5L296.9 40.9M319.5 109.2L319.2 109.4M320.3 139.6L320.9 139.7M311.0 55.1L311.8 55.3M321.1 56.3L321.4 57.1M287.5 30.9L288.1 31.4M288.3 59.2L289.2 60.0M316.8 111.6L316.0 112.2M315.9 103.9L316.0 104.4M289.1 34.0L288.5 34.2M308.3 110.4L307.3 110.6M308.3 119.4L308.3 119.6M297.6 100.1L297.0 100.1M327.7 151.3L327.0 152.0M299.2 137.1L298.8 137.3M289.8 126.1L290.0 126.5M292.5 59.5L291.8 59.9M287.7 105.9L287.6 106.2M294.7 58.7L294.7 59.5M307.3 70.5L307.7 71.3M294.9 59.8L295.2 60.4M297.9 54.4L298.3 54.5M294.9 73.8L294.4 74.3M288.3 16.8L289.1 17.1M295.1 30.5L295.1 30.9M304.9 107.8L305.0 108.7" stroke="#00ccee" stroke-width="1.05" fill="none" stroke-linecap="round"/>
<path d="M288.9 128.7L289.2 129.1M289.4 109.4L289.7 110.2M291.0 114.3L291.2 115.4M288.5 112.3L289.4 112.5M303.7 69.4L303.7 69.7M291.5 128.6L291.6 128.8M288.6 26.5L288.4 27.0M292.1 138.3L291.4 138.4M317.9 69.5L318.3 69.5M317.7 96.5L317.1 96.7M289.3 72.4L289.1 72.9M290.3 68.3L289.4 69.1M291.1 66.2L291.6 67.0M323.4 69.6L324.0 70.0M288.5 42.3L288.3 42.5M291.2 129.5L290.3 129.8M292.2 60.2L292.3 60.5M289.0 45.2L288.7 45.4M290.7 72.5L290.6 73.0M291.9 65.5L291.4 65.6M290.4 53.0L290.1 54.2M314.7 101.2L314.8 101.7M292.2 107.2L291.9 108.2M288.7 28.1L288.6 28.5M300.9 69.1L300.7 69.6M312.7 98.5L311.9 99.2M312.4 98.6L312.6 98.8M299.8 97.9L300.0 98.5M288.5 44.6L287.6 45.2M288.2 68.5L288.2 69.1M291.8 125.7L292.4 126.3M287.4 132.5L286.8 133.5M320.6 69.1L321.3 69.2M290.2 47.3L290.0 48.4M306.0 96.9L306.5 97.1M288.5 100.1L288.8 100.4M292.2 71.1L292.3 71.4M290.6 72.6L290.9 72.8M287.7 42.9L288.2 43.7M291.8 70.2L291.4 70.6M289.7 45.6L290.0 46.2M288.6 107.8L289.3 108.4M324.3 71.4L324.9 71.7M291.2 108.2L291.9 109.1M317.6 97.7L317.4 97.9M289.8 48.1L290.1 48.6M288.2 68.5L288.0 68.7M290.0 49.0L289.8 49.0M288.9 109.3L289.5 109.7M302.7 71.3L302.5 71.8M302.2 100.0L302.2 100.9M289.5 124.3L290.2 124.6M317.1 74.0L317.3 74.5M291.6 117.9L291.8 118.8M290.5 44.0L290.6 44.3M287.8 130.6L287.4 131.1M290.9 124.0L291.8 124.1M315.3 99.9L314.5 100.3M287.4 71.9L288.1 72.6M290.2 40.9L290.8 41.8M300.1 100.4L299.1 100.6M290.4 45.3L289.8 45.3M306.5 69.6L305.6 69.7M288.4 51.7L288.6 52.3M288.2 103.3L287.5 103.7M304.9 70.4L305.4 71.2M304.9 72.0L304.9 72.2M287.8 66.1L288.6 66.6M317.8 73.6L317.8 74.7M305.1 68.9L305.1 69.5M309.0 96.7L309.3 97.2M305.8 101.3L305.8 101.5" stroke="#33dd11" stroke-width="1.05" fill="none" stroke-linecap="round"/>
<path d="M318.0 96.3L318.7 97.2M308.4 73.9L307.4 74.2M303.8 100.1L303.7 101.2M299.4 100.2L299.3 100.4M315.0 73.6L314.0 73.7M303.3 73.0L303.2 73.8M314.1 101.3L314.4 101.9M320.9 72.1L321.9 72.3M293.1 69.6L292.7 70.6M305.3 99.1L305.5 99.8M292.9 98.0L293.6 98.1M312.2 70.9L312.3 71.5M298.6 101.1L298.8 101.6M325.4 70.5L324.3 71.1M324.2 72.6L324.1 73.7M300.9 68.8L301.7 69.4M293.7 96.5L293.3 97.4M313.3 73.8L312.5 74.1M289.3 98.6L289.4 99.3M302.9 73.6L303.9 73.7M289.3 99.2L288.8 100.2M312.4 70.5L313.0 71.3M296.2 71.8L296.2 72.9M327.9 71.3L328.0 71.6M302.5 96.3L302.2 96.9M326.6 74.1L326.8 74.9M318.4 71.8L318.3 72.3M313.2 72.0L314.1 72.6M293.3 72.8L292.9 73.4M292.6 100.7L292.5 100.9M298.2 72.4L299.1 72.5M300.3 69.5L300.9 69.8" stroke="#00cc55" stroke-width="1.05" fill="none" stroke-linecap="round"/>
<path d="M299.8 134.7L299.5 134.7M318.3 118.6L317.8 119.4M321.1 134.6L321.4 134.9M320.7 117.1L320.8 117.6M319.9 102.4L320.8 102.5M316.9 68.5L317.4 68.7M300.3 99.7L300.1 100.8M324.4 140.0L323.9 140.7M320.5 35.9L319.9 36.1M304.5 53.6L304.2 54.2M322.1 37.5L321.8 38.5M313.3 150.7L313.8 151.4M313.3 23.8L313.1 24.2M307.2 54.2L307.8 54.3M296.1 97.1L295.6 97.8M305.8 143.9L305.1 144.2M303.9 60.5L304.9 61.0M311.3 27.9L311.0 28.1M306.1 55.8L305.6 56.0M288.8 17.7L288.7 18.3M305.4 68.6L305.6 68.8M323.0 98.4L323.8 98.9M319.4 154.3L319.9 154.9M322.6 67.0L322.0 67.2M294.3 68.9L294.3 69.3M290.1 73.9L290.7 74.5M315.4 50.1L314.6 50.4M290.7 116.3L290.8 116.5M322.6 18.2L321.5 18.5M292.1 107.9L292.7 108.0M316.5 108.0L315.4 108.1M292.6 51.6L292.9 51.7M288.3 146.1L288.6 147.1M326.9 62.3L327.2 63.5M318.4 57.6L318.6 57.9M295.2 116.1L295.2 116.6M295.2 103.0L294.8 103.5M311.3 69.8L311.0 70.1M306.6 98.9L306.1 99.4M287.6 115.9L287.5 116.3M297.8 46.8L296.7 47.1M310.7 68.8L310.1 68.8M308.9 71.7L309.0 72.0M308.4 103.7L308.4 103.9M311.3 17.0L312.1 17.2M287.4 33.0L287.7 34.1M314.0 114.0L314.1 114.3M312.5 21.5L312.7 21.7M319.1 51.6L319.5 51.8M322.4 65.4L321.6 65.7M313.6 29.0L314.7 29.3M323.3 57.1L323.9 57.2M319.3 113.4L319.2 113.9M311.2 144.0L311.2 145.1M299.9 119.1L299.6 119.7" stroke="#33dd00" stroke-width="1.05" fill="none" stroke-linecap="round"/>
</g>
<path d="M286.4 53.0 L287.4 53.0 A10.5 21.799999999999997 0 0 1 297.9 74.8 L286.4 74.8 Z" fill="#ccee33"/>
<path d="M286.4 117.19999999999999 L287.4 117.19999999999999 A10.5 21.799999999999983 0 0 0 297.9 95.4 L286.4 95.4 Z" fill="#ccee33"/>
<path d="M286.4 54.5 L287.4 54.5 A9.3 20.299999999999997 0 0 1 296.7 74.8 L286.4 74.8 Z" fill="#ffdd00"/>
<path d="M286.4 115.69999999999999 L287.4 115.69999999999999 A9.3 20.299999999999983 0 0 0 296.7 95.4 L286.4 95.4 Z" fill="#ffdd00"/>
<path d="M286.4 55.8 L287.4 55.8 A8.3 19.0 0 0 1 295.7 74.8 L286.4 74.8 Z" fill="#ffaa00"/>
<path d="M286.4 114.39999999999999 L287.4 114.39999999999999 A8.3 18.999999999999986 0 0 0 295.7 95.4 L286.4 95.4 Z" fill="#ffaa00"/>
<path d="M286.4 57.0 L287.4 57.0 A7.4 17.799999999999997 0 0 1 294.79999999999995 74.8 L286.4 74.8 Z" fill="#ff4400"/>
<path d="M286.4 113.19999999999999 L287.4 113.19999999999999 A7.4 17.799999999999983 0 0 0 294.79999999999995 95.4 L286.4 95.4 Z" fill="#ff4400"/>
<path d="M286.4 58.2 L287.4 58.2 A6.6 16.599999999999994 0 0 1 294.0 74.8 L286.4 74.8 Z" fill="#e80000"/>
<path d="M286.4 111.99999999999999 L287.4 111.99999999999999 A6.6 16.59999999999998 0 0 0 294.0 95.4 L286.4 95.4 Z" fill="#e80000"/>
<path d="M286.4 61.0 L287.4 61.0 A4.6 13.799999999999997 0 0 1 292.0 74.8 L286.4 74.8 Z" fill="#b00000"/>
<path d="M286.4 109.19999999999999 L287.4 109.19999999999999 A4.6 13.799999999999983 0 0 0 292.0 95.4 L286.4 95.4 Z" fill="#b00000"/>
<path d="M286.4 64.0 L287.4 64.0 A2.4 10.799999999999997 0 0 1 289.79999999999995 74.8 L286.4 74.8 Z" fill="#700000"/>
<path d="M286.4 106.19999999999999 L287.4 106.19999999999999 A2.4 10.799999999999983 0 0 0 289.79999999999995 95.4 L286.4 95.4 Z" fill="#700000"/>
<rect x="285.9" y="67.3" width="2" height="36.3" fill="#520000"/>
<rect x="287.4" y="74.8" width="66.30000000000001" height="20.60000000000001" fill="#520000"/>
<rect x="327.9" y="16.5" width="21.30000000000001" height="137.8" fill="#c6c6c6"/>
<rect x="349.2" y="16.5" width="4.5" height="137.8" fill="#a2a2a2"/>
<g clip-path="url(#cVI)">
<path d="M335.2 143.0L336.9 144.6M336.9 144.6L338.6 145.8M338.6 145.8L340.1 147.5M340.1 147.5L341.7 149.0M341.7 149.0L343.8 149.5M344.9 35.9L344.4 33.8M344.4 33.8L342.5 32.7M342.5 32.7L341.0 31.1M341.0 31.1L339.3 29.7M339.3 29.7L338.6 27.6M338.6 27.6L338.9 25.4M347.7 109.8L349.5 108.5M349.5 108.5L351.4 107.5M351.4 107.5L353.0 106.0M353.0 106.0L354.4 104.3M334.5 27.6L333.7 25.5M333.7 25.5L331.7 24.6M331.7 24.6L329.9 23.3M329.9 23.3L328.8 21.4M328.8 21.4L328.7 19.2M328.7 19.2L330.0 17.5M339.0 53.3L338.3 51.2M338.3 51.2L339.6 49.5M339.6 49.5L341.0 47.8M341.0 47.8L342.2 46.0M342.2 46.0L343.2 44.0M343.2 44.0L344.8 42.5" stroke="#00aadd" stroke-width="0.9" fill="none" stroke-linecap="round"/>
<path d="M333.8 36.4L332.9 34.4M332.9 34.4L331.0 33.4M343.8 32.3L344.2 34.5M344.2 34.5L345.8 36.0M345.8 36.0L347.9 35.7M328.5 32.8L327.2 31.1M327.2 31.1L327.0 28.9M327.0 28.9L325.7 27.2M327.9 147.3L325.7 147.6M325.7 147.6L325.7 149.8M325.7 149.8L324.4 151.6M324.4 151.6L322.8 153.1M346.6 140.9L348.8 141.1M348.8 141.1L351.0 141.4M351.0 141.4L353.0 142.3M353.0 142.3L354.7 143.7M354.7 143.7L356.9 144.1M356.9 144.1L358.4 142.5" stroke="#00cc44" stroke-width="0.9" fill="none" stroke-linecap="round"/>
<path d="M350.3 113.9L351.6 112.1M351.6 112.1L353.8 112.1M353.8 112.1L356.0 111.6M350.1 50.5L351.2 52.4M351.2 52.4L351.7 54.6M351.7 54.6L352.3 56.7M352.3 56.7L352.8 58.8M342.4 46.1L344.3 47.3M344.3 47.3L346.4 46.9M346.4 46.9L348.6 46.9M348.6 46.9L350.4 48.2M341.8 101.5L341.2 103.4M341.2 103.4L341.1 105.4M343.0 71.5L342.0 69.8M342.0 69.8L340.0 69.6M340.0 69.6L338.0 70.0M345.2 161.5L343.2 161.7M343.2 161.7L341.2 161.8M341.5 69.4L343.4 69.9M343.4 69.9L344.6 71.5M342.5 72.6L340.7 71.7M340.7 71.7L339.7 69.9M339.7 69.9L337.8 69.5M337.8 69.5L335.8 69.0M353.2 49.4L351.2 49.2M351.2 49.2L349.3 48.7M350.2 66.4L351.5 68.0M351.5 68.0L353.5 68.5M353.5 68.5L355.5 68.7M355.5 68.7L356.8 70.2M335.6 100.6L334.4 102.2M334.4 102.2L333.7 104.1M333.7 104.1L332.0 105.2M332.0 105.2L330.4 106.3M338.4 97.8L337.5 99.6M337.5 99.6L336.0 100.9M336.0 100.9L334.0 101.0M334.0 101.0L332.1 100.4M332.1 100.4L330.2 100.9M333.0 46.7L334.7 47.8M334.7 47.8L336.4 48.8" stroke="#33cc33" stroke-width="0.9" fill="none" stroke-linecap="round"/>
<path d="M328.2 27.5L330.2 28.4M330.2 28.4L332.4 28.1M347.3 48.2L348.2 46.2M348.2 46.2L350.1 45.0" stroke="#33dd11" stroke-width="0.9" fill="none" stroke-linecap="round"/>
<path d="M350.7 39.9L352.9 40.0M352.9 40.0L355.1 40.5M355.1 40.5L357.3 40.7M357.3 40.7L359.4 41.3M359.4 41.3L361.6 41.1M348.5 146.4L346.4 146.9M346.4 146.9L344.3 146.2M344.3 146.2L342.6 144.8M342.6 144.8L341.8 142.8M338.7 138.4L337.8 140.4M337.8 140.4L336.5 142.2M336.5 142.2L336.3 144.4M336.3 144.4L336.1 146.6M336.1 146.6L337.4 148.4M344.3 111.0L344.1 108.9M344.1 108.9L342.3 107.5M342.3 107.5L340.5 106.2M340.5 106.2L338.4 106.4M338.4 106.4L336.3 107.3" stroke="#2244ee" stroke-width="0.9" fill="none" stroke-linecap="round"/>
<path d="M335.5 122.4L337.0 120.8M337.0 120.8L338.9 119.8M338.9 119.8L339.4 117.6M339.4 117.6L338.5 115.6M338.5 115.6L337.2 113.8M342.4 137.6L342.3 139.8M342.3 139.8L341.3 141.8M341.3 141.8L342.8 143.4M342.8 143.4L344.7 144.5M344.7 144.5L345.3 146.6M331.7 127.5L333.8 128.0M333.8 128.0L335.5 126.6M335.5 126.6L336.5 124.7M336.5 124.7L336.7 122.5M336.7 122.5L336.8 120.3M336.8 120.3L336.6 118.1M342.0 44.7L343.5 43.1M343.5 43.1L344.8 41.3M344.8 41.3L344.5 39.2M344.5 39.2L343.3 37.3M343.3 37.3L341.7 35.8M341.7 35.8L340.4 34.0" stroke="#00bbcc" stroke-width="0.9" fill="none" stroke-linecap="round"/>
<path d="M348.5 145.6L350.6 145.2M350.6 145.2L352.7 144.6M348.0 35.5L347.8 37.6M347.8 37.6L348.4 39.7M331.7 143.6L332.5 141.5M332.5 141.5L334.2 140.2M334.2 140.2L336.3 139.6M336.3 139.6L338.4 138.8M344.7 110.6L343.6 112.6M343.6 112.6L345.4 113.9" stroke="#22bb55" stroke-width="0.9" fill="none" stroke-linecap="round"/>
<path d="M332.3 71.6L331.8 73.5M331.8 73.5L332.3 75.5M332.3 75.5L333.4 77.1M345.6 101.2L346.6 102.9M346.6 102.9L348.3 103.9M348.3 103.9L349.9 105.1M334.5 49.2L335.4 47.4M335.4 47.4L335.6 45.4M329.0 112.3L328.2 114.1M328.2 114.1L326.6 115.3M326.6 115.3L325.0 116.5M325.0 116.5L323.8 118.1M330.3 97.5L330.1 99.5M330.1 99.5L329.1 101.2M329.1 101.2L329.0 103.2M329.0 103.2L327.5 104.5M327.5 104.5L325.5 104.9M333.8 71.8L331.8 71.8M331.8 71.8L329.8 71.7" stroke="#66dd22" stroke-width="0.9" fill="none" stroke-linecap="round"/>
<path d="M348.7 142.5L347.9 144.3M347.9 144.3L347.3 146.2M347.3 146.2L348.0 148.1M348.0 148.1L348.0 150.1M348.0 150.1L348.4 152.0M343.1 71.7L341.1 71.8M341.1 71.8L339.2 72.2M340.5 152.6L338.5 152.6M338.5 152.6L336.5 152.9M336.3 41.7L337.7 43.1M337.7 43.1L339.4 44.2M338.5 52.2L340.2 53.2M340.2 53.2L342.2 52.9M342.2 52.9L343.6 51.6M343.6 51.6L344.6 49.8" stroke="#2255ee" stroke-width="0.9" fill="none" stroke-linecap="round"/>
<path d="M351.3 68.8L350.2 67.2M350.2 67.2L349.7 65.3M349.7 65.3L348.5 63.6M348.5 63.6L347.3 62.1M347.3 62.1L345.3 61.8M352.4 63.0L351.5 61.2M351.5 61.2L352.2 59.4M352.2 59.4L351.6 57.5M339.2 98.7L340.9 99.6M340.9 99.6L342.9 100.2M342.9 100.2L344.5 101.3M335.5 61.6L336.7 60.0M336.7 60.0L338.7 60.2M338.7 60.2L340.1 61.6M332.0 67.3L333.0 65.5M333.0 65.5L333.2 63.5M333.2 63.5L333.4 61.5M333.4 61.5L334.2 59.7M343.7 66.6L343.6 64.6M343.6 64.6L342.1 63.2M342.1 63.2L341.3 61.4M330.7 72.4L330.4 70.4M330.4 70.4L330.7 68.4M330.7 68.4L330.9 66.4M330.9 66.4L332.1 64.8M340.5 72.7L339.8 74.6M339.8 74.6L339.3 76.5M339.3 76.5L339.3 78.5M339.3 78.5L339.0 80.5M339.0 80.5L339.4 82.4M340.7 126.1L340.6 124.1M340.6 124.1L341.8 122.6M341.8 122.6L343.1 121.0M343.1 121.0L343.8 119.2M343.8 119.2L345.6 118.2M342.1 108.0L341.5 109.9M341.5 109.9L342.0 111.9M335.8 65.0L336.0 67.0M336.0 67.0L335.3 68.8M335.3 68.8L333.4 69.6M333.4 69.6L331.4 69.8M331.4 69.8L330.2 68.3M353.2 67.3L355.1 66.6M355.1 66.6L357.1 66.7M357.1 66.7L359.0 67.3M348.3 114.6L348.4 112.6M348.4 112.6L349.1 110.7" stroke="#99dd22" stroke-width="0.9" fill="none" stroke-linecap="round"/>
<path d="M347.4 67.1L349.4 66.8M349.4 66.8L351.3 66.4M351.3 66.4L353.2 65.7M328.1 25.1L330.0 24.5M330.0 24.5L332.0 24.3M332.0 24.3L332.9 22.5M332.9 22.5L333.9 20.7" stroke="#00bb55" stroke-width="0.9" fill="none" stroke-linecap="round"/>
<path d="M351.1 69.8L353.1 70.0M353.1 70.0L354.6 68.7M354.6 68.7L355.6 67.0M355.6 67.0L357.3 65.9M344.2 64.1L346.1 64.6M346.1 64.6L348.1 64.4M348.1 64.4L350.1 64.2M350.1 64.2L352.1 64.2M352.1 64.2L353.9 65.0M334.9 114.1L335.9 112.4M335.9 112.4L336.1 110.4M328.9 66.4L327.2 65.4M327.2 65.4L325.5 66.5M325.5 66.5L324.2 68.0M324.2 68.0L323.9 70.0M323.9 70.0L324.4 71.9" stroke="#00aacc" stroke-width="0.9" fill="none" stroke-linecap="round"/>
<path d="M340.9 65.0L341.5 65.4M349.4 136.2L350.0 136.6M342.7 142.2L343.3 142.6M333.9 114.3L334.5 114.7M330.8 124.7L331.4 125.1M349.6 17.1L350.2 17.5" stroke="#2244ee" stroke-width="1.1" fill="none" stroke-linecap="round"/>
<path d="M346.4 28.9L347.0 29.3M345.6 149.0L346.2 149.4M351.7 23.1L352.3 23.5M335.7 59.8L336.3 60.2M349.8 140.9L350.4 141.3M346.2 23.9L346.8 24.3M338.3 111.7L338.9 112.1M338.9 139.4L339.5 139.8M331.0 60.4L331.6 60.8M341.2 150.8L341.8 151.2" stroke="#00cc44" stroke-width="1.1" fill="none" stroke-linecap="round"/>
<path d="M343.1 29.8L343.7 30.2M343.3 24.8L343.9 25.2M331.8 129.6L332.4 130.0M353.5 61.8L354.1 62.2M350.7 26.9L351.3 27.3M338.4 144.6L339.0 145.0M341.4 129.8L342.0 130.2M347.6 114.4L348.2 114.8M328.7 63.2L329.3 63.6" stroke="#8855cc" stroke-width="1.1" fill="none" stroke-linecap="round"/>
<path d="M343.7 25.0L344.3 25.4M339.8 58.7L340.4 59.1M331.4 19.8L332.0 20.2M343.7 134.7L344.3 135.1M344.0 134.2L344.6 134.6M331.1 25.8L331.7 26.2M345.1 119.4L345.7 119.8M345.1 140.1L345.7 140.5" stroke="#00bbcc" stroke-width="1.1" fill="none" stroke-linecap="round"/>
<path d="M349.9 64.6L350.5 65.0M349.7 29.7L350.3 30.1M333.5 141.3L334.1 141.7M334.8 55.1L335.4 55.5M352.4 149.3L353.0 149.7M347.0 129.5L347.6 129.9" stroke="#33cc33" stroke-width="1.1" fill="none" stroke-linecap="round"/>
</g>
<rect x="327.9" y="63" width="25.80000000000001" height="11.799999999999997" fill="url(#g6t)"/>
<rect x="327.9" y="95.4" width="25.80000000000001" height="11.799999999999997" fill="url(#g6b)"/>
<rect x="327.9" y="74.8" width="25.80000000000001" height="20.60000000000001" fill="#520000"/>
<rect x="327.9" y="74.8" width="25.80000000000001" height="20.60000000000001" fill="#620000"/>
<rect x="330.2" y="78.0" width="8.6" height="3.2" fill="#100000"/>
<rect x="331.0" y="81.5" width="3.5" height="4.0" fill="#100000"/>
<rect x="335.0" y="81.0" width="3.6" height="5.5" fill="#100000"/>
<rect x="330.4" y="85.8" width="8.2" height="3.0" fill="#100000"/>
<rect x="331.2" y="89.0" width="7.4" height="3.8" fill="#100000"/>
<rect x="340.5" y="74.8" width="1" height="20.60000000000001" fill="#4a0000"/>
<rect x="345.8" y="74.8" width="1.4" height="20.60000000000001" fill="#8a0000"/>
<rect x="350.0" y="74.8" width="1.2" height="20.60000000000001" fill="#7a0000"/>
<rect x="101.3" y="16.5" width="1.7" height="47.5" fill="#a8a8a8"/>
<rect x="101.3" y="106.6" width="1.7" height="47.70000000000002" fill="#a8a8a8"/>
<rect x="119.3" y="16.5" width="1.2" height="47.5" fill="#8a8a8a"/>
<rect x="119.3" y="106.6" width="1.2" height="47.70000000000002" fill="#8a8a8a"/>
<rect x="119.3" y="64.0" width="1.2" height="42.599999999999994" fill="#2a0000"/>
<rect x="128.0" y="16.5" width="0.9" height="47.5" fill="#222222"/>
<rect x="128.0" y="106.6" width="0.9" height="47.70000000000002" fill="#222222"/>
<rect x="128.0" y="64.0" width="0.9" height="42.599999999999994" fill="#380000"/>
<rect x="280.15" y="16.5" width="0.7" height="137.8" fill="#3a2a00" opacity="0.6"/>
<rect x="287.04999999999995" y="16.5" width="0.7" height="137.8" fill="#3a2a00" opacity="0.6"/>
<rect x="327.9" y="16.5" width="1.5" height="56.8" fill="#8c8c8c"/>
<rect x="327.9" y="96.9" width="1.5" height="57.400000000000006" fill="#8c8c8c"/>
<rect x="327.9" y="73.3" width="1.2" height="23.60000000000001" fill="#300000"/>
<text x="102.3" y="16.6" font-family="'Liberation Serif', serif" font-size="14.5" text-anchor="middle" fill="#000" stroke="#000" stroke-width="0.25">I</text>
<text x="117.8" y="16.6" font-family="'Liberation Serif', serif" font-size="14.5" text-anchor="middle" fill="#000" stroke="#000" stroke-width="0.25">II</text>
<text x="137.3" y="16.6" font-family="'Liberation Serif', serif" font-size="14.5" text-anchor="middle" fill="#000" stroke="#000" stroke-width="0.25">III</text>
<text x="287.5" y="16.6" font-family="'Liberation Serif', serif" font-size="14.5" text-anchor="middle" fill="#000" stroke="#000" stroke-width="0.25">IV</text>
<text x="310.2" y="16.6" font-family="'Liberation Serif', serif" font-size="14.5" text-anchor="middle" fill="#000" stroke="#000" stroke-width="0.25">V</text>
<text x="339.5" y="16.6" font-family="'Liberation Serif', serif" font-size="14.5" text-anchor="middle" fill="#000" stroke="#000" stroke-width="0.25">VI</text>
<g stroke="#bdbdbd" stroke-width="1.2" fill="none">
<rect x="68.8" y="3.5" width="302.6" height="164.3"/>
<line x1="69.0" y1="167.8" x2="69.0" y2="165.5"/>
<line x1="69.0" y1="3.5" x2="69.0" y2="5.8"/>
<line x1="102.6" y1="167.8" x2="102.6" y2="165.5"/>
<line x1="102.6" y1="3.5" x2="102.6" y2="5.8"/>
<line x1="136.2" y1="167.8" x2="136.2" y2="165.5"/>
<line x1="136.2" y1="3.5" x2="136.2" y2="5.8"/>
<line x1="169.8" y1="167.8" x2="169.8" y2="165.5"/>
<line x1="169.8" y1="3.5" x2="169.8" y2="5.8"/>
<line x1="203.4" y1="167.8" x2="203.4" y2="165.5"/>
<line x1="203.4" y1="3.5" x2="203.4" y2="5.8"/>
<line x1="237.0" y1="167.8" x2="237.0" y2="165.5"/>
<line x1="237.0" y1="3.5" x2="237.0" y2="5.8"/>
<line x1="270.6" y1="167.8" x2="270.6" y2="165.5"/>
<line x1="270.6" y1="3.5" x2="270.6" y2="5.8"/>
<line x1="304.2" y1="167.8" x2="304.2" y2="165.5"/>
<line x1="304.2" y1="3.5" x2="304.2" y2="5.8"/>
<line x1="337.8" y1="167.8" x2="337.8" y2="165.5"/>
<line x1="337.8" y1="3.5" x2="337.8" y2="5.8"/>
<line x1="371.4" y1="167.8" x2="371.4" y2="165.5"/>
<line x1="371.4" y1="3.5" x2="371.4" y2="5.8"/>
<line x1="68.8" y1="167.9" x2="71.3" y2="167.9"/>
<line x1="371.4" y1="167.9" x2="368.9" y2="167.9"/>
<line x1="68.8" y1="140.5" x2="71.3" y2="140.5"/>
<line x1="371.4" y1="140.5" x2="368.9" y2="140.5"/>
<line x1="68.8" y1="113.1" x2="71.3" y2="113.1"/>
<line x1="371.4" y1="113.1" x2="368.9" y2="113.1"/>
<line x1="68.8" y1="85.7" x2="71.3" y2="85.7"/>
<line x1="371.4" y1="85.7" x2="368.9" y2="85.7"/>
<line x1="68.8" y1="58.3" x2="71.3" y2="58.3"/>
<line x1="371.4" y1="58.3" x2="368.9" y2="58.3"/>
<line x1="68.8" y1="30.9" x2="71.3" y2="30.9"/>
<line x1="371.4" y1="30.9" x2="368.9" y2="30.9"/>
<line x1="68.8" y1="3.5" x2="71.3" y2="3.5"/>
<line x1="371.4" y1="3.5" x2="368.9" y2="3.5"/>
</g>
<text x="69.0" y="174.6" font-family="'DejaVu Sans', 'Liberation Sans', sans-serif" font-size="6.2" stroke="#111" stroke-width="0.15" text-anchor="middle" fill="#111">-1</text>
<text x="102.6" y="174.6" font-family="'DejaVu Sans', 'Liberation Sans', sans-serif" font-size="6.2" stroke="#111" stroke-width="0.15" text-anchor="middle" fill="#111">0</text>
<text x="136.2" y="174.6" font-family="'DejaVu Sans', 'Liberation Sans', sans-serif" font-size="6.2" stroke="#111" stroke-width="0.15" text-anchor="middle" fill="#111">1</text>
<text x="169.8" y="174.6" font-family="'DejaVu Sans', 'Liberation Sans', sans-serif" font-size="6.2" stroke="#111" stroke-width="0.15" text-anchor="middle" fill="#111">2</text>
<text x="203.4" y="174.6" font-family="'DejaVu Sans', 'Liberation Sans', sans-serif" font-size="6.2" stroke="#111" stroke-width="0.15" text-anchor="middle" fill="#111">3</text>
<text x="237.0" y="174.6" font-family="'DejaVu Sans', 'Liberation Sans', sans-serif" font-size="6.2" stroke="#111" stroke-width="0.15" text-anchor="middle" fill="#111">4</text>
<text x="270.6" y="174.6" font-family="'DejaVu Sans', 'Liberation Sans', sans-serif" font-size="6.2" stroke="#111" stroke-width="0.15" text-anchor="middle" fill="#111">5</text>
<text x="304.2" y="174.6" font-family="'DejaVu Sans', 'Liberation Sans', sans-serif" font-size="6.2" stroke="#111" stroke-width="0.15" text-anchor="middle" fill="#111">6</text>
<text x="337.8" y="174.6" font-family="'DejaVu Sans', 'Liberation Sans', sans-serif" font-size="6.2" stroke="#111" stroke-width="0.15" text-anchor="middle" fill="#111">7</text>
<text x="371.4" y="174.6" font-family="'DejaVu Sans', 'Liberation Sans', sans-serif" font-size="6.2" stroke="#111" stroke-width="0.15" text-anchor="middle" fill="#111">8</text>
<text x="66" y="170.1" font-family="'DejaVu Sans', 'Liberation Sans', sans-serif" font-size="6.2" stroke="#111" stroke-width="0.15" text-anchor="end" fill="#111">-3</text>
<text x="66" y="142.7" font-family="'DejaVu Sans', 'Liberation Sans', sans-serif" font-size="6.2" stroke="#111" stroke-width="0.15" text-anchor="end" fill="#111">-2</text>
<text x="66" y="115.3" font-family="'DejaVu Sans', 'Liberation Sans', sans-serif" font-size="6.2" stroke="#111" stroke-width="0.15" text-anchor="end" fill="#111">-1</text>
<text x="66" y="87.9" font-family="'DejaVu Sans', 'Liberation Sans', sans-serif" font-size="6.2" stroke="#111" stroke-width="0.15" text-anchor="end" fill="#111">0</text>
<text x="66" y="60.5" font-family="'DejaVu Sans', 'Liberation Sans', sans-serif" font-size="6.2" stroke="#111" stroke-width="0.15" text-anchor="end" fill="#111">1</text>
<text x="66" y="33.1" font-family="'DejaVu Sans', 'Liberation Sans', sans-serif" font-size="6.2" stroke="#111" stroke-width="0.15" text-anchor="end" fill="#111">2</text>
<text x="66" y="5.7" font-family="'DejaVu Sans', 'Liberation Sans', sans-serif" font-size="6.2" stroke="#111" stroke-width="0.15" text-anchor="end" fill="#111">3</text>
<text x="220.8" y="184.3" font-family="'Liberation Sans', sans-serif" font-size="9.6" text-anchor="middle" fill="#000" stroke="#000" stroke-width="0.2">x in cm</text>
<text transform="translate(57.1,86.5) rotate(-90)" font-family="'Liberation Sans', sans-serif" font-size="9.6" text-anchor="middle" fill="#000" stroke="#000" stroke-width="0.2">y in cm</text>
<text transform="translate(29.4,15.6) scale(0.83,1)" font-family="'Liberation Sans', sans-serif" font-size="15.2" fill="#000" stroke="#000" stroke-width="0.33">a<tspan dx="1.1">)</tspan></text>
<rect x="379.1" y="3.00" width="15.6" height="5.81" fill="#000000"/>
<rect x="379.1" y="8.51" width="15.6" height="5.81" fill="#3a0000"/>
<rect x="379.1" y="14.02" width="15.6" height="5.81" fill="#5c0000"/>
<rect x="379.1" y="19.53" width="15.6" height="5.81" fill="#800000"/>
<rect x="379.1" y="25.04" width="15.6" height="5.81" fill="#aa0000"/>
<rect x="379.1" y="30.55" width="15.6" height="5.81" fill="#ee0000"/>
<rect x="379.1" y="36.06" width="15.6" height="5.81" fill="#ff3300"/>
<rect x="379.1" y="41.57" width="15.6" height="5.81" fill="#ff8800"/>
<rect x="379.1" y="47.08" width="15.6" height="5.81" fill="#ffcc00"/>
<rect x="379.1" y="52.59" width="15.6" height="5.81" fill="#ffff00"/>
<rect x="379.1" y="58.10" width="15.6" height="5.81" fill="#ddff00"/>
<rect x="379.1" y="63.61" width="15.6" height="5.81" fill="#aaff00"/>
<rect x="379.1" y="69.12" width="15.6" height="5.81" fill="#55ee00"/>
<rect x="379.1" y="74.63" width="15.6" height="5.81" fill="#00dd22"/>
<rect x="379.1" y="80.14" width="15.6" height="5.81" fill="#00bb55"/>
<rect x="379.1" y="85.65" width="15.6" height="5.81" fill="#00bbaa"/>
<rect x="379.1" y="91.16" width="15.6" height="5.81" fill="#00ccee"/>
<rect x="379.1" y="96.67" width="15.6" height="5.81" fill="#0099ff"/>
<rect x="379.1" y="102.18" width="15.6" height="5.81" fill="#0033ff"/>
<rect x="379.1" y="107.69" width="15.6" height="5.81" fill="#0000dd"/>
<rect x="379.1" y="113.20" width="15.6" height="5.81" fill="#3300bb"/>
<rect x="379.1" y="118.71" width="15.6" height="5.81" fill="#7700cc"/>
<rect x="379.1" y="124.22" width="15.6" height="5.81" fill="#9900ee"/>
<rect x="379.1" y="129.73" width="15.6" height="5.81" fill="#cc00ee"/>
<rect x="379.1" y="135.24" width="15.6" height="5.81" fill="#ff00ff"/>
<rect x="379.1" y="140.75" width="15.6" height="5.81" fill="#ff55ff"/>
<rect x="379.1" y="146.26" width="15.6" height="5.81" fill="#ee99ee"/>
<rect x="379.1" y="151.77" width="15.6" height="5.81" fill="#ddbbdd"/>
<rect x="379.1" y="157.28" width="15.6" height="5.81" fill="#dddddd"/>
<rect x="379.1" y="162.79" width="15.6" height="5.81" fill="#ffffff"/>
<rect x="379.1" y="3.0" width="15.6" height="165.3" fill="none" stroke="#8a8a8a" stroke-width="0.8"/>
<path d="M379.1 166.70000000000002h1.6M394.7 166.70000000000002h-1.6" stroke="#666" stroke-width="0.9"/>
<text x="398.8" y="5.8" font-family="'DejaVu Sans', 'Liberation Sans', sans-serif" font-size="6" fill="#111" stroke="#111" stroke-width="0.12">1</text>
<text x="398.8" y="33.2" font-family="'DejaVu Sans', 'Liberation Sans', sans-serif" font-size="6" fill="#111" stroke="#111" stroke-width="0.12">0.01</text>
<text x="398.8" y="59.7" font-family="'DejaVu Sans', 'Liberation Sans', sans-serif" font-size="6" fill="#111" stroke="#111" stroke-width="0.12">0.0001</text>
<text x="398.8" y="87.9" font-family="'DejaVu Sans', 'Liberation Sans', sans-serif" font-size="6" fill="#111" stroke="#111" stroke-width="0.12">1x10<tspan dy="-2.5" font-size="4.5">-6</tspan></text>
<text x="398.8" y="114.7" font-family="'DejaVu Sans', 'Liberation Sans', sans-serif" font-size="6" fill="#111" stroke="#111" stroke-width="0.12">1x10<tspan dy="-2.5" font-size="4.5">-8</tspan></text>
<text x="398.8" y="141.8" font-family="'DejaVu Sans', 'Liberation Sans', sans-serif" font-size="6" fill="#111" stroke="#111" stroke-width="0.12">1x10<tspan dy="-2.5" font-size="4.5">-10</tspan></text>
<text x="398.8" y="168.8" font-family="'DejaVu Sans', 'Liberation Sans', sans-serif" font-size="6" fill="#111" stroke="#111" stroke-width="0.12">1x10<tspan dy="-2.5" font-size="4.5">-12</tspan></text>
<text transform="translate(426,86) rotate(-90)" font-family="'DejaVu Sans', 'Liberation Sans', sans-serif" font-size="6.2" text-anchor="middle" fill="#111">Relative dose</text>
<text transform="translate(-0.6,190.8) scale(0.85,1)" font-family="'Liberation Sans', sans-serif" font-size="15.2" fill="#000" stroke="#000" stroke-width="0.42">b<tspan dx="1.2">)</tspan></text>
<g stroke="#a0a0a0" stroke-width="1.1" fill="none">
<rect x="37.4" y="189.2" width="399.4" height="260.7"/>
<line x1="37.6" y1="449.9" x2="37.6" y2="447"/>
<line x1="37.6" y1="189.2" x2="37.6" y2="192"/>
<line x1="81.9" y1="449.9" x2="81.9" y2="447"/>
<line x1="81.9" y1="189.2" x2="81.9" y2="192"/>
<line x1="126.3" y1="449.9" x2="126.3" y2="447"/>
<line x1="126.3" y1="189.2" x2="126.3" y2="192"/>
<line x1="170.6" y1="449.9" x2="170.6" y2="447"/>
<line x1="170.6" y1="189.2" x2="170.6" y2="192"/>
<line x1="214.9" y1="449.9" x2="214.9" y2="447"/>
<line x1="214.9" y1="189.2" x2="214.9" y2="192"/>
<line x1="259.2" y1="449.9" x2="259.2" y2="447"/>
<line x1="259.2" y1="189.2" x2="259.2" y2="192"/>
<line x1="303.6" y1="449.9" x2="303.6" y2="447"/>
<line x1="303.6" y1="189.2" x2="303.6" y2="192"/>
<line x1="347.9" y1="449.9" x2="347.9" y2="447"/>
<line x1="347.9" y1="189.2" x2="347.9" y2="192"/>
<line x1="392.2" y1="449.9" x2="392.2" y2="447"/>
<line x1="392.2" y1="189.2" x2="392.2" y2="192"/>
<line x1="436.6" y1="449.9" x2="436.6" y2="447"/>
<line x1="436.6" y1="189.2" x2="436.6" y2="192"/>
<line x1="37.4" y1="449.9" x2="40.2" y2="449.9"/>
<line x1="436.8" y1="449.9" x2="434" y2="449.9"/>
<line x1="37.4" y1="426.2" x2="40.2" y2="426.2"/>
<line x1="436.8" y1="426.2" x2="434" y2="426.2"/>
<line x1="37.4" y1="402.5" x2="40.2" y2="402.5"/>
<line x1="436.8" y1="402.5" x2="434" y2="402.5"/>
<line x1="37.4" y1="378.9" x2="40.2" y2="378.9"/>
<line x1="436.8" y1="378.9" x2="434" y2="378.9"/>
<line x1="37.4" y1="355.2" x2="40.2" y2="355.2"/>
<line x1="436.8" y1="355.2" x2="434" y2="355.2"/>
<line x1="37.4" y1="331.5" x2="40.2" y2="331.5"/>
<line x1="436.8" y1="331.5" x2="434" y2="331.5"/>
<line x1="37.4" y1="307.8" x2="40.2" y2="307.8"/>
<line x1="436.8" y1="307.8" x2="434" y2="307.8"/>
<line x1="37.4" y1="284.1" x2="40.2" y2="284.1"/>
<line x1="436.8" y1="284.1" x2="434" y2="284.1"/>
<line x1="37.4" y1="260.5" x2="40.2" y2="260.5"/>
<line x1="436.8" y1="260.5" x2="434" y2="260.5"/>
<line x1="37.4" y1="236.8" x2="40.2" y2="236.8"/>
<line x1="436.8" y1="236.8" x2="434" y2="236.8"/>
<line x1="37.4" y1="213.1" x2="40.2" y2="213.1"/>
<line x1="436.8" y1="213.1" x2="434" y2="213.1"/>
<line x1="37.4" y1="189.4" x2="40.2" y2="189.4"/>
<line x1="436.8" y1="189.4" x2="434" y2="189.4"/>
</g>
<text x="38.4" y="458.6" font-family="'DejaVu Sans', 'Liberation Sans', sans-serif" font-size="8.5" text-anchor="middle" fill="#111" stroke="#111" stroke-width="0.12">6.6</text>
<text x="82.7" y="458.6" font-family="'DejaVu Sans', 'Liberation Sans', sans-serif" font-size="8.5" text-anchor="middle" fill="#111" stroke="#111" stroke-width="0.12">6.7</text>
<text x="127.1" y="458.6" font-family="'DejaVu Sans', 'Liberation Sans', sans-serif" font-size="8.5" text-anchor="middle" fill="#111" stroke="#111" stroke-width="0.12">6.8</text>
<text x="171.4" y="458.6" font-family="'DejaVu Sans', 'Liberation Sans', sans-serif" font-size="8.5" text-anchor="middle" fill="#111" stroke="#111" stroke-width="0.12">6.9</text>
<text x="215.7" y="458.6" font-family="'DejaVu Sans', 'Liberation Sans', sans-serif" font-size="8.5" text-anchor="middle" fill="#111" stroke="#111" stroke-width="0.12">7</text>
<text x="260.1" y="458.6" font-family="'DejaVu Sans', 'Liberation Sans', sans-serif" font-size="8.5" text-anchor="middle" fill="#111" stroke="#111" stroke-width="0.12">7.1</text>
<text x="304.4" y="458.6" font-family="'DejaVu Sans', 'Liberation Sans', sans-serif" font-size="8.5" text-anchor="middle" fill="#111" stroke="#111" stroke-width="0.12">7.2</text>
<text x="348.7" y="458.6" font-family="'DejaVu Sans', 'Liberation Sans', sans-serif" font-size="8.5" text-anchor="middle" fill="#111" stroke="#111" stroke-width="0.12">7.3</text>
<text x="393.0" y="458.6" font-family="'DejaVu Sans', 'Liberation Sans', sans-serif" font-size="8.5" text-anchor="middle" fill="#111" stroke="#111" stroke-width="0.12">7.4</text>
<text x="437.4" y="458.6" font-family="'DejaVu Sans', 'Liberation Sans', sans-serif" font-size="8.5" text-anchor="middle" fill="#111" stroke="#111" stroke-width="0.12">7.5</text>
<text x="34.4" y="453.2" font-family="'DejaVu Sans', 'Liberation Sans', sans-serif" font-size="8.5" text-anchor="end" fill="#111" stroke="#111" stroke-width="0.12">0</text>
<text x="34.4" y="429.5" font-family="'DejaVu Sans', 'Liberation Sans', sans-serif" font-size="8.5" text-anchor="end" fill="#111" stroke="#111" stroke-width="0.12">0.1</text>
<text x="34.4" y="405.8" font-family="'DejaVu Sans', 'Liberation Sans', sans-serif" font-size="8.5" text-anchor="end" fill="#111" stroke="#111" stroke-width="0.12">0.2</text>
<text x="34.4" y="382.2" font-family="'DejaVu Sans', 'Liberation Sans', sans-serif" font-size="8.5" text-anchor="end" fill="#111" stroke="#111" stroke-width="0.12">0.3</text>
<text x="34.4" y="358.5" font-family="'DejaVu Sans', 'Liberation Sans', sans-serif" font-size="8.5" text-anchor="end" fill="#111" stroke="#111" stroke-width="0.12">0.4</text>
<text x="34.4" y="334.8" font-family="'DejaVu Sans', 'Liberation Sans', sans-serif" font-size="8.5" text-anchor="end" fill="#111" stroke="#111" stroke-width="0.12">0.5</text>
<text x="34.4" y="311.1" font-family="'DejaVu Sans', 'Liberation Sans', sans-serif" font-size="8.5" text-anchor="end" fill="#111" stroke="#111" stroke-width="0.12">0.6</text>
<text x="34.4" y="287.4" font-family="'DejaVu Sans', 'Liberation Sans', sans-serif" font-size="8.5" text-anchor="end" fill="#111" stroke="#111" stroke-width="0.12">0.7</text>
<text x="34.4" y="263.8" font-family="'DejaVu Sans', 'Liberation Sans', sans-serif" font-size="8.5" text-anchor="end" fill="#111" stroke="#111" stroke-width="0.12">0.8</text>
<text x="34.4" y="240.1" font-family="'DejaVu Sans', 'Liberation Sans', sans-serif" font-size="8.5" text-anchor="end" fill="#111" stroke="#111" stroke-width="0.12">0.9</text>
<text x="34.4" y="216.4" font-family="'DejaVu Sans', 'Liberation Sans', sans-serif" font-size="8.5" text-anchor="end" fill="#111" stroke="#111" stroke-width="0.12">1</text>
<text x="34.4" y="192.7" font-family="'DejaVu Sans', 'Liberation Sans', sans-serif" font-size="8.5" text-anchor="end" fill="#111" stroke="#111" stroke-width="0.12">1.1</text>
<text x="232.9" y="466.5" font-family="'Liberation Sans', sans-serif" font-size="9.8" text-anchor="middle" fill="#000" stroke="#000" stroke-width="0.2">x in cm</text>
<text transform="translate(14.4,322.5) rotate(-90)" font-family="'Liberation Sans', sans-serif" font-size="9.6" text-anchor="middle" fill="#000" stroke="#000" stroke-width="0.2">Normalized dose</text>
<g>
<rect x="86.6" y="235.5" width="2.0" height="11.0" fill="#e2b4f6"/>
<rect x="87.2" y="235.5" width="0.8" height="11.0" fill="#c488ec"/>
<circle cx="87.6" cy="235.7" r="1.05" fill="#a444e2"/>
<rect x="98.9" y="229.2" width="2.0" height="10.7" fill="#e2b4f6"/>
<rect x="99.5" y="229.2" width="0.8" height="10.7" fill="#c488ec"/>
<circle cx="99.9" cy="229.4" r="1.05" fill="#a444e2"/>
<rect x="111.1" y="222.3" width="2.0" height="11.0" fill="#e2b4f6"/>
<rect x="111.7" y="222.3" width="0.8" height="11.0" fill="#c488ec"/>
<circle cx="112.1" cy="222.5" r="1.05" fill="#a444e2"/>
<rect x="123.3" y="217.5" width="2.0" height="12.0" fill="#e2b4f6"/>
<rect x="123.9" y="217.5" width="0.8" height="12.0" fill="#c488ec"/>
<circle cx="124.3" cy="217.7" r="1.05" fill="#a444e2"/>
<rect x="135.4" y="215.1" width="2.0" height="12.1" fill="#e2b4f6"/>
<rect x="136.0" y="215.1" width="0.8" height="12.1" fill="#c488ec"/>
<circle cx="136.4" cy="215.3" r="1.05" fill="#a444e2"/>
<rect x="147.7" y="213.8" width="2.0" height="12.1" fill="#e2b4f6"/>
<rect x="148.3" y="213.8" width="0.8" height="12.1" fill="#c488ec"/>
<circle cx="148.7" cy="214.0" r="1.05" fill="#a444e2"/>
<rect x="159.8" y="213.1" width="2.0" height="12.5" fill="#e2b4f6"/>
<rect x="160.4" y="213.1" width="0.8" height="12.5" fill="#c488ec"/>
<circle cx="160.8" cy="213.3" r="1.05" fill="#a444e2"/>
<rect x="172.1" y="213.1" width="2.0" height="12.6" fill="#e2b4f6"/>
<rect x="172.7" y="213.1" width="0.8" height="12.6" fill="#c488ec"/>
<circle cx="173.1" cy="213.3" r="1.05" fill="#a444e2"/>
<rect x="184.3" y="213.1" width="2.0" height="12.7" fill="#e2b4f6"/>
<rect x="184.9" y="213.1" width="0.8" height="12.7" fill="#c488ec"/>
<circle cx="185.3" cy="213.3" r="1.05" fill="#a444e2"/>
<rect x="196.6" y="213.1" width="2.0" height="12.7" fill="#e2b4f6"/>
<rect x="197.2" y="213.1" width="0.8" height="12.7" fill="#c488ec"/>
<circle cx="197.6" cy="213.3" r="1.05" fill="#a444e2"/>
<rect x="208.9" y="213.8" width="2.0" height="12.5" fill="#e2b4f6"/>
<rect x="209.5" y="213.8" width="0.8" height="12.5" fill="#c488ec"/>
<circle cx="209.9" cy="214.0" r="1.05" fill="#a444e2"/>
<rect x="221.1" y="216.5" width="2.0" height="12.6" fill="#e2b4f6"/>
<rect x="221.7" y="216.5" width="0.8" height="12.6" fill="#c488ec"/>
<circle cx="222.1" cy="216.7" r="1.05" fill="#a444e2"/>
<rect x="233.4" y="222.1" width="2.0" height="11.9" fill="#e2b4f6"/>
<rect x="234.0" y="222.1" width="0.8" height="11.9" fill="#c488ec"/>
<circle cx="234.4" cy="222.3" r="1.05" fill="#a444e2"/>
<rect x="245.5" y="232.4" width="2.0" height="11.7" fill="#e2b4f6"/>
<rect x="246.1" y="232.4" width="0.8" height="11.7" fill="#c488ec"/>
<circle cx="246.5" cy="232.6" r="1.05" fill="#a444e2"/>
<rect x="257.7" y="248.1" width="2.0" height="9.3" fill="#e2b4f6"/>
<rect x="258.3" y="248.1" width="0.8" height="9.3" fill="#c488ec"/>
<circle cx="258.7" cy="248.3" r="1.05" fill="#a444e2"/>
<rect x="270.0" y="266.6" width="2.0" height="10.0" fill="#e2b4f6"/>
<rect x="270.6" y="266.6" width="0.8" height="10.0" fill="#c488ec"/>
<circle cx="271.0" cy="266.8" r="1.05" fill="#a444e2"/>
<rect x="282.2" y="287.8" width="2.0" height="9.2" fill="#e2b4f6"/>
<rect x="282.8" y="287.8" width="0.8" height="9.2" fill="#c488ec"/>
<circle cx="283.2" cy="288.0" r="1.05" fill="#a444e2"/>
<rect x="294.3" y="310.0" width="2.0" height="7.5" fill="#e2b4f6"/>
<rect x="294.9" y="310.0" width="0.8" height="7.5" fill="#c488ec"/>
<circle cx="295.3" cy="310.2" r="1.05" fill="#a444e2"/>
<rect x="306.5" y="332.5" width="2.0" height="5.8" fill="#e2b4f6"/>
<rect x="307.1" y="332.5" width="0.8" height="5.8" fill="#c488ec"/>
<circle cx="307.5" cy="332.7" r="1.05" fill="#a444e2"/>
<rect x="319.0" y="353.9" width="2.0" height="4.3" fill="#e2b4f6"/>
<rect x="319.6" y="353.9" width="0.8" height="4.3" fill="#c488ec"/>
<circle cx="320.0" cy="354.1" r="1.05" fill="#a444e2"/>
<rect x="330.9" y="371.5" width="2.0" height="2.6" fill="#e2b4f6"/>
<rect x="331.5" y="371.5" width="0.8" height="2.6" fill="#c488ec"/>
<circle cx="331.9" cy="371.7" r="1.05" fill="#a444e2"/>
<rect x="343.0" y="387.6" width="2.0" height="1.9" fill="#e2b4f6"/>
<rect x="343.6" y="387.6" width="0.8" height="1.9" fill="#c488ec"/>
<circle cx="344.0" cy="387.8" r="1.05" fill="#a444e2"/>
<rect x="355.2" y="400.9" width="2.0" height="1.5" fill="#e2b4f6"/>
<rect x="355.8" y="400.9" width="0.8" height="1.5" fill="#c488ec"/>
<circle cx="356.2" cy="401.1" r="1.05" fill="#a444e2"/>
<circle cx="368.3" cy="411.4" r="1.05" fill="#a444e2"/>
<circle cx="380.5" cy="418.2" r="1.05" fill="#a444e2"/>
<circle cx="392.7" cy="424.4" r="1.05" fill="#a444e2"/>
<circle cx="404.9" cy="429.6" r="1.05" fill="#a444e2"/>
<circle cx="417.1" cy="433.4" r="1.05" fill="#a444e2"/>
</g>
<path d="M81.80 249.30 L82.44 248.99 L83.33 248.56 L84.38 248.05 L85.52 247.50 L86.67 246.93 L87.75 246.40 L88.78 245.89 L89.82 245.36 L90.87 244.83 L91.92 244.29 L92.97 243.75 L94.00 243.20 L95.01 242.65 L96.01 242.09 L97.01 241.52 L98.00 240.95 L99.00 240.37 L100.00 239.80 L101.01 239.22 L102.03 238.62 L103.05 238.03 L104.07 237.43 L105.09 236.86 L106.10 236.30 L107.10 235.76 L108.10 235.23 L109.10 234.71 L110.10 234.21 L111.10 233.74 L112.10 233.30 L113.11 232.91 L114.13 232.55 L115.14 232.23 L116.16 231.91 L117.18 231.61 L118.20 231.30 L119.22 230.98 L120.24 230.67 L121.26 230.36 L122.27 230.06 L123.29 229.77 L124.30 229.50 L125.30 229.25 L126.30 229.02 L127.30 228.80 L128.30 228.59 L129.30 228.39 L130.30 228.20 L131.31 228.01 L132.33 227.83 L133.34 227.66 L134.36 227.49 L135.38 227.34 L136.40 227.20 L137.42 227.08 L138.44 226.97 L139.46 226.88 L140.47 226.79 L141.49 226.70 L142.50 226.60 L143.48 226.48 L144.43 226.36 L145.38 226.23 L146.35 226.11 L147.38 225.99 L148.50 225.90 L149.73 225.82 L151.03 225.76 L152.40 225.71 L153.80 225.66 L155.21 225.63 L156.60 225.60 L157.96 225.58 L159.32 225.57 L160.68 225.57 L162.07 225.58 L163.50 225.59 L165.00 225.60 L166.57 225.61 L168.21 225.63 L169.90 225.64 L171.61 225.66 L173.31 225.68 L175.00 225.70 L176.67 225.72 L178.33 225.74 L180.00 225.76 L181.67 225.77 L183.33 225.79 L185.00 225.80 L186.67 225.81 L188.33 225.81 L190.00 225.81 L191.67 225.81 L193.33 225.81 L195.00 225.80 L196.72 225.78 L198.52 225.75 L200.31 225.71 L202.04 225.69 L203.62 225.68 L205.00 225.70 L206.10 225.75 L206.96 225.82 L207.68 225.91 L208.36 226.01 L209.10 226.15 L210.00 226.30 L211.09 226.49 L212.29 226.71 L213.55 226.95 L214.81 227.20 L216.01 227.46 L217.10 227.70 L218.05 227.93 L218.89 228.14 L219.68 228.36 L220.45 228.59 L221.24 228.83 L222.10 229.10 L223.01 229.39 L223.95 229.69 L224.91 230.01 L225.89 230.34 L226.88 230.71 L227.90 231.10 L228.95 231.51 L230.04 231.94 L231.16 232.39 L232.27 232.88 L233.35 233.41 L234.40 234.00 L235.39 234.65 L236.34 235.34 L237.26 236.09 L238.19 236.87 L239.12 237.67 L240.10 238.50 L241.12 239.35 L242.17 240.23 L243.24 241.14 L244.31 242.08 L245.37 243.03 L246.40 244.00 L247.39 244.98 L248.34 245.98 L249.29 246.99 L250.23 248.03 L251.20 249.10 L252.20 250.20 L253.27 251.36 L254.40 252.59 L255.54 253.85 L256.67 255.10 L257.74 256.29 L258.70 257.40 L259.52 258.33 L260.21 259.11 L260.84 259.83 L261.48 260.61 L262.18 261.57 L263.00 262.80 L263.90 264.25 L264.81 265.83 L265.78 267.57 L266.87 269.54 L268.13 271.76 L269.60 274.30 L271.35 277.25 L273.36 280.59 L275.53 284.19 L277.79 287.93 L280.04 291.68 L282.20 295.30 L284.30 298.84 L286.40 302.40 L288.51 305.96 L290.60 309.51 L292.66 313.03 L294.70 316.50 L296.68 319.89 L298.61 323.23 L300.52 326.53 L302.44 329.82 L304.39 333.13 L306.40 336.50 L308.48 339.96 L310.61 343.51 L312.77 347.08 L314.96 350.60 L317.14 354.03 L319.30 357.30 L321.46 360.40 L323.64 363.38 L325.82 366.26 L327.98 369.06 L330.11 371.80 L332.20 374.50 L334.23 377.15 L336.20 379.74 L338.14 382.27 L340.08 384.74 L342.02 387.15 L344.00 389.50 L346.01 391.81 L348.04 394.09 L350.09 396.30 L352.13 398.44 L354.17 400.48 L356.20 402.40 L358.21 404.20 L360.22 405.89 L362.23 407.47 L364.22 408.98 L366.21 410.42 L368.20 411.80 L370.17 413.10 L372.11 414.30 L374.05 415.43 L376.00 416.52 L377.98 417.60 L380.00 418.70 L382.07 419.82 L384.17 420.94 L386.29 422.05 L388.44 423.14 L390.61 424.19 L392.80 425.20 L394.96 426.16 L397.09 427.07 L399.24 427.95 L401.46 428.81 L403.79 429.65 L406.30 430.50 L409.22 431.40 L412.57 432.34 L416.04 433.28 L419.33 434.14 L422.11 434.87 L424.10 435.40" fill="none" stroke="#a648e4" stroke-width="1.0" stroke-linejoin="round"/>
<path d="M81.80 249.30h0.01M83.85 248.31h0.01M85.90 247.31h0.01M87.95 246.30h0.01M90.00 245.27h0.01M92.05 244.23h0.01M94.10 243.15h0.01M96.15 242.01h0.01M98.20 240.83h0.01M100.25 239.66h0.01M102.30 238.46h0.01M104.35 237.27h0.01M106.40 236.14h0.01M108.45 235.05h0.01M110.50 234.02h0.01M112.55 233.12h0.01M114.60 232.40h0.01M116.65 231.77h0.01M118.70 231.14h0.01M120.75 230.51h0.01M122.80 229.91h0.01M124.85 229.36h0.01M126.90 228.89h0.01M128.95 228.46h0.01M131.00 228.07h0.01M133.05 227.71h0.01M135.10 227.38h0.01M137.15 227.11h0.01M139.20 226.90h0.01M141.25 226.72h0.01M143.30 226.51h0.01M145.35 226.23h0.01M147.40 225.99h0.01M149.45 225.84h0.01M151.50 225.74h0.01M153.55 225.67h0.01M155.60 225.62h0.01M157.65 225.59h0.01M159.70 225.57h0.01M161.75 225.58h0.01M163.80 225.59h0.01M165.85 225.61h0.01M167.90 225.62h0.01M169.95 225.64h0.01M172.00 225.67h0.01M174.05 225.69h0.01M176.10 225.71h0.01M178.15 225.73h0.01M180.20 225.76h0.01M182.25 225.78h0.01M184.30 225.80h0.01M186.35 225.81h0.01M188.40 225.81h0.01M190.45 225.81h0.01M192.50 225.81h0.01M194.55 225.80h0.01M196.60 225.78h0.01M198.65 225.75h0.01M200.70 225.71h0.01M202.75 225.68h0.01M204.80 225.70h0.01M206.85 225.81h0.01M208.90 226.11h0.01M210.95 226.46h0.01M213.00 226.84h0.01M215.05 227.25h0.01M217.10 227.70h0.01M219.15 228.22h0.01M221.20 228.82h0.01M223.25 229.46h0.01M225.30 230.14h0.01M227.35 230.89h0.01M229.40 231.69h0.01M231.45 232.52h0.01M233.50 233.50h0.01M235.55 234.76h0.01M237.60 236.37h0.01M239.65 238.12h0.01M241.70 239.84h0.01M243.75 241.59h0.01M245.80 243.43h0.01M247.85 245.46h0.01M249.90 247.67h0.01M251.95 249.93h0.01M254.00 252.16h0.01M256.05 254.41h0.01M258.10 256.71h0.01M260.15 259.04h0.01M262.20 261.60h0.01M264.25 264.86h0.01M266.30 268.51h0.01M268.35 272.15h0.01M270.40 275.64h0.01M272.45 279.07h0.01M274.50 282.48h0.01M276.55 285.88h0.01M278.60 289.29h0.01M280.65 292.71h0.01M282.70 296.14h0.01M284.75 299.60h0.01M286.80 303.07h0.01M288.85 306.55h0.01M290.90 310.03h0.01M292.95 313.52h0.01M295.00 317.01h0.01M297.05 320.53h0.01M299.10 324.06h0.01M301.15 327.60h0.01M303.20 331.11h0.01M305.25 334.57h0.01M307.30 338.00h0.01M309.35 341.41h0.01M311.40 344.81h0.01M313.45 348.17h0.01M315.50 351.46h0.01M317.55 354.66h0.01M319.60 357.73h0.01M321.65 360.66h0.01M323.70 363.46h0.01M325.75 366.17h0.01M327.80 368.83h0.01M329.85 371.46h0.01M331.90 374.11h0.01M333.95 376.79h0.01M336.00 379.48h0.01M338.05 382.15h0.01M340.10 384.76h0.01M342.15 387.30h0.01M344.20 389.73h0.01M346.25 392.08h0.01M348.30 394.36h0.01M350.35 396.57h0.01M352.40 398.70h0.01M354.45 400.74h0.01M356.50 402.67h0.01M358.55 404.48h0.01M360.60 406.19h0.01M362.65 407.80h0.01M364.70 409.33h0.01M366.75 410.79h0.01M368.80 412.20h0.01M370.85 413.52h0.01M372.90 414.76h0.01M374.95 415.93h0.01M377.00 417.07h0.01M379.05 418.18h0.01M381.10 419.30h0.01M383.15 420.40h0.01M385.20 421.48h0.01M387.25 422.53h0.01M389.30 423.55h0.01M391.35 424.53h0.01M393.40 425.47h0.01M395.45 426.37h0.01M397.50 427.24h0.01M399.55 428.07h0.01M401.60 428.86h0.01M403.65 429.60h0.01M405.70 430.30h0.01M407.75 430.94h0.01M409.80 431.56h0.01M411.85 432.14h0.01M413.90 432.70h0.01M415.95 433.26h0.01M418.00 433.80h0.01M420.05 434.33h0.01M422.10 434.87h0.01" stroke="#9a2ee0" stroke-width="1.75" stroke-linecap="round" fill="none"/>
</svg></body></html>
